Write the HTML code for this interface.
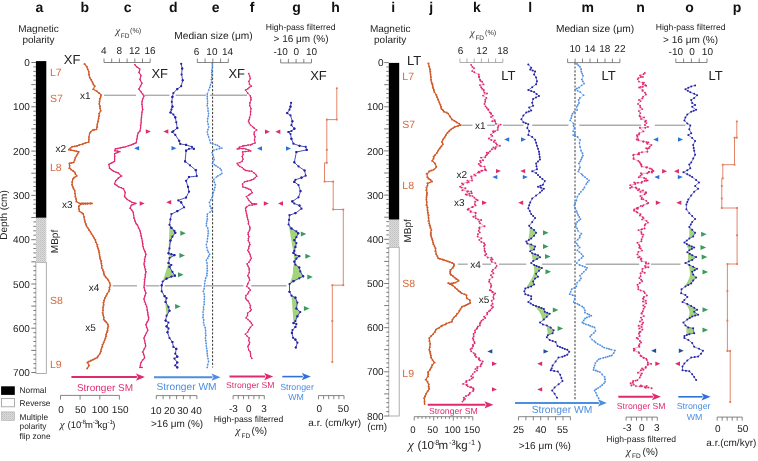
<!DOCTYPE html><html><head><meta charset="utf-8"><style>html,body{margin:0;padding:0;background:#fff;width:758px;height:461px;overflow:hidden}svg{display:block;will-change:transform}text{font-family:"Liberation Sans",sans-serif}</style></head><body>
<svg width="758" height="461" viewBox="0 0 758 461" text-rendering="geometricPrecision">
<defs><pattern id="hatch" width="2" height="2" patternUnits="userSpaceOnUse"><rect width="2" height="2" fill="#dadada"/><rect width="1" height="1" fill="#c0c0c0"/><rect x="1" y="1" width="1" height="1" fill="#cbcbcb"/></pattern></defs>
<rect width="758" height="461" fill="#fff"/>
<text x="39.5" y="11.8" font-size="14" text-anchor="middle" fill="#111" font-weight="bold">a</text>
<text x="84.7" y="11.8" font-size="14" text-anchor="middle" fill="#111" font-weight="bold">b</text>
<text x="127.7" y="11.8" font-size="14" text-anchor="middle" fill="#111" font-weight="bold">c</text>
<text x="173.3" y="11.8" font-size="14" text-anchor="middle" fill="#111" font-weight="bold">d</text>
<text x="215.6" y="11.8" font-size="14" text-anchor="middle" fill="#111" font-weight="bold">e</text>
<text x="252.2" y="11.8" font-size="14" text-anchor="middle" fill="#111" font-weight="bold">f</text>
<text x="296.6" y="11.8" font-size="14" text-anchor="middle" fill="#111" font-weight="bold">g</text>
<text x="335.5" y="11.8" font-size="14" text-anchor="middle" fill="#111" font-weight="bold">h</text>
<text x="393.1" y="11.8" font-size="14" text-anchor="middle" fill="#111" font-weight="bold">i</text>
<text x="431.2" y="11.8" font-size="14" text-anchor="middle" fill="#111" font-weight="bold">j</text>
<text x="476.9" y="11.8" font-size="14" text-anchor="middle" fill="#111" font-weight="bold">k</text>
<text x="530.2" y="11.8" font-size="14" text-anchor="middle" fill="#111" font-weight="bold">l</text>
<text x="587.7" y="11.8" font-size="14" text-anchor="middle" fill="#111" font-weight="bold">m</text>
<text x="640.5" y="11.8" font-size="14" text-anchor="middle" fill="#111" font-weight="bold">n</text>
<text x="689.6" y="11.8" font-size="14" text-anchor="middle" fill="#111" font-weight="bold">o</text>
<text x="737" y="11.8" font-size="14" text-anchor="middle" fill="#111" font-weight="bold">p</text>
<text x="38.5" y="31.8" font-size="10" text-anchor="middle" fill="#222">Magnetic</text>
<text x="38.5" y="42.8" font-size="10" text-anchor="middle" fill="#222">polarity</text>
<rect x="35.9" y="262.4" width="10.4" height="111.1" fill="#fff" stroke="#999" stroke-width="0.8"/>
<rect x="35.9" y="217.7" width="10.4" height="44.7" fill="url(#hatch)"/>
<rect x="35.9" y="61.1" width="10.4" height="156.6" fill="#000"/>
<line x1="31.3" y1="62.5" x2="35.9" y2="62.5" stroke="#555" stroke-width="0.8"/>
<line x1="33.4" y1="66.9" x2="35.9" y2="66.9" stroke="#555" stroke-width="0.8"/>
<line x1="33.4" y1="71.4" x2="35.9" y2="71.4" stroke="#555" stroke-width="0.8"/>
<line x1="33.4" y1="75.8" x2="35.9" y2="75.8" stroke="#555" stroke-width="0.8"/>
<line x1="33.4" y1="80.2" x2="35.9" y2="80.2" stroke="#555" stroke-width="0.8"/>
<line x1="31.3" y1="84.6" x2="35.9" y2="84.6" stroke="#555" stroke-width="0.8"/>
<line x1="33.4" y1="89.1" x2="35.9" y2="89.1" stroke="#555" stroke-width="0.8"/>
<line x1="33.4" y1="93.5" x2="35.9" y2="93.5" stroke="#555" stroke-width="0.8"/>
<line x1="33.4" y1="97.9" x2="35.9" y2="97.9" stroke="#555" stroke-width="0.8"/>
<line x1="33.4" y1="102.4" x2="35.9" y2="102.4" stroke="#555" stroke-width="0.8"/>
<line x1="31.3" y1="106.8" x2="35.9" y2="106.8" stroke="#555" stroke-width="0.8"/>
<line x1="33.4" y1="111.2" x2="35.9" y2="111.2" stroke="#555" stroke-width="0.8"/>
<line x1="33.4" y1="115.6" x2="35.9" y2="115.6" stroke="#555" stroke-width="0.8"/>
<line x1="33.4" y1="120.1" x2="35.9" y2="120.1" stroke="#555" stroke-width="0.8"/>
<line x1="33.4" y1="124.5" x2="35.9" y2="124.5" stroke="#555" stroke-width="0.8"/>
<line x1="31.3" y1="128.9" x2="35.9" y2="128.9" stroke="#555" stroke-width="0.8"/>
<line x1="33.4" y1="133.4" x2="35.9" y2="133.4" stroke="#555" stroke-width="0.8"/>
<line x1="33.4" y1="137.8" x2="35.9" y2="137.8" stroke="#555" stroke-width="0.8"/>
<line x1="33.4" y1="142.2" x2="35.9" y2="142.2" stroke="#555" stroke-width="0.8"/>
<line x1="33.4" y1="146.7" x2="35.9" y2="146.7" stroke="#555" stroke-width="0.8"/>
<line x1="31.3" y1="151.1" x2="35.9" y2="151.1" stroke="#555" stroke-width="0.8"/>
<line x1="33.4" y1="155.5" x2="35.9" y2="155.5" stroke="#555" stroke-width="0.8"/>
<line x1="33.4" y1="159.9" x2="35.9" y2="159.9" stroke="#555" stroke-width="0.8"/>
<line x1="33.4" y1="164.4" x2="35.9" y2="164.4" stroke="#555" stroke-width="0.8"/>
<line x1="33.4" y1="168.8" x2="35.9" y2="168.8" stroke="#555" stroke-width="0.8"/>
<line x1="31.3" y1="173.2" x2="35.9" y2="173.2" stroke="#555" stroke-width="0.8"/>
<line x1="33.4" y1="177.7" x2="35.9" y2="177.7" stroke="#555" stroke-width="0.8"/>
<line x1="33.4" y1="182.1" x2="35.9" y2="182.1" stroke="#555" stroke-width="0.8"/>
<line x1="33.4" y1="186.5" x2="35.9" y2="186.5" stroke="#555" stroke-width="0.8"/>
<line x1="33.4" y1="190.9" x2="35.9" y2="190.9" stroke="#555" stroke-width="0.8"/>
<line x1="31.3" y1="195.4" x2="35.9" y2="195.4" stroke="#555" stroke-width="0.8"/>
<line x1="33.4" y1="199.8" x2="35.9" y2="199.8" stroke="#555" stroke-width="0.8"/>
<line x1="33.4" y1="204.2" x2="35.9" y2="204.2" stroke="#555" stroke-width="0.8"/>
<line x1="33.4" y1="208.7" x2="35.9" y2="208.7" stroke="#555" stroke-width="0.8"/>
<line x1="33.4" y1="213.1" x2="35.9" y2="213.1" stroke="#555" stroke-width="0.8"/>
<line x1="31.3" y1="217.5" x2="35.9" y2="217.5" stroke="#555" stroke-width="0.8"/>
<line x1="33.4" y1="221.9" x2="35.9" y2="221.9" stroke="#555" stroke-width="0.8"/>
<line x1="33.4" y1="226.4" x2="35.9" y2="226.4" stroke="#555" stroke-width="0.8"/>
<line x1="33.4" y1="230.8" x2="35.9" y2="230.8" stroke="#555" stroke-width="0.8"/>
<line x1="33.4" y1="235.2" x2="35.9" y2="235.2" stroke="#555" stroke-width="0.8"/>
<line x1="31.3" y1="239.7" x2="35.9" y2="239.7" stroke="#555" stroke-width="0.8"/>
<line x1="33.4" y1="244.1" x2="35.9" y2="244.1" stroke="#555" stroke-width="0.8"/>
<line x1="33.4" y1="248.5" x2="35.9" y2="248.5" stroke="#555" stroke-width="0.8"/>
<line x1="33.4" y1="252.9" x2="35.9" y2="252.9" stroke="#555" stroke-width="0.8"/>
<line x1="33.4" y1="257.4" x2="35.9" y2="257.4" stroke="#555" stroke-width="0.8"/>
<line x1="31.3" y1="261.8" x2="35.9" y2="261.8" stroke="#555" stroke-width="0.8"/>
<line x1="33.4" y1="266.2" x2="35.9" y2="266.2" stroke="#555" stroke-width="0.8"/>
<line x1="33.4" y1="270.7" x2="35.9" y2="270.7" stroke="#555" stroke-width="0.8"/>
<line x1="33.4" y1="275.1" x2="35.9" y2="275.1" stroke="#555" stroke-width="0.8"/>
<line x1="33.4" y1="279.5" x2="35.9" y2="279.5" stroke="#555" stroke-width="0.8"/>
<line x1="31.3" y1="284" x2="35.9" y2="284" stroke="#555" stroke-width="0.8"/>
<line x1="33.4" y1="288.4" x2="35.9" y2="288.4" stroke="#555" stroke-width="0.8"/>
<line x1="33.4" y1="292.8" x2="35.9" y2="292.8" stroke="#555" stroke-width="0.8"/>
<line x1="33.4" y1="297.2" x2="35.9" y2="297.2" stroke="#555" stroke-width="0.8"/>
<line x1="33.4" y1="301.7" x2="35.9" y2="301.7" stroke="#555" stroke-width="0.8"/>
<line x1="31.3" y1="306.1" x2="35.9" y2="306.1" stroke="#555" stroke-width="0.8"/>
<line x1="33.4" y1="310.5" x2="35.9" y2="310.5" stroke="#555" stroke-width="0.8"/>
<line x1="33.4" y1="315" x2="35.9" y2="315" stroke="#555" stroke-width="0.8"/>
<line x1="33.4" y1="319.4" x2="35.9" y2="319.4" stroke="#555" stroke-width="0.8"/>
<line x1="33.4" y1="323.8" x2="35.9" y2="323.8" stroke="#555" stroke-width="0.8"/>
<line x1="31.3" y1="328.2" x2="35.9" y2="328.2" stroke="#555" stroke-width="0.8"/>
<line x1="33.4" y1="332.7" x2="35.9" y2="332.7" stroke="#555" stroke-width="0.8"/>
<line x1="33.4" y1="337.1" x2="35.9" y2="337.1" stroke="#555" stroke-width="0.8"/>
<line x1="33.4" y1="341.5" x2="35.9" y2="341.5" stroke="#555" stroke-width="0.8"/>
<line x1="33.4" y1="346" x2="35.9" y2="346" stroke="#555" stroke-width="0.8"/>
<line x1="31.3" y1="350.4" x2="35.9" y2="350.4" stroke="#555" stroke-width="0.8"/>
<line x1="33.4" y1="354.8" x2="35.9" y2="354.8" stroke="#555" stroke-width="0.8"/>
<line x1="33.4" y1="359.2" x2="35.9" y2="359.2" stroke="#555" stroke-width="0.8"/>
<line x1="33.4" y1="363.7" x2="35.9" y2="363.7" stroke="#555" stroke-width="0.8"/>
<line x1="33.4" y1="368.1" x2="35.9" y2="368.1" stroke="#555" stroke-width="0.8"/>
<line x1="31.3" y1="372.5" x2="35.9" y2="372.5" stroke="#555" stroke-width="0.8"/>
<text x="29.8" y="66.1" font-size="10" text-anchor="end" fill="#222">0</text>
<text x="29.8" y="110.4" font-size="10" text-anchor="end" fill="#222">100</text>
<text x="29.8" y="154.7" font-size="10" text-anchor="end" fill="#222">200</text>
<text x="29.8" y="199" font-size="10" text-anchor="end" fill="#222">300</text>
<text x="29.8" y="243.3" font-size="10" text-anchor="end" fill="#222">400</text>
<text x="29.8" y="287.6" font-size="10" text-anchor="end" fill="#222">500</text>
<text x="29.8" y="331.8" font-size="10" text-anchor="end" fill="#222">600</text>
<text x="29.8" y="376.1" font-size="10" text-anchor="end" fill="#222">700</text>
<text x="0" y="0" font-size="10" text-anchor="middle" fill="#222" transform="translate(7.4,215) rotate(-90)">Depth (cm)</text>
<text x="0" y="0" font-size="10" text-anchor="middle" fill="#222" transform="translate(58.3,241.5) rotate(-90)">MBpf</text>
<text x="49.9" y="75.6" font-size="10.5" text-anchor="start" fill="#d86a3e">L7</text>
<text x="49.9" y="102.1" font-size="10.5" text-anchor="start" fill="#d86a3e">S7</text>
<text x="49.9" y="171.3" font-size="10.5" text-anchor="start" fill="#d86a3e">L8</text>
<text x="49.9" y="303.5" font-size="10.5" text-anchor="start" fill="#d86a3e">S8</text>
<text x="49.9" y="367.7" font-size="10.5" text-anchor="start" fill="#d86a3e">L9</text>
<polyline points="84.8,63.9 86.7,66.8 88.7,71.7 89.6,77.6 92.6,82.4 94.5,86.3 93.5,89.3 96.5,91.2 99.4,93.2 101.3,95.1 100,99 99.4,103.9 100.4,110.7 99.4,113.7 98.4,118.5 97.4,124.4 96.5,129.3 92.6,130.2 89.6,133.2 89,137.1 88.7,142 85.7,142.9 81.8,144.3 77,145.9 71.7,146.8 68.8,149.7 78.5,151.7 75.6,157.5 73.6,162.4 69.4,163.4 69.7,168.3 74.6,172.2 76.6,176 72.7,179 72.1,184.8 74.6,190.7 75.6,196.5 76.6,201.4 79.5,203.4 92.2,203.4 81.4,204 78.5,206.3 79.5,211.2 83.4,214.1 84.4,219.9 86.3,225.8 89.2,229.9 94.1,237.7 97,244.5 99,252.3 100.9,261.1 101.9,267.9 104.8,275.7 108.7,280.6 110.3,285.4 108.7,291.3 104.8,298.1 103.3,304.9 102.9,312.8 103.9,319.6 106.8,322.5 108.3,326.4 106.8,332.3 104.8,340.1 101.9,346.9 100,353.7 97,357.6 91.2,360.6 87.3,362.5 89.2,365.4 87.3,368.4" fill="none" stroke="#cf5a2a" stroke-width="1.2" stroke-linejoin="round" stroke-linecap="round"/>
<g fill="#cf5a2a"><circle cx="84.4" cy="64" r="0.9"/><circle cx="87" cy="66.7" r="0.9"/><circle cx="87.7" cy="69.2" r="0.9"/><circle cx="88.9" cy="71.8" r="0.9"/><circle cx="88.7" cy="74.5" r="0.9"/><circle cx="89.9" cy="77.6" r="0.9"/><circle cx="91.4" cy="79.9" r="0.9"/><circle cx="92.5" cy="82.5" r="0.9"/><circle cx="93.3" cy="84.5" r="0.9"/><circle cx="94.9" cy="86.2" r="0.9"/><circle cx="93" cy="89.3" r="0.9"/><circle cx="96.9" cy="91.2" r="0.9"/><circle cx="99.1" cy="93.2" r="0.9"/><circle cx="100.8" cy="95" r="0.9"/><circle cx="100.6" cy="97" r="0.9"/><circle cx="99.7" cy="98.9" r="0.9"/><circle cx="99.4" cy="101.4" r="0.9"/><circle cx="99.2" cy="103.8" r="0.9"/><circle cx="100.1" cy="106.2" r="0.9"/><circle cx="100.2" cy="108.3" r="0.9"/><circle cx="100.9" cy="110.8" r="0.9"/><circle cx="99" cy="113.6" r="0.9"/><circle cx="99.1" cy="116.2" r="0.9"/><circle cx="98.8" cy="118.5" r="0.9"/><circle cx="98.2" cy="121.5" r="0.9"/><circle cx="97.2" cy="124.4" r="0.9"/><circle cx="97.3" cy="127" r="0.9"/><circle cx="96.5" cy="129.3" r="0.9"/><circle cx="94.1" cy="129.7" r="0.9"/><circle cx="92.9" cy="130.2" r="0.9"/><circle cx="90.8" cy="131.7" r="0.9"/><circle cx="89.8" cy="133.3" r="0.9"/><circle cx="88.9" cy="137.1" r="0.9"/><circle cx="88.9" cy="139.6" r="0.9"/><circle cx="88.7" cy="142" r="0.9"/><circle cx="85.7" cy="142.8" r="0.9"/><circle cx="83.3" cy="143.7" r="0.9"/><circle cx="82.3" cy="144.3" r="0.9"/><circle cx="79.3" cy="145" r="0.9"/><circle cx="77" cy="146" r="0.9"/><circle cx="74.6" cy="146.4" r="0.9"/><circle cx="72.1" cy="146.7" r="0.9"/><circle cx="70.3" cy="148.4" r="0.9"/><circle cx="68.9" cy="149.7" r="0.9"/><circle cx="71" cy="150.2" r="0.9"/><circle cx="74.1" cy="150.6" r="0.9"/><circle cx="76.4" cy="151.3" r="0.9"/><circle cx="78.9" cy="151.8" r="0.9"/><circle cx="77.8" cy="153.6" r="0.9"/><circle cx="76.6" cy="155.5" r="0.9"/><circle cx="75.2" cy="157.6" r="0.9"/><circle cx="74.7" cy="159.9" r="0.9"/><circle cx="73.6" cy="162.4" r="0.9"/><circle cx="71.4" cy="162.9" r="0.9"/><circle cx="69.4" cy="163.4" r="0.9"/><circle cx="69.7" cy="165.8" r="0.9"/><circle cx="69.2" cy="168.2" r="0.9"/><circle cx="71" cy="169.6" r="0.9"/><circle cx="73.3" cy="171" r="0.9"/><circle cx="74.9" cy="172.3" r="0.9"/><circle cx="75.4" cy="174.2" r="0.9"/><circle cx="76.8" cy="175.9" r="0.9"/><circle cx="74.2" cy="177.4" r="0.9"/><circle cx="73" cy="178.9" r="0.9"/><circle cx="72" cy="181.9" r="0.9"/><circle cx="71.9" cy="184.7" r="0.9"/><circle cx="72.6" cy="186.8" r="0.9"/><circle cx="73.4" cy="188.7" r="0.9"/><circle cx="74.8" cy="190.7" r="0.9"/><circle cx="74.9" cy="193.6" r="0.9"/><circle cx="75.1" cy="196.5" r="0.9"/><circle cx="76" cy="198.9" r="0.9"/><circle cx="76.2" cy="201.5" r="0.9"/><circle cx="79.5" cy="203.3" r="0.9"/><circle cx="81.7" cy="203.5" r="0.9"/><circle cx="83.3" cy="203.3" r="0.9"/><circle cx="85.5" cy="203.5" r="0.9"/><circle cx="87.6" cy="203.5" r="0.9"/><circle cx="90.3" cy="203.4" r="0.9"/><circle cx="91.9" cy="203.5" r="0.9"/><circle cx="90.3" cy="203.5" r="0.9"/><circle cx="87.6" cy="203.7" r="0.9"/><circle cx="85.6" cy="203.8" r="0.9"/><circle cx="83.4" cy="203.9" r="0.9"/><circle cx="81" cy="203.9" r="0.9"/><circle cx="79" cy="206.4" r="0.9"/><circle cx="78.8" cy="208.9" r="0.9"/><circle cx="79.3" cy="211.3" r="0.9"/><circle cx="81.7" cy="212.6" r="0.9"/><circle cx="83.2" cy="214" r="0.9"/><circle cx="84.3" cy="216.9" r="0.9"/><circle cx="84.7" cy="220" r="0.9"/><circle cx="85.1" cy="221.8" r="0.9"/><circle cx="86" cy="224" r="0.9"/><circle cx="86.5" cy="225.8" r="0.9"/><circle cx="87.6" cy="227.8" r="0.9"/><circle cx="88.9" cy="230" r="0.9"/><circle cx="90.4" cy="231.8" r="0.9"/><circle cx="91.3" cy="233.8" r="0.9"/><circle cx="92.7" cy="235.7" r="0.9"/><circle cx="93.9" cy="237.8" r="0.9"/><circle cx="95.5" cy="239.8" r="0.9"/><circle cx="95.7" cy="242.2" r="0.9"/><circle cx="97.5" cy="244.6" r="0.9"/><circle cx="97.3" cy="246.4" r="0.9"/><circle cx="98.2" cy="248.5" r="0.9"/><circle cx="98.9" cy="250.3" r="0.9"/><circle cx="99.4" cy="252.4" r="0.9"/><circle cx="99.5" cy="254.6" r="0.9"/><circle cx="99.7" cy="256.8" r="0.9"/><circle cx="100" cy="258.8" r="0.9"/><circle cx="101.3" cy="261" r="0.9"/><circle cx="101.5" cy="263.4" r="0.9"/><circle cx="101.9" cy="265.6" r="0.9"/><circle cx="101.7" cy="267.8" r="0.9"/><circle cx="103" cy="269.9" r="0.9"/><circle cx="103.8" cy="271.9" r="0.9"/><circle cx="103.7" cy="273.8" r="0.9"/><circle cx="104.4" cy="275.6" r="0.9"/><circle cx="105.7" cy="277.4" r="0.9"/><circle cx="107.7" cy="279.1" r="0.9"/><circle cx="108.5" cy="280.6" r="0.9"/><circle cx="109.8" cy="283" r="0.9"/><circle cx="110.4" cy="285.3" r="0.9"/><circle cx="109.3" cy="287.3" r="0.9"/><circle cx="109.6" cy="289.4" r="0.9"/><circle cx="109.1" cy="291.3" r="0.9"/><circle cx="107.2" cy="293.7" r="0.9"/><circle cx="106.4" cy="295.7" r="0.9"/><circle cx="105" cy="298" r="0.9"/><circle cx="103.9" cy="300.5" r="0.9"/><circle cx="103.3" cy="302.6" r="0.9"/><circle cx="103.8" cy="304.9" r="0.9"/><circle cx="102.8" cy="307.4" r="0.9"/><circle cx="102.8" cy="310.2" r="0.9"/><circle cx="102.5" cy="312.9" r="0.9"/><circle cx="103.1" cy="315.2" r="0.9"/><circle cx="104" cy="317.3" r="0.9"/><circle cx="103.7" cy="319.6" r="0.9"/><circle cx="105" cy="321.1" r="0.9"/><circle cx="106.3" cy="322.4" r="0.9"/><circle cx="108" cy="324.4" r="0.9"/><circle cx="108.4" cy="326.4" r="0.9"/><circle cx="107.6" cy="328.2" r="0.9"/><circle cx="107.7" cy="330.5" r="0.9"/><circle cx="107.3" cy="332.2" r="0.9"/><circle cx="106" cy="334.3" r="0.9"/><circle cx="106.3" cy="336.2" r="0.9"/><circle cx="105.5" cy="338.2" r="0.9"/><circle cx="104.6" cy="340.1" r="0.9"/><circle cx="103.6" cy="342.3" r="0.9"/><circle cx="102.4" cy="344.6" r="0.9"/><circle cx="102.4" cy="346.9" r="0.9"/><circle cx="101.4" cy="349.2" r="0.9"/><circle cx="101.1" cy="351.4" r="0.9"/><circle cx="99.8" cy="353.6" r="0.9"/><circle cx="98.3" cy="355.8" r="0.9"/><circle cx="97.4" cy="357.5" r="0.9"/><circle cx="94.9" cy="358.6" r="0.9"/><circle cx="93.2" cy="359.6" r="0.9"/><circle cx="90.9" cy="360.5" r="0.9"/><circle cx="89" cy="361.4" r="0.9"/><circle cx="87.4" cy="362.4" r="0.9"/><circle cx="88.8" cy="365.4" r="0.9"/><circle cx="87.1" cy="368.5" r="0.9"/></g>
<polyline points="134.7,64.7 137,67.1 140,69 139,72.5 141,75.5 140,79.4 141.9,83.3 139,89.1 141,92 143.9,95.9 141.9,101.8 142.5,109.6 141.3,117.4 140.9,125.2 140,131 138,133 137,138.8 136.1,142.9 131.2,144.9 125.3,146.8 120.5,147.8 115.6,148.8 114.6,150.7 119.5,151.7 114.6,153.6 114.6,161.4 108.8,164.4 109.7,168.3 113.6,171.2 118.5,173.1 121.4,176.1 118.5,178 115.6,180.9 114.6,183.9 118.5,186.8 123.4,188.7 125.3,192.6 124.4,196.5 127.3,199.5 132.2,202.4 136.1,203.4 131.2,205.3 130.2,208.2 133.1,212.1 134.1,218 136.1,223.8 137.4,225 140,230.8 141.9,238.6 142.9,246.4 145.8,254.2 143.9,264 145.8,271.8 144.8,279.6 143.9,287.4 145.8,293.2 143.9,299.1 146.8,306.9 147.8,312.8 148.7,319.6 145.8,324.5 147.8,330.3 143.9,338.1 145.8,345.9 142.9,351.8 144.8,357.6 140.9,362.5 140,367.4 141.9,367.4" fill="none" stroke="#e02a70" stroke-width="1.2" stroke-linejoin="round" stroke-linecap="round"/>
<g fill="#e02a70"><circle cx="135" cy="64.8" r="0.75"/><circle cx="137" cy="67" r="0.75"/><circle cx="139.5" cy="69" r="0.75"/><circle cx="139" cy="72.6" r="0.75"/><circle cx="140.9" cy="75.6" r="0.75"/><circle cx="139.8" cy="79.5" r="0.75"/><circle cx="142.1" cy="83.3" r="0.75"/><circle cx="140.5" cy="86.3" r="0.75"/><circle cx="138.7" cy="89.1" r="0.75"/><circle cx="141.3" cy="91.9" r="0.75"/><circle cx="142.8" cy="94" r="0.75"/><circle cx="144.2" cy="95.9" r="0.75"/><circle cx="142.5" cy="98.9" r="0.75"/><circle cx="142.2" cy="101.8" r="0.75"/><circle cx="141.7" cy="104.3" r="0.75"/><circle cx="142.4" cy="106.9" r="0.75"/><circle cx="143" cy="109.6" r="0.75"/><circle cx="141.8" cy="112.2" r="0.75"/><circle cx="141.6" cy="114.9" r="0.75"/><circle cx="141.7" cy="117.4" r="0.75"/><circle cx="141.3" cy="120.1" r="0.75"/><circle cx="141.3" cy="122.7" r="0.75"/><circle cx="140.4" cy="125.2" r="0.75"/><circle cx="140.6" cy="128" r="0.75"/><circle cx="140.1" cy="130.9" r="0.75"/><circle cx="138.4" cy="133" r="0.75"/><circle cx="137.1" cy="135.9" r="0.75"/><circle cx="136.8" cy="138.7" r="0.75"/><circle cx="136.1" cy="142.8" r="0.75"/><circle cx="133.4" cy="144" r="0.75"/><circle cx="131.4" cy="144.8" r="0.75"/><circle cx="128.5" cy="145.7" r="0.75"/><circle cx="125.1" cy="146.9" r="0.75"/><circle cx="123" cy="147.2" r="0.75"/><circle cx="120.4" cy="147.8" r="0.75"/><circle cx="117.7" cy="148.4" r="0.75"/><circle cx="115.2" cy="148.8" r="0.75"/><circle cx="114.8" cy="150.7" r="0.75"/><circle cx="117.5" cy="151.1" r="0.75"/><circle cx="120" cy="151.8" r="0.75"/><circle cx="117.2" cy="152.8" r="0.75"/><circle cx="114.5" cy="153.7" r="0.75"/><circle cx="114.9" cy="156.2" r="0.75"/><circle cx="114.6" cy="158.9" r="0.75"/><circle cx="114.5" cy="161.3" r="0.75"/><circle cx="111.9" cy="162.8" r="0.75"/><circle cx="108.8" cy="164.5" r="0.75"/><circle cx="109.4" cy="168.2" r="0.75"/><circle cx="111.3" cy="169.8" r="0.75"/><circle cx="113.5" cy="171.1" r="0.75"/><circle cx="116" cy="172.3" r="0.75"/><circle cx="118.3" cy="173.1" r="0.75"/><circle cx="121.8" cy="176.1" r="0.75"/><circle cx="118.3" cy="178" r="0.75"/><circle cx="115.6" cy="180.8" r="0.75"/><circle cx="114.5" cy="183.8" r="0.75"/><circle cx="116.9" cy="185.3" r="0.75"/><circle cx="118.7" cy="186.9" r="0.75"/><circle cx="121.4" cy="187.7" r="0.75"/><circle cx="123.5" cy="188.6" r="0.75"/><circle cx="125.2" cy="192.6" r="0.75"/><circle cx="124.7" cy="196.6" r="0.75"/><circle cx="127.1" cy="199.4" r="0.75"/><circle cx="129.7" cy="200.8" r="0.75"/><circle cx="131.7" cy="202.5" r="0.75"/><circle cx="135.7" cy="203.5" r="0.75"/><circle cx="133.5" cy="204.5" r="0.75"/><circle cx="131.6" cy="205.2" r="0.75"/><circle cx="129.9" cy="208.3" r="0.75"/><circle cx="131.8" cy="210.1" r="0.75"/><circle cx="133.4" cy="212.2" r="0.75"/><circle cx="133.6" cy="215" r="0.75"/><circle cx="133.7" cy="218" r="0.75"/><circle cx="134.7" cy="220.9" r="0.75"/><circle cx="136.2" cy="223.7" r="0.75"/><circle cx="137.5" cy="224.9" r="0.75"/><circle cx="138.3" cy="227.9" r="0.75"/><circle cx="140" cy="230.9" r="0.75"/><circle cx="140.8" cy="233.5" r="0.75"/><circle cx="140.9" cy="236.1" r="0.75"/><circle cx="141.5" cy="238.6" r="0.75"/><circle cx="142.6" cy="241.3" r="0.75"/><circle cx="143" cy="243.8" r="0.75"/><circle cx="143.1" cy="246.5" r="0.75"/><circle cx="143.5" cy="249.1" r="0.75"/><circle cx="145.2" cy="251.6" r="0.75"/><circle cx="146.1" cy="254.2" r="0.75"/><circle cx="145.1" cy="256.7" r="0.75"/><circle cx="144.4" cy="259.2" r="0.75"/><circle cx="144.9" cy="261.5" r="0.75"/><circle cx="144.3" cy="263.9" r="0.75"/><circle cx="144.9" cy="266.5" r="0.75"/><circle cx="145.6" cy="269.2" r="0.75"/><circle cx="146.2" cy="271.7" r="0.75"/><circle cx="145.1" cy="274.5" r="0.75"/><circle cx="145.3" cy="277" r="0.75"/><circle cx="144.3" cy="279.5" r="0.75"/><circle cx="144.4" cy="282.1" r="0.75"/><circle cx="144.7" cy="284.9" r="0.75"/><circle cx="144.3" cy="287.5" r="0.75"/><circle cx="144.7" cy="290.2" r="0.75"/><circle cx="146" cy="293.1" r="0.75"/><circle cx="144.9" cy="296.1" r="0.75"/><circle cx="143.9" cy="299" r="0.75"/><circle cx="144.4" cy="301.7" r="0.75"/><circle cx="145.4" cy="304.3" r="0.75"/><circle cx="146.5" cy="306.8" r="0.75"/><circle cx="147" cy="309.9" r="0.75"/><circle cx="147.7" cy="312.7" r="0.75"/><circle cx="147.8" cy="315.1" r="0.75"/><circle cx="148.8" cy="317.3" r="0.75"/><circle cx="148.4" cy="319.5" r="0.75"/><circle cx="147" cy="322.1" r="0.75"/><circle cx="146.1" cy="324.5" r="0.75"/><circle cx="146.5" cy="327.3" r="0.75"/><circle cx="147.7" cy="330.3" r="0.75"/><circle cx="146.4" cy="333" r="0.75"/><circle cx="145.3" cy="335.5" r="0.75"/><circle cx="144.1" cy="338.1" r="0.75"/><circle cx="144.8" cy="340.7" r="0.75"/><circle cx="145.3" cy="343.4" r="0.75"/><circle cx="145.5" cy="345.9" r="0.75"/><circle cx="144.2" cy="348.7" r="0.75"/><circle cx="142.4" cy="351.9" r="0.75"/><circle cx="143.5" cy="354.8" r="0.75"/><circle cx="144.4" cy="357.6" r="0.75"/><circle cx="142.4" cy="360.1" r="0.75"/><circle cx="141.2" cy="362.4" r="0.75"/><circle cx="140.5" cy="365.1" r="0.75"/><circle cx="139.8" cy="367.4" r="0.75"/><circle cx="142.1" cy="367.5" r="0.75"/></g>
<line x1="212.6" y1="62.5" x2="212.6" y2="367.5" stroke="#333" stroke-width="1.0" stroke-dasharray="2.2,1.6"/>
<polyline points="212.4,63.8 212,74.5 211.4,82.3 208.5,90.1 207.5,94 207.5,105.7 208.5,113.5 207.5,121.3 208.5,127.1 207.5,132 208.5,136.9 209.5,140 210.4,142.9 217.5,145.3 221.8,148 214.3,150 212.4,152.7 214.3,159.5 212.4,163.4 218,167 221.5,170 222,173.5 216.5,177 213.4,179.5 215.3,184.8 213.4,192.6 212.4,197.5 209.5,202.4 210.4,206.3 212.4,210.2 207.5,214.1 206.5,225.8 208.5,230.8 207.5,238.6 206.5,244.5 207.5,250.3 209.5,254.2 206.5,260.1 207.5,265.9 206.5,275.7 204.6,283.5 203.6,291.3 204.6,299.1 203.6,306.9 203,314.7 203.6,322.5 205.6,330.3 205.6,338.1 206.5,345.9 207.5,355.7 208.5,361.5 207.5,367.4" fill="none" stroke="#4c8ee0" stroke-width="0.5" stroke-linejoin="round" stroke-linecap="round"/>
<g fill="#4c8ee0"><circle cx="212.3" cy="63.7" r="0.85"/><circle cx="212.4" cy="65.8" r="0.85"/><circle cx="212.3" cy="68" r="0.85"/><circle cx="211.8" cy="70.2" r="0.85"/><circle cx="211.7" cy="72.3" r="0.85"/><circle cx="211.7" cy="74.4" r="0.85"/><circle cx="211.7" cy="77.2" r="0.85"/><circle cx="211.3" cy="79.6" r="0.85"/><circle cx="211.5" cy="82.4" r="0.85"/><circle cx="210.5" cy="84.9" r="0.85"/><circle cx="209.8" cy="87.4" r="0.85"/><circle cx="208.8" cy="90" r="0.85"/><circle cx="207.2" cy="93.9" r="0.85"/><circle cx="207.3" cy="96.4" r="0.85"/><circle cx="207.2" cy="98.7" r="0.85"/><circle cx="207.6" cy="101" r="0.85"/><circle cx="207.5" cy="103.3" r="0.85"/><circle cx="207.1" cy="105.6" r="0.85"/><circle cx="208" cy="108.3" r="0.85"/><circle cx="208" cy="110.9" r="0.85"/><circle cx="208.5" cy="113.5" r="0.85"/><circle cx="208.4" cy="116.1" r="0.85"/><circle cx="207.6" cy="118.7" r="0.85"/><circle cx="207.5" cy="121.4" r="0.85"/><circle cx="208.2" cy="124.1" r="0.85"/><circle cx="208.9" cy="127" r="0.85"/><circle cx="207.9" cy="129.6" r="0.85"/><circle cx="207.2" cy="132" r="0.85"/><circle cx="207.6" cy="134.5" r="0.85"/><circle cx="208.7" cy="136.9" r="0.85"/><circle cx="209.8" cy="140" r="0.85"/><circle cx="210.6" cy="142.9" r="0.85"/><circle cx="212.8" cy="143.7" r="0.85"/><circle cx="215.4" cy="144.6" r="0.85"/><circle cx="217.5" cy="145.3" r="0.85"/><circle cx="219.3" cy="146.7" r="0.85"/><circle cx="221.9" cy="148.1" r="0.85"/><circle cx="219.6" cy="148.6" r="0.85"/><circle cx="216.7" cy="149.4" r="0.85"/><circle cx="213.9" cy="150" r="0.85"/><circle cx="212.1" cy="152.6" r="0.85"/><circle cx="212.7" cy="155" r="0.85"/><circle cx="213.4" cy="157.2" r="0.85"/><circle cx="214.2" cy="159.6" r="0.85"/><circle cx="213" cy="161.4" r="0.85"/><circle cx="212.4" cy="163.5" r="0.85"/><circle cx="214.5" cy="164.7" r="0.85"/><circle cx="216" cy="165.8" r="0.85"/><circle cx="217.9" cy="167.1" r="0.85"/><circle cx="220.1" cy="168.4" r="0.85"/><circle cx="221.2" cy="169.9" r="0.85"/><circle cx="221.8" cy="173.5" r="0.85"/><circle cx="220.2" cy="174.6" r="0.85"/><circle cx="217.9" cy="175.8" r="0.85"/><circle cx="216.4" cy="177" r="0.85"/><circle cx="213.8" cy="179.5" r="0.85"/><circle cx="214.4" cy="182.2" r="0.85"/><circle cx="215.4" cy="184.7" r="0.85"/><circle cx="215" cy="187.5" r="0.85"/><circle cx="214.3" cy="190.1" r="0.85"/><circle cx="213.3" cy="192.6" r="0.85"/><circle cx="212.6" cy="195.1" r="0.85"/><circle cx="212" cy="197.4" r="0.85"/><circle cx="210.7" cy="199.9" r="0.85"/><circle cx="209.4" cy="202.3" r="0.85"/><circle cx="210" cy="206.2" r="0.85"/><circle cx="211.1" cy="208.2" r="0.85"/><circle cx="212" cy="210.3" r="0.85"/><circle cx="210" cy="212.1" r="0.85"/><circle cx="207.3" cy="214.1" r="0.85"/><circle cx="207.2" cy="216.3" r="0.85"/><circle cx="207.4" cy="218.9" r="0.85"/><circle cx="206.9" cy="221.1" r="0.85"/><circle cx="206.4" cy="223.4" r="0.85"/><circle cx="206.4" cy="225.7" r="0.85"/><circle cx="207.8" cy="228.2" r="0.85"/><circle cx="208.1" cy="230.9" r="0.85"/><circle cx="208.2" cy="233.3" r="0.85"/><circle cx="207.9" cy="235.9" r="0.85"/><circle cx="207.5" cy="238.7" r="0.85"/><circle cx="207.3" cy="241.6" r="0.85"/><circle cx="206.3" cy="244.5" r="0.85"/><circle cx="206.7" cy="247.5" r="0.85"/><circle cx="207.5" cy="250.4" r="0.85"/><circle cx="208.4" cy="252.2" r="0.85"/><circle cx="209.7" cy="254.3" r="0.85"/><circle cx="208.8" cy="256.2" r="0.85"/><circle cx="207.8" cy="258.2" r="0.85"/><circle cx="206.3" cy="260.1" r="0.85"/><circle cx="206.9" cy="262.9" r="0.85"/><circle cx="207.1" cy="265.8" r="0.85"/><circle cx="207.1" cy="268.4" r="0.85"/><circle cx="207.4" cy="270.8" r="0.85"/><circle cx="207.1" cy="273.4" r="0.85"/><circle cx="206.9" cy="275.7" r="0.85"/><circle cx="205.6" cy="278.2" r="0.85"/><circle cx="205" cy="280.8" r="0.85"/><circle cx="204.7" cy="283.6" r="0.85"/><circle cx="204.5" cy="286.1" r="0.85"/><circle cx="204.1" cy="288.8" r="0.85"/><circle cx="203.3" cy="291.3" r="0.85"/><circle cx="204.3" cy="294" r="0.85"/><circle cx="204.5" cy="296.5" r="0.85"/><circle cx="204.3" cy="299.2" r="0.85"/><circle cx="204.1" cy="301.8" r="0.85"/><circle cx="204.3" cy="304.3" r="0.85"/><circle cx="203.5" cy="307" r="0.85"/><circle cx="203.6" cy="309.4" r="0.85"/><circle cx="202.9" cy="312" r="0.85"/><circle cx="203.3" cy="314.8" r="0.85"/><circle cx="202.9" cy="317.4" r="0.85"/><circle cx="203.8" cy="319.9" r="0.85"/><circle cx="203.5" cy="322.5" r="0.85"/><circle cx="204" cy="325" r="0.85"/><circle cx="205.3" cy="327.7" r="0.85"/><circle cx="205.6" cy="330.4" r="0.85"/><circle cx="205.5" cy="333" r="0.85"/><circle cx="205.9" cy="335.4" r="0.85"/><circle cx="205.4" cy="338.1" r="0.85"/><circle cx="205.7" cy="340.7" r="0.85"/><circle cx="206" cy="343.3" r="0.85"/><circle cx="206.2" cy="346" r="0.85"/><circle cx="206.6" cy="348.3" r="0.85"/><circle cx="207.1" cy="350.9" r="0.85"/><circle cx="207.2" cy="353.4" r="0.85"/><circle cx="207.5" cy="355.7" r="0.85"/><circle cx="208" cy="358.5" r="0.85"/><circle cx="208.5" cy="361.4" r="0.85"/><circle cx="207.6" cy="364.5" r="0.85"/><circle cx="207.2" cy="367.4" r="0.85"/></g>
<polygon points="169.5,224.8 170.1,225.8 170.8,226.9 171.4,227.9 172.2,228.6 172.9,229.4 173.7,230.1 174.4,230.8 174.9,231.8 175.3,232.8 174.6,233.8 173.9,234.8 173.1,235.7 172.4,236.7 171.9,237.7 171.4,238.6 171,239.6 170.5,240.6 170.4,241.7 170.2,242.8 170.1,243.9 169.9,245.1 169.8,246.2 169.6,247.3 169.5,248.4 169.3,249.4 169.1,250.4 168.9,251.3 168.7,252.3 168.5,253.3 168.5,253.3 168.5,252.3 168.6,251.3 168.6,250.4 168.6,249.4 168.7,248.4 168.7,247.3 168.8,246.2 168.8,245.1 168.8,243.9 168.9,242.8 168.9,241.7 168.9,240.6 169,239.6 169,238.6 169,237.7 169.1,236.7 169.1,235.7 169.2,234.8 169.2,233.8 169.2,232.8 169.3,231.8 169.3,230.8 169.3,230.1 169.3,229.4 169.4,228.6 169.4,227.9 169.4,226.9 169.5,225.8 169.5,224.8" fill="#a3d47c"/>
<polygon points="168.5,253.3 169.5,253.6 170.4,253.9 171.4,254.2 172.4,254.5 173.4,254.9 174.4,255.2 173.4,255.8 172.4,256.4 171.5,256.9 170.5,257.5 169.5,258.1 169.5,258.1 169.4,257.5 169.3,256.9 169.1,256.4 169,255.8 168.9,255.2 168.8,254.9 168.8,254.5 168.7,254.2 168.6,253.9 168.6,253.6 168.5,253.3" fill="#a3d47c"/>
<polygon points="168.5,263 169.5,263.7 170.4,264.3 171.4,265 170.4,265.9 169.5,266.9 170.1,267.9 170.7,268.9 171.2,269.8 171.8,270.8 172.4,271.8 173.1,272.8 173.7,273.8 174.3,274.7 175,275.7 173.8,276 172.6,276.4 171.4,276.7 170.4,277.1 169.5,277.5 168.5,277.8 167.6,278.2 166.6,278.6 165.6,279.3 164.6,280.1 163.7,280.8 162.7,281.5 162.7,281.5 162.9,280.8 163.2,280.1 163.4,279.3 163.6,278.6 163.7,278.2 163.8,277.8 164,277.5 164.1,277.1 164.2,276.7 164.3,276.4 164.4,276 164.5,275.7 164.8,274.7 165.1,273.8 165.4,272.8 165.7,271.8 166,270.8 166.4,269.8 166.7,268.9 167,267.9 167.3,266.9 167.6,265.9 167.9,265 168.1,264.3 168.3,263.7 168.5,263" fill="#a3d47c"/>
<polygon points="164.6,296.2 165.6,297.1 166.6,298.1 166.3,299.1 166.1,300.1 165.8,301 165.6,302 166.2,303 166.8,304 167.3,304.9 167.9,305.9 168.5,306.9 168.8,307.9 169,308.9 169.2,309.8 169.5,310.8 168.9,311.8 168.3,312.8 167.8,313.7 167.2,314.7 166.6,315.7 166.6,315.7 166.5,314.7 166.4,313.7 166.3,312.8 166.2,311.8 166.1,310.8 166,309.8 165.9,308.9 165.8,307.9 165.7,306.9 165.6,305.9 165.5,304.9 165.4,304 165.3,303 165.2,302 165.1,301 165,300.1 164.9,299.1 164.8,298.1 164.7,297.1 164.6,296.2" fill="#a3d47c"/>
<polyline points="181.2,63.8 182.2,68.6 181.6,74.5 182.7,80.3 181.2,86.2 177.3,89.1 173.4,93 172.4,96.9 171.8,101.8 172.4,106.7 171.4,109.6 170.5,112.5 173.4,114.5 175.3,117.4 176.3,122.3 177.3,128.1 173.4,131 172.4,132 175.3,134.9 179.2,140.8 180.2,143.9 186.1,144.9 191.9,146.8 193.9,148.8 189,148.8 186.1,150.7 185.1,161.4 190,165.3 195.8,170.2 196.8,176.1 189,177 186.1,180.9 188,186.8 189,191.7 186.1,197.5 178.3,200.4 181.2,202.4 184.1,207.3 177.3,211.2 171.4,214.1 169.5,224.8 171.4,227.9 174.4,230.8 175.3,232.8 172.4,236.7 170.5,240.6 169.5,248.4 168.5,253.3 171.4,254.2 174.4,255.2 169.5,258.1 168.5,263 171.4,265 169.5,266.9 172.4,271.8 175,275.7 171.4,276.7 166.6,278.6 162.7,281.5 161.7,285.4 161.7,291.3 164.6,296.2 166.6,298.1 165.6,302 168.5,306.9 169.5,310.8 166.6,315.7 165.6,320.6 168.5,322.5 166.6,326.4 168.5,328.4 167.5,332.3 169.5,338.1 172.4,342 173.4,346.9 176.3,348.9 175.3,353.7 177.3,356.7 174.4,358.6 177.3,362.5 175.3,365.4 177.3,367.4" fill="none" stroke="#2323a6" stroke-width="0.8" stroke-linejoin="round" stroke-linecap="round"/>
<g fill="#2323a6"><circle cx="181.2" cy="63.8" r="1.1"/><circle cx="182.2" cy="68.6" r="1.1"/><circle cx="181.6" cy="74.5" r="1.1"/><circle cx="182.7" cy="80.3" r="1.1"/><circle cx="181.2" cy="86.2" r="1.1"/><circle cx="177.3" cy="89.1" r="1.1"/><circle cx="173.4" cy="93" r="1.1"/><circle cx="172.4" cy="96.9" r="1.1"/><circle cx="171.8" cy="101.8" r="1.1"/><circle cx="172.4" cy="106.7" r="1.1"/><circle cx="171.4" cy="109.6" r="1.1"/><circle cx="170.5" cy="112.5" r="1.1"/><circle cx="173.4" cy="114.5" r="1.1"/><circle cx="175.3" cy="117.4" r="1.1"/><circle cx="176.3" cy="122.3" r="1.1"/><circle cx="177.3" cy="128.1" r="1.1"/><circle cx="173.4" cy="131" r="1.1"/><circle cx="172.4" cy="132" r="1.1"/><circle cx="175.3" cy="134.9" r="1.1"/><circle cx="179.2" cy="140.8" r="1.1"/><circle cx="180.2" cy="143.9" r="1.1"/><circle cx="186.1" cy="144.9" r="1.1"/><circle cx="191.9" cy="146.8" r="1.1"/><circle cx="193.9" cy="148.8" r="1.1"/><circle cx="189" cy="148.8" r="1.1"/><circle cx="186.1" cy="150.7" r="1.1"/><circle cx="185.1" cy="161.4" r="1.1"/><circle cx="190" cy="165.3" r="1.1"/><circle cx="195.8" cy="170.2" r="1.1"/><circle cx="196.8" cy="176.1" r="1.1"/><circle cx="189" cy="177" r="1.1"/><circle cx="186.1" cy="180.9" r="1.1"/><circle cx="188" cy="186.8" r="1.1"/><circle cx="189" cy="191.7" r="1.1"/><circle cx="186.1" cy="197.5" r="1.1"/><circle cx="178.3" cy="200.4" r="1.1"/><circle cx="181.2" cy="202.4" r="1.1"/><circle cx="184.1" cy="207.3" r="1.1"/><circle cx="177.3" cy="211.2" r="1.1"/><circle cx="171.4" cy="214.1" r="1.1"/><circle cx="169.5" cy="224.8" r="1.1"/><circle cx="171.4" cy="227.9" r="1.1"/><circle cx="174.4" cy="230.8" r="1.1"/><circle cx="175.3" cy="232.8" r="1.1"/><circle cx="172.4" cy="236.7" r="1.1"/><circle cx="170.5" cy="240.6" r="1.1"/><circle cx="169.5" cy="248.4" r="1.1"/><circle cx="168.5" cy="253.3" r="1.1"/><circle cx="171.4" cy="254.2" r="1.1"/><circle cx="174.4" cy="255.2" r="1.1"/><circle cx="169.5" cy="258.1" r="1.1"/><circle cx="168.5" cy="263" r="1.1"/><circle cx="171.4" cy="265" r="1.1"/><circle cx="169.5" cy="266.9" r="1.1"/><circle cx="172.4" cy="271.8" r="1.1"/><circle cx="175" cy="275.7" r="1.1"/><circle cx="171.4" cy="276.7" r="1.1"/><circle cx="166.6" cy="278.6" r="1.1"/><circle cx="162.7" cy="281.5" r="1.1"/><circle cx="161.7" cy="285.4" r="1.1"/><circle cx="161.7" cy="291.3" r="1.1"/><circle cx="164.6" cy="296.2" r="1.1"/><circle cx="166.6" cy="298.1" r="1.1"/><circle cx="165.6" cy="302" r="1.1"/><circle cx="168.5" cy="306.9" r="1.1"/><circle cx="169.5" cy="310.8" r="1.1"/><circle cx="166.6" cy="315.7" r="1.1"/><circle cx="165.6" cy="320.6" r="1.1"/><circle cx="168.5" cy="322.5" r="1.1"/><circle cx="166.6" cy="326.4" r="1.1"/><circle cx="168.5" cy="328.4" r="1.1"/><circle cx="167.5" cy="332.3" r="1.1"/><circle cx="169.5" cy="338.1" r="1.1"/><circle cx="172.4" cy="342" r="1.1"/><circle cx="173.4" cy="346.9" r="1.1"/><circle cx="176.3" cy="348.9" r="1.1"/><circle cx="175.3" cy="353.7" r="1.1"/><circle cx="177.3" cy="356.7" r="1.1"/><circle cx="174.4" cy="358.6" r="1.1"/><circle cx="177.3" cy="362.5" r="1.1"/><circle cx="175.3" cy="365.4" r="1.1"/><circle cx="177.3" cy="367.4" r="1.1"/><circle cx="182.2" cy="68.6" r="1.1"/><circle cx="182.7" cy="80.3" r="1.1"/><circle cx="177.3" cy="89.1" r="1.1"/><circle cx="172.4" cy="96.9" r="1.1"/><circle cx="172.4" cy="106.7" r="1.1"/><circle cx="170.5" cy="112.5" r="1.1"/><circle cx="175.3" cy="117.4" r="1.1"/><circle cx="177.3" cy="128.1" r="1.1"/><circle cx="172.4" cy="132" r="1.1"/><circle cx="179.2" cy="140.8" r="1.1"/><circle cx="186.1" cy="144.9" r="1.1"/><circle cx="193.9" cy="148.8" r="1.1"/><circle cx="186.1" cy="150.7" r="1.1"/><circle cx="185.1" cy="161.4" r="1.1"/><circle cx="195.8" cy="170.2" r="1.1"/><circle cx="189" cy="177" r="1.1"/><circle cx="188" cy="186.8" r="1.1"/><circle cx="186.1" cy="197.5" r="1.1"/><circle cx="181.2" cy="202.4" r="1.1"/><circle cx="177.3" cy="211.2" r="1.1"/><circle cx="170.4" cy="219.4" r="1.1"/><circle cx="171.4" cy="227.9" r="1.1"/><circle cx="175.3" cy="232.8" r="1.1"/><circle cx="170.5" cy="240.6" r="1.1"/><circle cx="168.5" cy="253.3" r="1.1"/><circle cx="174.4" cy="255.2" r="1.1"/><circle cx="168.5" cy="263" r="1.1"/><circle cx="169.5" cy="266.9" r="1.1"/><circle cx="175" cy="275.7" r="1.1"/><circle cx="166.6" cy="278.6" r="1.1"/><circle cx="161.7" cy="285.4" r="1.1"/><circle cx="164.6" cy="296.2" r="1.1"/><circle cx="165.6" cy="302" r="1.1"/><circle cx="169.5" cy="310.8" r="1.1"/><circle cx="165.6" cy="320.6" r="1.1"/><circle cx="166.6" cy="326.4" r="1.1"/><circle cx="167.5" cy="332.3" r="1.1"/><circle cx="172.4" cy="342" r="1.1"/><circle cx="176.3" cy="348.9" r="1.1"/><circle cx="177.3" cy="356.7" r="1.1"/><circle cx="177.3" cy="362.5" r="1.1"/><circle cx="177.3" cy="367.4" r="1.1"/></g>
<polyline points="248.7,73.6 249.7,76.1 250.3,78.6 248.9,81.3 249.5,84.3 251.4,86.1 249.3,87.4 247.8,88.8 245.5,90 247.7,93.1 250.3,95.8 250.8,97.7 251,99.7 249.9,102.9 249.7,105.6 251,108.7 250.6,111.7 250.5,114.5 249.6,117.6 249.2,119.5 248.5,121.2 249.3,123.1 250.5,125 252.6,126.7 254.2,128.2 256.6,129.9 254.3,132 254.1,134.4 255,136.7 254.5,139.8 255.1,143 252.3,144 250.7,144.9 248.1,145 246.2,145.5 244,145.7 242.7,146 239.6,147.2 237.3,148.9 239.1,148.7 242.2,148.6 243.5,148.5 245.9,149 248.8,150.1 250.7,150.9 248.4,151.1 245.5,151.5 242.6,151.9 243.1,154.5 242.2,156.5 243,159.1 242.1,161.3 239.9,162.5 237.2,163.4 238.2,165 239.6,166.3 242.2,167.5 243.7,169.1 245.3,170.3 246.9,170.5 249.2,171 251.7,171.2 254.1,173 255.7,174.4 256.8,176.2 255.3,177.5 253.8,178.9 251.6,179.9 250.1,180.5 247.3,181.1 244.6,181.8 242.5,184 242.9,186.9 245.4,187.6 247.2,188.3 248.8,189 250.6,189.7 252.2,192.7 250,194.1 248.8,195.2 246.4,196.5 247.7,198.5 249,200.5 250.6,202 251.7,203.5 254.6,203.8 256.6,204 254.6,204.4 252.2,205 249,205.3 246.6,206.9 245.6,208.2 245.8,210.7 246.4,213 246.9,215.1 247.2,217 247.8,219.4 248.5,221.6 248.4,223.7 249.9,227.1 249.9,229 249.4,230.7 248.3,232.7 248.2,234.6 249,236.6 248.4,238.5 248.3,240.6 249.4,242.6 249.9,244.6 249,246.4 248.7,248.3 247.8,250.4 248.9,252.1 249.9,254.1 250.5,256.1 251.3,258.3 250.3,260 249,262.1 247.1,263.9 248,266 249.1,268 249.3,269.7 249.2,272.6 247.8,275.7 249,277.7 249.6,280.1 247.8,283.7 246.7,286.3 248.9,288.2 250.3,290.2 248.6,291.9 247.8,293.8 245.9,295.6 245.7,298.4 246.7,299.8 248.3,301.2 249.4,303.3 250.4,305.6 250.1,307.6 251.3,309.7 250.1,311.2 247.6,313 247.5,315.4 246.1,317.8 248,319.6 250,321.3 251.4,323.2 252.5,325 250.4,327.4 248.8,329.6 247.7,332 245.4,334.2 247.3,336.3 249.3,338 248.7,340.4 249.6,342.6 249,344.5 247.9,346.4 248.7,350 250.2,351.7 250.5,353.8 250.6,356.1 251.8,358.3" fill="none" stroke="#e02a70" stroke-width="1.0" stroke-linejoin="round" stroke-linecap="round"/>
<g fill="#e02a70"><circle cx="248.7" cy="73.6" r="0.85"/><circle cx="249.7" cy="76.1" r="0.85"/><circle cx="250.3" cy="78.6" r="0.85"/><circle cx="248.9" cy="81.3" r="0.85"/><circle cx="249.5" cy="84.3" r="0.85"/><circle cx="251.4" cy="86.1" r="0.85"/><circle cx="249.3" cy="87.4" r="0.85"/><circle cx="247.8" cy="88.8" r="0.85"/><circle cx="245.5" cy="90" r="0.85"/><circle cx="247.7" cy="93.1" r="0.85"/><circle cx="250.3" cy="95.8" r="0.85"/><circle cx="250.8" cy="97.7" r="0.85"/><circle cx="251" cy="99.7" r="0.85"/><circle cx="249.9" cy="102.9" r="0.85"/><circle cx="249.7" cy="105.6" r="0.85"/><circle cx="251" cy="108.7" r="0.85"/><circle cx="250.6" cy="111.7" r="0.85"/><circle cx="250.5" cy="114.5" r="0.85"/><circle cx="249.6" cy="117.6" r="0.85"/><circle cx="249.2" cy="119.5" r="0.85"/><circle cx="248.5" cy="121.2" r="0.85"/><circle cx="249.3" cy="123.1" r="0.85"/><circle cx="250.5" cy="125" r="0.85"/><circle cx="252.6" cy="126.7" r="0.85"/><circle cx="254.2" cy="128.2" r="0.85"/><circle cx="256.6" cy="129.9" r="0.85"/><circle cx="254.3" cy="132" r="0.85"/><circle cx="254.1" cy="134.4" r="0.85"/><circle cx="255" cy="136.7" r="0.85"/><circle cx="254.5" cy="139.8" r="0.85"/><circle cx="255.1" cy="143" r="0.85"/><circle cx="252.3" cy="144" r="0.85"/><circle cx="250.7" cy="144.9" r="0.85"/><circle cx="248.1" cy="145" r="0.85"/><circle cx="246.2" cy="145.5" r="0.85"/><circle cx="244" cy="145.7" r="0.85"/><circle cx="242.7" cy="146" r="0.85"/><circle cx="239.6" cy="147.2" r="0.85"/><circle cx="237.3" cy="148.9" r="0.85"/><circle cx="239.1" cy="148.7" r="0.85"/><circle cx="242.2" cy="148.6" r="0.85"/><circle cx="243.5" cy="148.5" r="0.85"/><circle cx="245.9" cy="149" r="0.85"/><circle cx="248.8" cy="150.1" r="0.85"/><circle cx="250.7" cy="150.9" r="0.85"/><circle cx="248.4" cy="151.1" r="0.85"/><circle cx="245.5" cy="151.5" r="0.85"/><circle cx="242.6" cy="151.9" r="0.85"/><circle cx="243.1" cy="154.5" r="0.85"/><circle cx="242.2" cy="156.5" r="0.85"/><circle cx="243" cy="159.1" r="0.85"/><circle cx="242.1" cy="161.3" r="0.85"/><circle cx="239.9" cy="162.5" r="0.85"/><circle cx="237.2" cy="163.4" r="0.85"/><circle cx="238.2" cy="165" r="0.85"/><circle cx="239.6" cy="166.3" r="0.85"/><circle cx="242.2" cy="167.5" r="0.85"/><circle cx="243.7" cy="169.1" r="0.85"/><circle cx="245.3" cy="170.3" r="0.85"/><circle cx="246.9" cy="170.5" r="0.85"/><circle cx="249.2" cy="171" r="0.85"/><circle cx="251.7" cy="171.2" r="0.85"/><circle cx="254.1" cy="173" r="0.85"/><circle cx="255.7" cy="174.4" r="0.85"/><circle cx="256.8" cy="176.2" r="0.85"/><circle cx="255.3" cy="177.5" r="0.85"/><circle cx="253.8" cy="178.9" r="0.85"/><circle cx="251.6" cy="179.9" r="0.85"/><circle cx="250.1" cy="180.5" r="0.85"/><circle cx="247.3" cy="181.1" r="0.85"/><circle cx="244.6" cy="181.8" r="0.85"/><circle cx="242.5" cy="184" r="0.85"/><circle cx="242.9" cy="186.9" r="0.85"/><circle cx="245.4" cy="187.6" r="0.85"/><circle cx="247.2" cy="188.3" r="0.85"/><circle cx="248.8" cy="189" r="0.85"/><circle cx="250.6" cy="189.7" r="0.85"/><circle cx="252.2" cy="192.7" r="0.85"/><circle cx="250" cy="194.1" r="0.85"/><circle cx="248.8" cy="195.2" r="0.85"/><circle cx="246.4" cy="196.5" r="0.85"/><circle cx="247.7" cy="198.5" r="0.85"/><circle cx="249" cy="200.5" r="0.85"/><circle cx="250.6" cy="202" r="0.85"/><circle cx="251.7" cy="203.5" r="0.85"/><circle cx="254.6" cy="203.8" r="0.85"/><circle cx="256.6" cy="204" r="0.85"/><circle cx="254.6" cy="204.4" r="0.85"/><circle cx="252.2" cy="205" r="0.85"/><circle cx="249" cy="205.3" r="0.85"/><circle cx="246.6" cy="206.9" r="0.85"/><circle cx="245.6" cy="208.2" r="0.85"/><circle cx="245.8" cy="210.7" r="0.85"/><circle cx="246.4" cy="213" r="0.85"/><circle cx="246.9" cy="215.1" r="0.85"/><circle cx="247.2" cy="217" r="0.85"/><circle cx="247.8" cy="219.4" r="0.85"/><circle cx="248.5" cy="221.6" r="0.85"/><circle cx="248.4" cy="223.7" r="0.85"/><circle cx="249.9" cy="227.1" r="0.85"/><circle cx="249.9" cy="229" r="0.85"/><circle cx="249.4" cy="230.7" r="0.85"/><circle cx="248.3" cy="232.7" r="0.85"/><circle cx="248.2" cy="234.6" r="0.85"/><circle cx="249" cy="236.6" r="0.85"/><circle cx="248.4" cy="238.5" r="0.85"/><circle cx="248.3" cy="240.6" r="0.85"/><circle cx="249.4" cy="242.6" r="0.85"/><circle cx="249.9" cy="244.6" r="0.85"/><circle cx="249" cy="246.4" r="0.85"/><circle cx="248.7" cy="248.3" r="0.85"/><circle cx="247.8" cy="250.4" r="0.85"/><circle cx="248.9" cy="252.1" r="0.85"/><circle cx="249.9" cy="254.1" r="0.85"/><circle cx="250.5" cy="256.1" r="0.85"/><circle cx="251.3" cy="258.3" r="0.85"/><circle cx="250.3" cy="260" r="0.85"/><circle cx="249" cy="262.1" r="0.85"/><circle cx="247.1" cy="263.9" r="0.85"/><circle cx="248" cy="266" r="0.85"/><circle cx="249.1" cy="268" r="0.85"/><circle cx="249.3" cy="269.7" r="0.85"/><circle cx="249.2" cy="272.6" r="0.85"/><circle cx="247.8" cy="275.7" r="0.85"/><circle cx="249" cy="277.7" r="0.85"/><circle cx="249.6" cy="280.1" r="0.85"/><circle cx="247.8" cy="283.7" r="0.85"/><circle cx="246.7" cy="286.3" r="0.85"/><circle cx="248.9" cy="288.2" r="0.85"/><circle cx="250.3" cy="290.2" r="0.85"/><circle cx="248.6" cy="291.9" r="0.85"/><circle cx="247.8" cy="293.8" r="0.85"/><circle cx="245.9" cy="295.6" r="0.85"/><circle cx="245.7" cy="298.4" r="0.85"/><circle cx="246.7" cy="299.8" r="0.85"/><circle cx="248.3" cy="301.2" r="0.85"/><circle cx="249.4" cy="303.3" r="0.85"/><circle cx="250.4" cy="305.6" r="0.85"/><circle cx="250.1" cy="307.6" r="0.85"/><circle cx="251.3" cy="309.7" r="0.85"/><circle cx="250.1" cy="311.2" r="0.85"/><circle cx="247.6" cy="313" r="0.85"/><circle cx="247.5" cy="315.4" r="0.85"/><circle cx="246.1" cy="317.8" r="0.85"/><circle cx="248" cy="319.6" r="0.85"/><circle cx="250" cy="321.3" r="0.85"/><circle cx="251.4" cy="323.2" r="0.85"/><circle cx="252.5" cy="325" r="0.85"/><circle cx="250.4" cy="327.4" r="0.85"/><circle cx="248.8" cy="329.6" r="0.85"/><circle cx="247.7" cy="332" r="0.85"/><circle cx="245.4" cy="334.2" r="0.85"/><circle cx="247.3" cy="336.3" r="0.85"/><circle cx="249.3" cy="338" r="0.85"/><circle cx="248.7" cy="340.4" r="0.85"/><circle cx="249.6" cy="342.6" r="0.85"/><circle cx="249" cy="344.5" r="0.85"/><circle cx="247.9" cy="346.4" r="0.85"/><circle cx="248.7" cy="350" r="0.85"/><circle cx="250.2" cy="351.7" r="0.85"/><circle cx="250.5" cy="353.8" r="0.85"/><circle cx="250.6" cy="356.1" r="0.85"/><circle cx="251.8" cy="358.3" r="0.85"/></g>
<polygon points="288.6,224.5 289.3,225.5 290.1,226.5 290.8,227.5 291.5,228.5 292.5,229.1 293.5,229.7 294.4,230.2 295.4,230.8 296.4,231.4 297.4,232.4 298.3,233.3 297.8,234.3 297.4,235.2 296.9,236.2 296.4,237.2 295.7,238.2 295.1,239.2 294.4,240.2 295.1,241.2 295.7,242.1 296.4,243.1 296.1,244.1 295.9,245.1 295.6,246 295.4,247 295.1,248 294.9,248.9 294.6,249.9 294.4,250.9 293.9,251.9 293.5,252.9 293.5,252.9 293.3,251.9 293.2,250.9 293,249.9 292.8,248.9 292.7,248 292.5,247 292.3,246 292.1,245.1 292,244.1 291.8,243.1 291.6,242.1 291.5,241.2 291.3,240.2 291.1,239.2 291,238.2 290.8,237.2 290.6,236.2 290.5,235.2 290.3,234.3 290.1,233.3 290,232.4 289.8,231.4 289.7,230.8 289.6,230.2 289.5,229.7 289.4,229.1 289.3,228.5 289.1,227.5 288.9,226.5 288.8,225.5 288.6,224.5" fill="#a3d47c"/>
<polygon points="293.5,252.9 294.4,253.9 295.4,254.8 296.4,255.2 297.4,255.5 298.3,255.8 299.3,256.2 298.3,257 297.4,257.9 296.4,258.7 295.7,259.7 295.1,260.7 294.4,261.7 294.4,261.7 294.3,260.7 294.2,259.7 294.1,258.7 294,257.9 293.9,257 293.8,256.2 293.8,255.8 293.8,255.5 293.7,255.2 293.7,254.8 293.6,253.9 293.5,252.9" fill="#a3d47c"/>
<polygon points="294.4,261.7 294.7,262.7 295.1,263.6 295.4,264.6 296.4,265.3 297.4,266.1 298.3,266.8 299.3,267.5 299.6,268.5 299.8,269.4 300.1,270.4 300.3,271.4 300.9,272.4 301.5,273.4 302,274.3 302.6,275.3 303.2,276.3 302.2,276.8 301.2,277.3 300.3,277.8 299.3,278.3 298.3,278.8 297.4,279.3 296.4,279.8 295.4,280.2 294.5,280.7 293.5,281.2 292.5,281.9 291.5,282.6 290.5,283.4 289.5,284.1 289.5,284.1 289.8,283.4 290,282.6 290.3,281.9 290.6,281.2 290.8,280.7 290.9,280.2 291.1,279.8 291.3,279.3 291.4,278.8 291.6,278.3 291.8,277.8 291.9,277.3 292.1,276.8 292.2,276.3 292.4,275.3 292.6,274.3 292.8,273.4 292.9,272.4 293,271.4 293,270.4 293,269.4 292.9,268.5 293.1,267.5 293.3,266.8 293.4,266.1 293.6,265.3 293.8,264.6 294,263.6 294.2,262.7 294.4,261.7" fill="#a3d47c"/>
<polygon points="291.5,295.7 292.5,296.2 293.4,296.7 294.4,297.2 295.4,297.7 295.8,298.7 296.2,299.7 296.6,300.6 297,301.6 297.4,302.6 297.2,303.8 297,305 296.8,306.1 296.6,307.3 296.4,308.5 297.2,309.2 298,309.9 298.7,310.6 299.5,311.3 300.3,312 299.7,312.9 299.1,313.7 298.6,314.6 298,315.4 297.4,316.3 297,317.3 296.6,318.3 296.2,319.2 295.8,320.2 295.4,321.2 294.4,322.1 293.5,323.1 293.5,323.1 293.4,322.1 293.4,321.2 293.3,320.2 293.2,319.2 293.1,318.3 293.1,317.3 293,316.3 292.9,315.4 292.9,314.6 292.8,313.7 292.8,312.9 292.7,312 292.6,311.3 292.6,310.6 292.5,309.9 292.5,309.2 292.4,308.5 292.3,307.3 292.3,306.1 292.2,305 292.1,303.8 292,302.6 291.9,301.6 291.9,300.6 291.8,299.7 291.7,298.7 291.6,297.7 291.6,297.2 291.6,296.7 291.5,296.2 291.5,295.7" fill="#a3d47c"/>
<polyline points="291.1,102.8 290.5,106.7 289.5,109.6 287.2,113.1 290.5,115.4 292.4,121.3 291.4,125.2 294.4,128.7 291.4,131 288.5,132 290.5,134 291.4,138.8 293.4,143.7 299.5,145.8 305.7,146.8 306.7,149.9 296.4,152 294.3,162.3 298.5,166.4 304.6,170.5 305.7,175.7 301.5,177.7 295.4,179.8 294.3,181.9 298.5,185 300.5,191.1 298.5,197.3 292.3,201.4 294.3,203.5 299.5,205.6 301.5,208.7 295.4,213.2 289.5,215.2 288.6,224.5 291.5,228.5 296.4,231.4 298.3,233.3 296.4,237.2 294.4,240.2 296.4,243.1 295.4,247 294.4,250.9 293.5,252.9 295.4,254.8 299.3,256.2 296.4,258.7 294.4,261.7 295.4,264.6 299.3,267.5 300.3,271.4 303.2,276.3 299.3,278.3 293.5,281.2 289.5,284.1 289.5,291.8 291.5,295.7 295.4,297.7 297.4,302.6 296.4,308.5 300.3,312 297.4,316.3 295.4,321.2 293.5,323.1 296.4,324.1 295.4,327 292.5,330 291.9,332.9 293.1,337.8 295.4,339.7 297.4,342.7 295.8,347.5" fill="none" stroke="#2323a6" stroke-width="0.8" stroke-linejoin="round" stroke-linecap="round"/>
<g fill="#2323a6"><circle cx="291.1" cy="102.8" r="1.1"/><circle cx="290.5" cy="106.7" r="1.1"/><circle cx="289.5" cy="109.6" r="1.1"/><circle cx="287.2" cy="113.1" r="1.1"/><circle cx="290.5" cy="115.4" r="1.1"/><circle cx="292.4" cy="121.3" r="1.1"/><circle cx="291.4" cy="125.2" r="1.1"/><circle cx="294.4" cy="128.7" r="1.1"/><circle cx="291.4" cy="131" r="1.1"/><circle cx="288.5" cy="132" r="1.1"/><circle cx="290.5" cy="134" r="1.1"/><circle cx="291.4" cy="138.8" r="1.1"/><circle cx="293.4" cy="143.7" r="1.1"/><circle cx="299.5" cy="145.8" r="1.1"/><circle cx="305.7" cy="146.8" r="1.1"/><circle cx="306.7" cy="149.9" r="1.1"/><circle cx="296.4" cy="152" r="1.1"/><circle cx="294.3" cy="162.3" r="1.1"/><circle cx="298.5" cy="166.4" r="1.1"/><circle cx="304.6" cy="170.5" r="1.1"/><circle cx="305.7" cy="175.7" r="1.1"/><circle cx="301.5" cy="177.7" r="1.1"/><circle cx="295.4" cy="179.8" r="1.1"/><circle cx="294.3" cy="181.9" r="1.1"/><circle cx="298.5" cy="185" r="1.1"/><circle cx="300.5" cy="191.1" r="1.1"/><circle cx="298.5" cy="197.3" r="1.1"/><circle cx="292.3" cy="201.4" r="1.1"/><circle cx="294.3" cy="203.5" r="1.1"/><circle cx="299.5" cy="205.6" r="1.1"/><circle cx="301.5" cy="208.7" r="1.1"/><circle cx="295.4" cy="213.2" r="1.1"/><circle cx="289.5" cy="215.2" r="1.1"/><circle cx="288.6" cy="224.5" r="1.1"/><circle cx="291.5" cy="228.5" r="1.1"/><circle cx="296.4" cy="231.4" r="1.1"/><circle cx="298.3" cy="233.3" r="1.1"/><circle cx="296.4" cy="237.2" r="1.1"/><circle cx="294.4" cy="240.2" r="1.1"/><circle cx="296.4" cy="243.1" r="1.1"/><circle cx="295.4" cy="247" r="1.1"/><circle cx="294.4" cy="250.9" r="1.1"/><circle cx="293.5" cy="252.9" r="1.1"/><circle cx="295.4" cy="254.8" r="1.1"/><circle cx="299.3" cy="256.2" r="1.1"/><circle cx="296.4" cy="258.7" r="1.1"/><circle cx="294.4" cy="261.7" r="1.1"/><circle cx="295.4" cy="264.6" r="1.1"/><circle cx="299.3" cy="267.5" r="1.1"/><circle cx="300.3" cy="271.4" r="1.1"/><circle cx="303.2" cy="276.3" r="1.1"/><circle cx="299.3" cy="278.3" r="1.1"/><circle cx="293.5" cy="281.2" r="1.1"/><circle cx="289.5" cy="284.1" r="1.1"/><circle cx="289.5" cy="291.8" r="1.1"/><circle cx="291.5" cy="295.7" r="1.1"/><circle cx="295.4" cy="297.7" r="1.1"/><circle cx="297.4" cy="302.6" r="1.1"/><circle cx="296.4" cy="308.5" r="1.1"/><circle cx="300.3" cy="312" r="1.1"/><circle cx="297.4" cy="316.3" r="1.1"/><circle cx="295.4" cy="321.2" r="1.1"/><circle cx="293.5" cy="323.1" r="1.1"/><circle cx="296.4" cy="324.1" r="1.1"/><circle cx="295.4" cy="327" r="1.1"/><circle cx="292.5" cy="330" r="1.1"/><circle cx="291.9" cy="332.9" r="1.1"/><circle cx="293.1" cy="337.8" r="1.1"/><circle cx="295.4" cy="339.7" r="1.1"/><circle cx="297.4" cy="342.7" r="1.1"/><circle cx="295.8" cy="347.5" r="1.1"/><circle cx="290.5" cy="106.7" r="1.1"/><circle cx="287.2" cy="113.1" r="1.1"/><circle cx="292.4" cy="121.3" r="1.1"/><circle cx="294.4" cy="128.7" r="1.1"/><circle cx="288.5" cy="132" r="1.1"/><circle cx="291.4" cy="138.8" r="1.1"/><circle cx="299.5" cy="145.8" r="1.1"/><circle cx="306.7" cy="149.9" r="1.1"/><circle cx="296.4" cy="152" r="1.1"/><circle cx="294.3" cy="162.3" r="1.1"/><circle cx="304.6" cy="170.5" r="1.1"/><circle cx="301.5" cy="177.7" r="1.1"/><circle cx="294.3" cy="181.9" r="1.1"/><circle cx="300.5" cy="191.1" r="1.1"/><circle cx="292.3" cy="201.4" r="1.1"/><circle cx="299.5" cy="205.6" r="1.1"/><circle cx="295.4" cy="213.2" r="1.1"/><circle cx="289.1" cy="219.8" r="1.1"/><circle cx="291.5" cy="228.5" r="1.1"/><circle cx="298.3" cy="233.3" r="1.1"/><circle cx="294.4" cy="240.2" r="1.1"/><circle cx="295.4" cy="247" r="1.1"/><circle cx="293.5" cy="252.9" r="1.1"/><circle cx="299.3" cy="256.2" r="1.1"/><circle cx="294.4" cy="261.7" r="1.1"/><circle cx="299.3" cy="267.5" r="1.1"/><circle cx="303.2" cy="276.3" r="1.1"/><circle cx="293.5" cy="281.2" r="1.1"/><circle cx="289.5" cy="291.8" r="1.1"/><circle cx="295.4" cy="297.7" r="1.1"/><circle cx="296.4" cy="308.5" r="1.1"/><circle cx="297.4" cy="316.3" r="1.1"/><circle cx="293.5" cy="323.1" r="1.1"/><circle cx="295.4" cy="327" r="1.1"/><circle cx="291.9" cy="332.9" r="1.1"/><circle cx="295.4" cy="339.7" r="1.1"/><circle cx="295.8" cy="347.5" r="1.1"/></g>
<polyline points="336.8,88.3 336.8,119.6 326.8,119.6 326.8,162.8 324.5,162.8 324.5,181.6 333.2,181.6 333.2,209.5 343.3,209.5 343.3,285.2 332.3,285.2 332.3,362" fill="none" stroke="#e2785a" stroke-width="0.9" stroke-linejoin="round" stroke-linecap="round"/>
<g fill="#e2785a"><rect x="335.9" y="87.4" width="1.8" height="1.8"/><rect x="335.9" y="118.7" width="1.8" height="1.8"/><rect x="325.9" y="118.7" width="1.8" height="1.8"/><rect x="325.9" y="148.9" width="1.8" height="1.8"/><rect x="325.9" y="161.9" width="1.8" height="1.8"/><rect x="323.6" y="180.7" width="1.8" height="1.8"/><rect x="332.3" y="180.7" width="1.8" height="1.8"/><rect x="332.3" y="208.6" width="1.8" height="1.8"/><rect x="342.4" y="208.6" width="1.8" height="1.8"/><rect x="342.4" y="284.3" width="1.8" height="1.8"/><rect x="331.4" y="284.3" width="1.8" height="1.8"/><rect x="331.4" y="320.1" width="1.8" height="1.8"/><rect x="331.4" y="361.1" width="1.8" height="1.8"/></g>
<line x1="104" y1="95.3" x2="136" y2="95.3" stroke="#acacac" stroke-width="1.4"/>
<line x1="144.6" y1="95.3" x2="169.5" y2="95.3" stroke="#acacac" stroke-width="1.4"/>
<line x1="175.6" y1="95.3" x2="206.2" y2="95.3" stroke="#acacac" stroke-width="1.4"/>
<line x1="209.9" y1="95.3" x2="247" y2="95.3" stroke="#acacac" stroke-width="1.4"/>
<line x1="112.7" y1="285.8" x2="137" y2="285.8" stroke="#acacac" stroke-width="1.4"/>
<line x1="145.8" y1="285.8" x2="159.5" y2="285.8" stroke="#acacac" stroke-width="1.4"/>
<line x1="164.6" y1="285.8" x2="201.7" y2="285.8" stroke="#acacac" stroke-width="1.4"/>
<line x1="205.6" y1="285.8" x2="243.4" y2="285.8" stroke="#acacac" stroke-width="1.4"/>
<line x1="251.2" y1="285.8" x2="286.5" y2="285.8" stroke="#acacac" stroke-width="1.4"/>
<text x="80" y="98.6" font-size="10" text-anchor="start" fill="#222">x1</text>
<text x="55.4" y="152.4" font-size="10" text-anchor="start" fill="#222">x2</text>
<text x="62" y="208.1" font-size="10" text-anchor="start" fill="#222">x3</text>
<text x="88.8" y="290.6" font-size="10" text-anchor="start" fill="#222">x4</text>
<text x="85.3" y="330.6" font-size="10" text-anchor="start" fill="#222">x5</text>
<text x="63.8" y="63.9" font-size="13" text-anchor="start" fill="#222">XF</text>
<text x="151.4" y="77.7" font-size="13" text-anchor="start" fill="#222">XF</text>
<text x="228.4" y="77.7" font-size="13" text-anchor="start" fill="#222">XF</text>
<text x="310.2" y="79.6" font-size="13" text-anchor="start" fill="#222">XF</text>
<polygon points="145.8,129.3 150.8,131.5 145.8,133.7" fill="#e02a70"/>
<polygon points="168.3,129.3 163.3,131.5 168.3,133.7" fill="#e02a70"/>
<polygon points="139.1,146.1 134.1,148.3 139.1,150.5" fill="#2e72d8"/>
<polygon points="171.5,146.1 176.5,148.3 171.5,150.5" fill="#2e72d8"/>
<polygon points="139.7,201.3 144.7,203.5 139.7,205.7" fill="#e02a70"/>
<polygon points="171.2,200.1 166.2,202.3 171.2,204.5" fill="#e02a70"/>
<polygon points="265,129.6 270,131.8 265,134" fill="#e02a70"/>
<polygon points="280.3,129.6 275.3,131.8 280.3,134" fill="#e02a70"/>
<polygon points="262,146.3 257,148.5 262,150.7" fill="#2e72d8"/>
<polygon points="286,146.3 291,148.5 286,150.7" fill="#2e72d8"/>
<polygon points="263.8,201.3 268.8,203.5 263.8,205.7" fill="#e02a70"/>
<polygon points="283,201.3 278,203.5 283,205.7" fill="#e02a70"/>
<polygon points="180.3,230.7 185.9,233.2 180.3,235.7" fill="#3b9b5b"/>
<polygon points="179.4,253.1 185,255.6 179.4,258.1" fill="#3b9b5b"/>
<polygon points="178,272.2 183.6,274.7 178,277.2" fill="#3b9b5b"/>
<polygon points="175.1,304 180.7,306.5 175.1,309" fill="#3b9b5b"/>
<polygon points="300.8,231.4 306.4,233.9 300.8,236.4" fill="#3b9b5b"/>
<polygon points="305.3,253.7 310.9,256.2 305.3,258.7" fill="#3b9b5b"/>
<polygon points="307.3,274.4 312.9,276.9 307.3,279.4" fill="#3b9b5b"/>
<polygon points="303.9,306 309.5,308.5 303.9,311" fill="#3b9b5b"/>
<line x1="104" y1="62.5" x2="150.2" y2="62.5" stroke="#666" stroke-width="0.8"/>
<line x1="104" y1="62.5" x2="104" y2="58.5" stroke="#666" stroke-width="0.8"/>
<line x1="111.7" y1="62.5" x2="111.7" y2="58.5" stroke="#666" stroke-width="0.8"/>
<line x1="119.4" y1="62.5" x2="119.4" y2="58.5" stroke="#666" stroke-width="0.8"/>
<line x1="127.1" y1="62.5" x2="127.1" y2="58.5" stroke="#666" stroke-width="0.8"/>
<line x1="134.8" y1="62.5" x2="134.8" y2="58.5" stroke="#666" stroke-width="0.8"/>
<line x1="142.5" y1="62.5" x2="142.5" y2="58.5" stroke="#666" stroke-width="0.8"/>
<line x1="150.2" y1="62.5" x2="150.2" y2="58.5" stroke="#666" stroke-width="0.8"/>
<text x="103.8" y="53.6" font-size="10" text-anchor="middle" fill="#222">4</text>
<text x="119.2" y="53.6" font-size="10" text-anchor="middle" fill="#222">8</text>
<text x="134.6" y="53.6" font-size="10" text-anchor="middle" fill="#222">12</text>
<text x="150" y="53.6" font-size="10" text-anchor="middle" fill="#222">16</text>
<text x="115.4" y="33.8" font-size="10.5" text-anchor="start" fill="#333" style="font-family:'Liberation Serif',serif;font-style:italic">&#967;</text>
<text x="120.7" y="38" font-size="6.5" text-anchor="start" fill="#333">FD</text>
<text x="130" y="33" font-size="7.2" text-anchor="start" fill="#333">(%)</text>
<text x="174.3" y="38.8" font-size="10.2" text-anchor="start" fill="#222">Median size (&#956;m)</text>
<line x1="197.3" y1="62.5" x2="228.3" y2="62.5" stroke="#666" stroke-width="0.8"/>
<line x1="197.3" y1="62.5" x2="197.3" y2="58.5" stroke="#666" stroke-width="0.8"/>
<line x1="205.1" y1="62.5" x2="205.1" y2="58.5" stroke="#666" stroke-width="0.8"/>
<line x1="212.8" y1="62.5" x2="212.8" y2="58.5" stroke="#666" stroke-width="0.8"/>
<line x1="220.6" y1="62.5" x2="220.6" y2="58.5" stroke="#666" stroke-width="0.8"/>
<line x1="228.3" y1="62.5" x2="228.3" y2="58.5" stroke="#666" stroke-width="0.8"/>
<text x="196.6" y="55.4" font-size="10" text-anchor="middle" fill="#222">6</text>
<text x="211.9" y="55.4" font-size="10" text-anchor="middle" fill="#222">10</text>
<text x="227.6" y="55.4" font-size="10" text-anchor="middle" fill="#222">14</text>
<text x="300.6" y="29.7" font-size="8.6" text-anchor="middle" fill="#222">High-pass filterred</text>
<text x="301" y="42.3" font-size="10" text-anchor="middle" fill="#222">&gt; 16 &#956;m (%)</text>
<line x1="280.7" y1="62.9" x2="311.5" y2="62.9" stroke="#666" stroke-width="0.8"/>
<line x1="280.7" y1="62.9" x2="280.7" y2="58.9" stroke="#666" stroke-width="0.8"/>
<line x1="288.4" y1="62.9" x2="288.4" y2="58.9" stroke="#666" stroke-width="0.8"/>
<line x1="296.1" y1="62.9" x2="296.1" y2="58.9" stroke="#666" stroke-width="0.8"/>
<line x1="303.8" y1="62.9" x2="303.8" y2="58.9" stroke="#666" stroke-width="0.8"/>
<line x1="311.5" y1="62.9" x2="311.5" y2="58.9" stroke="#666" stroke-width="0.8"/>
<text x="280.7" y="55.4" font-size="10" text-anchor="middle" fill="#222">-10</text>
<text x="296.3" y="55.4" font-size="10" text-anchor="middle" fill="#222">0</text>
<text x="311.6" y="55.4" font-size="10" text-anchor="middle" fill="#222">10</text>
<line x1="71.4" y1="377.1" x2="136.9" y2="377.1" stroke="#e02a70" stroke-width="2.0"/>
<polygon points="135.9,373.5 144.9,377.1 135.9,380.7 137.9,377.1" fill="#e02a70"/>
<text x="105" y="390.5" font-size="10" text-anchor="middle" fill="#e02a70">Stronger SM</text>
<line x1="154" y1="377.2" x2="212.5" y2="377.2" stroke="#4c8ee0" stroke-width="2.0"/>
<polygon points="211.5,373.6 220.5,377.2 211.5,380.8 213.5,377.2" fill="#4c8ee0"/>
<text x="186.5" y="390.2" font-size="10.2" text-anchor="middle" fill="#4c8ee0">Stronger WM</text>
<line x1="229.5" y1="376.6" x2="265.2" y2="376.6" stroke="#e02a70" stroke-width="2.0"/>
<polygon points="264.2,373 273.2,376.6 264.2,380.2 266.2,376.6" fill="#e02a70"/>
<text x="250.2" y="388.3" font-size="8.6" text-anchor="middle" fill="#e02a70">Stronger SM</text>
<line x1="282.3" y1="376.6" x2="302.8" y2="376.6" stroke="#2e72d8" stroke-width="1.6"/>
<polygon points="301.8,373 310.8,376.6 301.8,380.2 303.8,376.6" fill="#2e72d8"/>
<text x="297" y="389.9" font-size="8.8" text-anchor="middle" fill="#4c8ee0">Stronger</text>
<text x="296" y="399.8" font-size="8.8" text-anchor="middle" fill="#4c8ee0">WM</text>
<line x1="60.5" y1="395.4" x2="119.4" y2="395.4" stroke="#666" stroke-width="0.8"/>
<line x1="60.5" y1="395.4" x2="60.5" y2="399.6" stroke="#666" stroke-width="0.8"/>
<line x1="80.1" y1="395.4" x2="80.1" y2="399.6" stroke="#666" stroke-width="0.8"/>
<line x1="99.8" y1="395.4" x2="99.8" y2="399.6" stroke="#666" stroke-width="0.8"/>
<line x1="119.4" y1="395.4" x2="119.4" y2="399.6" stroke="#666" stroke-width="0.8"/>
<text x="61" y="412.9" font-size="10" text-anchor="middle" fill="#222">0</text>
<text x="80.5" y="412.9" font-size="10" text-anchor="middle" fill="#222">50</text>
<text x="100.2" y="412.9" font-size="10" text-anchor="middle" fill="#222">100</text>
<text x="120.2" y="412.9" font-size="10" text-anchor="middle" fill="#222">150</text>
<text x="59.8" y="428.2" font-size="11" text-anchor="start" fill="#222" style="font-family:'Liberation Serif',serif;font-style:italic">&#967;</text>
<text x="67.6" y="428.2" font-size="9.5" text-anchor="start" fill="#222">(10</text>
<text x="80.4" y="424.4" font-size="6.2" text-anchor="start" fill="#222">-8</text>
<text x="85" y="428.2" font-size="9.5" text-anchor="start" fill="#222">m</text>
<text x="92.7" y="424.4" font-size="6.2" text-anchor="start" fill="#222">-3</text>
<text x="97.5" y="428.2" font-size="9.5" text-anchor="start" fill="#222">kg</text>
<text x="107.5" y="424.4" font-size="6.2" text-anchor="start" fill="#222">-1</text>
<text x="112.2" y="428.2" font-size="9.5" text-anchor="start" fill="#222">)</text>
<line x1="156.3" y1="395.6" x2="196.9" y2="395.6" stroke="#666" stroke-width="0.8"/>
<line x1="156.3" y1="395.6" x2="156.3" y2="399.2" stroke="#666" stroke-width="0.8"/>
<line x1="163.1" y1="395.6" x2="163.1" y2="399.2" stroke="#666" stroke-width="0.8"/>
<line x1="169.8" y1="395.6" x2="169.8" y2="399.2" stroke="#666" stroke-width="0.8"/>
<line x1="176.6" y1="395.6" x2="176.6" y2="399.2" stroke="#666" stroke-width="0.8"/>
<line x1="183.4" y1="395.6" x2="183.4" y2="399.2" stroke="#666" stroke-width="0.8"/>
<line x1="190.1" y1="395.6" x2="190.1" y2="399.2" stroke="#666" stroke-width="0.8"/>
<line x1="196.9" y1="395.6" x2="196.9" y2="399.2" stroke="#666" stroke-width="0.8"/>
<text x="156" y="413.5" font-size="10" text-anchor="middle" fill="#222">10</text>
<text x="169.5" y="413.5" font-size="10" text-anchor="middle" fill="#222">20</text>
<text x="182.8" y="413.5" font-size="10" text-anchor="middle" fill="#222">30</text>
<text x="196.3" y="413.5" font-size="10" text-anchor="middle" fill="#222">40</text>
<text x="151" y="426.5" font-size="10" text-anchor="start" fill="#222">&gt;16 &#956;m (%)</text>
<line x1="233.1" y1="395.6" x2="264.3" y2="395.6" stroke="#666" stroke-width="0.8"/>
<line x1="233.1" y1="395.6" x2="233.1" y2="399.2" stroke="#666" stroke-width="0.8"/>
<line x1="238.3" y1="395.6" x2="238.3" y2="399.2" stroke="#666" stroke-width="0.8"/>
<line x1="243.5" y1="395.6" x2="243.5" y2="399.2" stroke="#666" stroke-width="0.8"/>
<line x1="248.7" y1="395.6" x2="248.7" y2="399.2" stroke="#666" stroke-width="0.8"/>
<line x1="253.9" y1="395.6" x2="253.9" y2="399.2" stroke="#666" stroke-width="0.8"/>
<line x1="259.1" y1="395.6" x2="259.1" y2="399.2" stroke="#666" stroke-width="0.8"/>
<line x1="264.3" y1="395.6" x2="264.3" y2="399.2" stroke="#666" stroke-width="0.8"/>
<text x="233.4" y="411.8" font-size="10" text-anchor="middle" fill="#222">-3</text>
<text x="248.9" y="411.8" font-size="10" text-anchor="middle" fill="#222">0</text>
<text x="264" y="411.8" font-size="10" text-anchor="middle" fill="#222">3</text>
<text x="248.5" y="422" font-size="8.6" text-anchor="middle" fill="#222">High-pass filterred</text>
<text x="235.6" y="434.2" font-size="11" text-anchor="start" fill="#222" style="font-family:'Liberation Serif',serif;font-style:italic">&#967;</text>
<text x="241.6" y="437.6" font-size="6.5" text-anchor="start" fill="#222">FD</text>
<text x="251.6" y="434.2" font-size="10" text-anchor="start" fill="#222">(%)</text>
<line x1="318.5" y1="395.6" x2="344" y2="395.6" stroke="#666" stroke-width="0.8"/>
<line x1="318.5" y1="395.6" x2="318.5" y2="399.2" stroke="#666" stroke-width="0.8"/>
<line x1="323.6" y1="395.6" x2="323.6" y2="399.2" stroke="#666" stroke-width="0.8"/>
<line x1="328.7" y1="395.6" x2="328.7" y2="399.2" stroke="#666" stroke-width="0.8"/>
<line x1="333.8" y1="395.6" x2="333.8" y2="399.2" stroke="#666" stroke-width="0.8"/>
<line x1="338.9" y1="395.6" x2="338.9" y2="399.2" stroke="#666" stroke-width="0.8"/>
<line x1="344" y1="395.6" x2="344" y2="399.2" stroke="#666" stroke-width="0.8"/>
<text x="319.2" y="412" font-size="10" text-anchor="middle" fill="#222">0</text>
<text x="343.4" y="412" font-size="10" text-anchor="middle" fill="#222">50</text>
<text x="334.7" y="426.2" font-size="10" text-anchor="middle" fill="#222">a.r. (cm/kyr)</text>
<rect x="1.1" y="386.3" width="13.7" height="8.6" fill="#000"/>
<rect x="1.5" y="398.6" width="13" height="8.2" fill="#fff" stroke="#999" stroke-width="0.8"/>
<rect x="1.5" y="411.9" width="13" height="8.4" fill="url(#hatch)" stroke="#aaa" stroke-width="0.6"/>
<text x="19.6" y="393.4" font-size="8.3" text-anchor="start" fill="#222">Normal</text>
<text x="19.6" y="406" font-size="8.3" text-anchor="start" fill="#222">Reverse</text>
<text x="19.6" y="420" font-size="8.3" text-anchor="start" fill="#222">Multiple</text>
<text x="19.6" y="429.4" font-size="8.3" text-anchor="start" fill="#222">polarity</text>
<text x="19.6" y="439.2" font-size="8.3" text-anchor="start" fill="#222">flip zone</text>
<text x="390.2" y="32.2" font-size="10" text-anchor="middle" fill="#222">Magnetic</text>
<text x="390.2" y="43.1" font-size="10" text-anchor="middle" fill="#222">polarity</text>
<rect x="388.8" y="247.3" width="10.4" height="168.7" fill="#fff" stroke="#999" stroke-width="0.8"/>
<rect x="388.8" y="219.5" width="10.4" height="27.8" fill="url(#hatch)"/>
<rect x="388.8" y="62.9" width="10.4" height="156.6" fill="#000"/>
<line x1="384.2" y1="62.6" x2="388.8" y2="62.6" stroke="#555" stroke-width="0.8"/>
<line x1="386.3" y1="67" x2="388.8" y2="67" stroke="#555" stroke-width="0.8"/>
<line x1="386.3" y1="71.4" x2="388.8" y2="71.4" stroke="#555" stroke-width="0.8"/>
<line x1="386.3" y1="75.9" x2="388.8" y2="75.9" stroke="#555" stroke-width="0.8"/>
<line x1="386.3" y1="80.3" x2="388.8" y2="80.3" stroke="#555" stroke-width="0.8"/>
<line x1="384.2" y1="84.7" x2="388.8" y2="84.7" stroke="#555" stroke-width="0.8"/>
<line x1="386.3" y1="89.1" x2="388.8" y2="89.1" stroke="#555" stroke-width="0.8"/>
<line x1="386.3" y1="93.5" x2="388.8" y2="93.5" stroke="#555" stroke-width="0.8"/>
<line x1="386.3" y1="97.9" x2="388.8" y2="97.9" stroke="#555" stroke-width="0.8"/>
<line x1="386.3" y1="102.4" x2="388.8" y2="102.4" stroke="#555" stroke-width="0.8"/>
<line x1="384.2" y1="106.8" x2="388.8" y2="106.8" stroke="#555" stroke-width="0.8"/>
<line x1="386.3" y1="111.2" x2="388.8" y2="111.2" stroke="#555" stroke-width="0.8"/>
<line x1="386.3" y1="115.6" x2="388.8" y2="115.6" stroke="#555" stroke-width="0.8"/>
<line x1="386.3" y1="120" x2="388.8" y2="120" stroke="#555" stroke-width="0.8"/>
<line x1="386.3" y1="124.4" x2="388.8" y2="124.4" stroke="#555" stroke-width="0.8"/>
<line x1="384.2" y1="128.9" x2="388.8" y2="128.9" stroke="#555" stroke-width="0.8"/>
<line x1="386.3" y1="133.3" x2="388.8" y2="133.3" stroke="#555" stroke-width="0.8"/>
<line x1="386.3" y1="137.7" x2="388.8" y2="137.7" stroke="#555" stroke-width="0.8"/>
<line x1="386.3" y1="142.1" x2="388.8" y2="142.1" stroke="#555" stroke-width="0.8"/>
<line x1="386.3" y1="146.5" x2="388.8" y2="146.5" stroke="#555" stroke-width="0.8"/>
<line x1="384.2" y1="150.9" x2="388.8" y2="150.9" stroke="#555" stroke-width="0.8"/>
<line x1="386.3" y1="155.4" x2="388.8" y2="155.4" stroke="#555" stroke-width="0.8"/>
<line x1="386.3" y1="159.8" x2="388.8" y2="159.8" stroke="#555" stroke-width="0.8"/>
<line x1="386.3" y1="164.2" x2="388.8" y2="164.2" stroke="#555" stroke-width="0.8"/>
<line x1="386.3" y1="168.6" x2="388.8" y2="168.6" stroke="#555" stroke-width="0.8"/>
<line x1="384.2" y1="173" x2="388.8" y2="173" stroke="#555" stroke-width="0.8"/>
<line x1="386.3" y1="177.5" x2="388.8" y2="177.5" stroke="#555" stroke-width="0.8"/>
<line x1="386.3" y1="181.9" x2="388.8" y2="181.9" stroke="#555" stroke-width="0.8"/>
<line x1="386.3" y1="186.3" x2="388.8" y2="186.3" stroke="#555" stroke-width="0.8"/>
<line x1="386.3" y1="190.7" x2="388.8" y2="190.7" stroke="#555" stroke-width="0.8"/>
<line x1="384.2" y1="195.1" x2="388.8" y2="195.1" stroke="#555" stroke-width="0.8"/>
<line x1="386.3" y1="199.5" x2="388.8" y2="199.5" stroke="#555" stroke-width="0.8"/>
<line x1="386.3" y1="204" x2="388.8" y2="204" stroke="#555" stroke-width="0.8"/>
<line x1="386.3" y1="208.4" x2="388.8" y2="208.4" stroke="#555" stroke-width="0.8"/>
<line x1="386.3" y1="212.8" x2="388.8" y2="212.8" stroke="#555" stroke-width="0.8"/>
<line x1="384.2" y1="217.2" x2="388.8" y2="217.2" stroke="#555" stroke-width="0.8"/>
<line x1="386.3" y1="221.6" x2="388.8" y2="221.6" stroke="#555" stroke-width="0.8"/>
<line x1="386.3" y1="226" x2="388.8" y2="226" stroke="#555" stroke-width="0.8"/>
<line x1="386.3" y1="230.5" x2="388.8" y2="230.5" stroke="#555" stroke-width="0.8"/>
<line x1="386.3" y1="234.9" x2="388.8" y2="234.9" stroke="#555" stroke-width="0.8"/>
<line x1="384.2" y1="239.3" x2="388.8" y2="239.3" stroke="#555" stroke-width="0.8"/>
<line x1="386.3" y1="243.7" x2="388.8" y2="243.7" stroke="#555" stroke-width="0.8"/>
<line x1="386.3" y1="248.1" x2="388.8" y2="248.1" stroke="#555" stroke-width="0.8"/>
<line x1="386.3" y1="252.6" x2="388.8" y2="252.6" stroke="#555" stroke-width="0.8"/>
<line x1="386.3" y1="257" x2="388.8" y2="257" stroke="#555" stroke-width="0.8"/>
<line x1="384.2" y1="261.4" x2="388.8" y2="261.4" stroke="#555" stroke-width="0.8"/>
<line x1="386.3" y1="265.8" x2="388.8" y2="265.8" stroke="#555" stroke-width="0.8"/>
<line x1="386.3" y1="270.2" x2="388.8" y2="270.2" stroke="#555" stroke-width="0.8"/>
<line x1="386.3" y1="274.6" x2="388.8" y2="274.6" stroke="#555" stroke-width="0.8"/>
<line x1="386.3" y1="279.1" x2="388.8" y2="279.1" stroke="#555" stroke-width="0.8"/>
<line x1="384.2" y1="283.5" x2="388.8" y2="283.5" stroke="#555" stroke-width="0.8"/>
<line x1="386.3" y1="287.9" x2="388.8" y2="287.9" stroke="#555" stroke-width="0.8"/>
<line x1="386.3" y1="292.3" x2="388.8" y2="292.3" stroke="#555" stroke-width="0.8"/>
<line x1="386.3" y1="296.7" x2="388.8" y2="296.7" stroke="#555" stroke-width="0.8"/>
<line x1="386.3" y1="301.1" x2="388.8" y2="301.1" stroke="#555" stroke-width="0.8"/>
<line x1="384.2" y1="305.6" x2="388.8" y2="305.6" stroke="#555" stroke-width="0.8"/>
<line x1="386.3" y1="310" x2="388.8" y2="310" stroke="#555" stroke-width="0.8"/>
<line x1="386.3" y1="314.4" x2="388.8" y2="314.4" stroke="#555" stroke-width="0.8"/>
<line x1="386.3" y1="318.8" x2="388.8" y2="318.8" stroke="#555" stroke-width="0.8"/>
<line x1="386.3" y1="323.2" x2="388.8" y2="323.2" stroke="#555" stroke-width="0.8"/>
<line x1="384.2" y1="327.7" x2="388.8" y2="327.7" stroke="#555" stroke-width="0.8"/>
<line x1="386.3" y1="332.1" x2="388.8" y2="332.1" stroke="#555" stroke-width="0.8"/>
<line x1="386.3" y1="336.5" x2="388.8" y2="336.5" stroke="#555" stroke-width="0.8"/>
<line x1="386.3" y1="340.9" x2="388.8" y2="340.9" stroke="#555" stroke-width="0.8"/>
<line x1="386.3" y1="345.3" x2="388.8" y2="345.3" stroke="#555" stroke-width="0.8"/>
<line x1="384.2" y1="349.7" x2="388.8" y2="349.7" stroke="#555" stroke-width="0.8"/>
<line x1="386.3" y1="354.2" x2="388.8" y2="354.2" stroke="#555" stroke-width="0.8"/>
<line x1="386.3" y1="358.6" x2="388.8" y2="358.6" stroke="#555" stroke-width="0.8"/>
<line x1="386.3" y1="363" x2="388.8" y2="363" stroke="#555" stroke-width="0.8"/>
<line x1="386.3" y1="367.4" x2="388.8" y2="367.4" stroke="#555" stroke-width="0.8"/>
<line x1="384.2" y1="371.8" x2="388.8" y2="371.8" stroke="#555" stroke-width="0.8"/>
<line x1="386.3" y1="376.2" x2="388.8" y2="376.2" stroke="#555" stroke-width="0.8"/>
<line x1="386.3" y1="380.7" x2="388.8" y2="380.7" stroke="#555" stroke-width="0.8"/>
<line x1="386.3" y1="385.1" x2="388.8" y2="385.1" stroke="#555" stroke-width="0.8"/>
<line x1="386.3" y1="389.5" x2="388.8" y2="389.5" stroke="#555" stroke-width="0.8"/>
<line x1="384.2" y1="393.9" x2="388.8" y2="393.9" stroke="#555" stroke-width="0.8"/>
<line x1="386.3" y1="398.3" x2="388.8" y2="398.3" stroke="#555" stroke-width="0.8"/>
<line x1="386.3" y1="402.7" x2="388.8" y2="402.7" stroke="#555" stroke-width="0.8"/>
<line x1="386.3" y1="407.2" x2="388.8" y2="407.2" stroke="#555" stroke-width="0.8"/>
<line x1="386.3" y1="411.6" x2="388.8" y2="411.6" stroke="#555" stroke-width="0.8"/>
<line x1="384.2" y1="416" x2="388.8" y2="416" stroke="#555" stroke-width="0.8"/>
<text x="383.6" y="66.2" font-size="10" text-anchor="end" fill="#222">0</text>
<text x="383.6" y="110.4" font-size="10" text-anchor="end" fill="#222">100</text>
<text x="383.6" y="154.5" font-size="10" text-anchor="end" fill="#222">200</text>
<text x="383.6" y="198.7" font-size="10" text-anchor="end" fill="#222">300</text>
<text x="383.6" y="242.9" font-size="10" text-anchor="end" fill="#222">400</text>
<text x="383.6" y="287.1" font-size="10" text-anchor="end" fill="#222">500</text>
<text x="383.6" y="331.3" font-size="10" text-anchor="end" fill="#222">600</text>
<text x="383.6" y="375.4" font-size="10" text-anchor="end" fill="#222">700</text>
<text x="383.6" y="419.6" font-size="10" text-anchor="end" fill="#222">800</text>
<text x="0" y="0" font-size="10" text-anchor="middle" fill="#222" transform="translate(411.3,230.8) rotate(-90)">MBpf</text>
<text x="402.3" y="80.2" font-size="10.5" text-anchor="start" fill="#d86a3e">L7</text>
<text x="402.3" y="128.4" font-size="10.5" text-anchor="start" fill="#d86a3e">S7</text>
<text x="402.3" y="189.3" font-size="10.5" text-anchor="start" fill="#d86a3e">L8</text>
<text x="402.3" y="287.1" font-size="10.5" text-anchor="start" fill="#d86a3e">S8</text>
<text x="402.3" y="377.2" font-size="10.5" text-anchor="start" fill="#d86a3e">L9</text>
<text x="377.2" y="430.1" font-size="10" text-anchor="middle" fill="#222">(cm)</text>
<polyline points="428.1,63.2 429.5,66.7 430.5,74.5 431.4,82.3 433.4,88.1 434.4,92 436.3,95 438.3,99.8 440.2,104.7 441.2,108.6 444.1,111.5 448,113.5 450,116.4 451.9,119.3 456.8,122.3 460.6,125 455,126.9 450.6,129.5 447.1,133 444.5,137.4 441.9,141.7 442.8,144.3 439.3,148.6 436.7,153 434.1,156.5 432.4,160.8 435,163.4 436.7,166.9 434.1,169.5 429.8,171.2 427.2,173.8 427.2,177.3 430.6,179.9 431.5,181.6 428,183.4 426.8,187.7 426.8,192.9 426.3,197 426.6,202.4 427.5,210.2 428.5,218 429.5,223.8 431.4,229.9 430.5,232.8 432.4,240.6 435.3,248.4 436.3,254.2 438.3,258.1 444.1,260.1 450,262 453.9,264 453.9,265.9 450.9,269.8 450,273.7 454.8,277.6 458.7,280.6 455.8,282.5 451.9,283.5 448,283.1 452.9,285.4 456.8,289.3 461.7,293.2 466.5,295.2 466.5,298.1 469.5,300 470.4,303 466.5,304.9 461.7,306.9 459.7,310.8 457.5,313.8 453.6,317.7 451.7,321.6 446.8,323.5 440.9,326.4 436.1,329.4 433.1,334.2 429.2,338.1 430.2,344 429.2,349.8 431.2,357.6 434.1,362.5 431.2,367.4 428.5,372 427.7,376.3 426.1,379.5 428.5,384.2 429.3,389 426.1,393.7 424.5,398.5 424.5,404" fill="none" stroke="#cf5a2a" stroke-width="1.2" stroke-linejoin="round" stroke-linecap="round"/>
<g fill="#cf5a2a"><circle cx="428.6" cy="63.4" r="0.95"/><circle cx="429" cy="66.6" r="0.95"/><circle cx="430.2" cy="69.4" r="0.95"/><circle cx="430.4" cy="71.8" r="0.95"/><circle cx="430.6" cy="74.5" r="0.95"/><circle cx="430.9" cy="77" r="0.95"/><circle cx="431" cy="79.7" r="0.95"/><circle cx="431.7" cy="82.5" r="0.95"/><circle cx="432.6" cy="84.2" r="0.95"/><circle cx="432.7" cy="86.1" r="0.95"/><circle cx="432.8" cy="87.9" r="0.95"/><circle cx="433.9" cy="90" r="0.95"/><circle cx="434.3" cy="92.1" r="0.95"/><circle cx="436.3" cy="95" r="0.95"/><circle cx="437" cy="97.2" r="0.95"/><circle cx="438.1" cy="99.7" r="0.95"/><circle cx="439.3" cy="102.4" r="0.95"/><circle cx="440.4" cy="104.6" r="0.95"/><circle cx="441.2" cy="106.8" r="0.95"/><circle cx="441.5" cy="108.7" r="0.95"/><circle cx="443" cy="110.2" r="0.95"/><circle cx="443.9" cy="111.7" r="0.95"/><circle cx="446.6" cy="112.4" r="0.95"/><circle cx="448.3" cy="113.6" r="0.95"/><circle cx="450" cy="116.4" r="0.95"/><circle cx="451.9" cy="119.5" r="0.95"/><circle cx="454.4" cy="120.9" r="0.95"/><circle cx="456.6" cy="122.4" r="0.95"/><circle cx="459.2" cy="123.6" r="0.95"/><circle cx="460.7" cy="125.2" r="0.95"/><circle cx="458.1" cy="125.9" r="0.95"/><circle cx="454.7" cy="126.8" r="0.95"/><circle cx="453" cy="128.1" r="0.95"/><circle cx="451.1" cy="129.4" r="0.95"/><circle cx="449.3" cy="131.2" r="0.95"/><circle cx="447.6" cy="133.1" r="0.95"/><circle cx="445.8" cy="135.2" r="0.95"/><circle cx="444.7" cy="137.4" r="0.95"/><circle cx="443" cy="139.4" r="0.95"/><circle cx="441.9" cy="141.9" r="0.95"/><circle cx="442.9" cy="144.1" r="0.95"/><circle cx="441.4" cy="146.5" r="0.95"/><circle cx="439.8" cy="148.5" r="0.95"/><circle cx="438.3" cy="150.6" r="0.95"/><circle cx="436.9" cy="152.9" r="0.95"/><circle cx="435.1" cy="154.9" r="0.95"/><circle cx="433.6" cy="156.5" r="0.95"/><circle cx="433.7" cy="158.6" r="0.95"/><circle cx="432.1" cy="160.9" r="0.95"/><circle cx="434.9" cy="163.5" r="0.95"/><circle cx="436.1" cy="166.9" r="0.95"/><circle cx="433.7" cy="169.6" r="0.95"/><circle cx="431.4" cy="170.5" r="0.95"/><circle cx="429.2" cy="171.3" r="0.95"/><circle cx="426.6" cy="173.7" r="0.95"/><circle cx="427.6" cy="177.2" r="0.95"/><circle cx="428.5" cy="178.7" r="0.95"/><circle cx="430.5" cy="179.7" r="0.95"/><circle cx="432.1" cy="181.5" r="0.95"/><circle cx="427.4" cy="183.3" r="0.95"/><circle cx="427.5" cy="185.6" r="0.95"/><circle cx="426.3" cy="187.6" r="0.95"/><circle cx="426.2" cy="190.3" r="0.95"/><circle cx="427.1" cy="193" r="0.95"/><circle cx="427" cy="195" r="0.95"/><circle cx="426.7" cy="197.1" r="0.95"/><circle cx="426.4" cy="199.6" r="0.95"/><circle cx="426.8" cy="202.3" r="0.95"/><circle cx="426.4" cy="205" r="0.95"/><circle cx="427.6" cy="207.5" r="0.95"/><circle cx="427.6" cy="210.2" r="0.95"/><circle cx="427.9" cy="212.7" r="0.95"/><circle cx="428.7" cy="215.3" r="0.95"/><circle cx="428.6" cy="218" r="0.95"/><circle cx="428.4" cy="220.9" r="0.95"/><circle cx="429.1" cy="223.6" r="0.95"/><circle cx="429.6" cy="225.7" r="0.95"/><circle cx="430.3" cy="227.9" r="0.95"/><circle cx="431.4" cy="230.1" r="0.95"/><circle cx="431" cy="233" r="0.95"/><circle cx="430.7" cy="234.7" r="0.95"/><circle cx="431.2" cy="236.7" r="0.95"/><circle cx="432.1" cy="238.8" r="0.95"/><circle cx="432.7" cy="240.5" r="0.95"/><circle cx="433" cy="242.6" r="0.95"/><circle cx="433.3" cy="244.3" r="0.95"/><circle cx="434.5" cy="246.3" r="0.95"/><circle cx="435.6" cy="248.3" r="0.95"/><circle cx="435.3" cy="251.2" r="0.95"/><circle cx="436" cy="254.1" r="0.95"/><circle cx="437.3" cy="256.1" r="0.95"/><circle cx="438.1" cy="258.2" r="0.95"/><circle cx="439.9" cy="258.9" r="0.95"/><circle cx="442.7" cy="259.5" r="0.95"/><circle cx="444" cy="260.1" r="0.95"/><circle cx="446.2" cy="260.6" r="0.95"/><circle cx="447.9" cy="261.4" r="0.95"/><circle cx="449.6" cy="261.9" r="0.95"/><circle cx="452.3" cy="263" r="0.95"/><circle cx="453.9" cy="264.2" r="0.95"/><circle cx="454" cy="265.8" r="0.95"/><circle cx="453" cy="267.8" r="0.95"/><circle cx="450.3" cy="269.9" r="0.95"/><circle cx="450" cy="271.7" r="0.95"/><circle cx="450.4" cy="273.8" r="0.95"/><circle cx="451" cy="275" r="0.95"/><circle cx="453.1" cy="276.3" r="0.95"/><circle cx="454.4" cy="277.6" r="0.95"/><circle cx="456.2" cy="279" r="0.95"/><circle cx="458.5" cy="280.8" r="0.95"/><circle cx="455.3" cy="282.6" r="0.95"/><circle cx="453.5" cy="283" r="0.95"/><circle cx="451.8" cy="283.5" r="0.95"/><circle cx="448.3" cy="283.1" r="0.95"/><circle cx="450" cy="284.1" r="0.95"/><circle cx="452.4" cy="285.5" r="0.95"/><circle cx="455" cy="287.5" r="0.95"/><circle cx="457" cy="289.1" r="0.95"/><circle cx="458.6" cy="290.7" r="0.95"/><circle cx="460.3" cy="291.9" r="0.95"/><circle cx="461.5" cy="293.2" r="0.95"/><circle cx="464.5" cy="294.1" r="0.95"/><circle cx="466.5" cy="295.2" r="0.95"/><circle cx="467" cy="298.2" r="0.95"/><circle cx="470" cy="300.1" r="0.95"/><circle cx="470.2" cy="302.9" r="0.95"/><circle cx="468.4" cy="303.9" r="0.95"/><circle cx="466.4" cy="305" r="0.95"/><circle cx="464.6" cy="305.9" r="0.95"/><circle cx="462.1" cy="306.8" r="0.95"/><circle cx="460.5" cy="309" r="0.95"/><circle cx="459.3" cy="310.8" r="0.95"/><circle cx="457" cy="313.7" r="0.95"/><circle cx="456" cy="315.9" r="0.95"/><circle cx="453.8" cy="317.6" r="0.95"/><circle cx="452.4" cy="319.6" r="0.95"/><circle cx="451.9" cy="321.7" r="0.95"/><circle cx="449.2" cy="322.6" r="0.95"/><circle cx="446.3" cy="323.5" r="0.95"/><circle cx="445.4" cy="324.6" r="0.95"/><circle cx="442.4" cy="325.4" r="0.95"/><circle cx="441.2" cy="326.3" r="0.95"/><circle cx="439" cy="327.9" r="0.95"/><circle cx="436.3" cy="329.4" r="0.95"/><circle cx="435.2" cy="331.9" r="0.95"/><circle cx="433.2" cy="334.1" r="0.95"/><circle cx="431.1" cy="336" r="0.95"/><circle cx="429.3" cy="338.2" r="0.95"/><circle cx="429.3" cy="341.1" r="0.95"/><circle cx="430.2" cy="344" r="0.95"/><circle cx="430" cy="347.1" r="0.95"/><circle cx="429.4" cy="349.8" r="0.95"/><circle cx="430.3" cy="351.7" r="0.95"/><circle cx="430.5" cy="353.8" r="0.95"/><circle cx="431" cy="355.8" r="0.95"/><circle cx="430.9" cy="357.6" r="0.95"/><circle cx="432.5" cy="360.1" r="0.95"/><circle cx="434.7" cy="362.5" r="0.95"/><circle cx="432.1" cy="364.9" r="0.95"/><circle cx="431.5" cy="367.5" r="0.95"/><circle cx="430" cy="369.8" r="0.95"/><circle cx="427.9" cy="372.2" r="0.95"/><circle cx="428.4" cy="374.2" r="0.95"/><circle cx="428.2" cy="376.4" r="0.95"/><circle cx="425.6" cy="379.6" r="0.95"/><circle cx="427.6" cy="381.7" r="0.95"/><circle cx="428.8" cy="384.2" r="0.95"/><circle cx="428.5" cy="386.7" r="0.95"/><circle cx="428.9" cy="389" r="0.95"/><circle cx="427.6" cy="391.3" r="0.95"/><circle cx="426.2" cy="393.7" r="0.95"/><circle cx="424.9" cy="396.3" r="0.95"/><circle cx="424" cy="398.3" r="0.95"/><circle cx="424.5" cy="401.4" r="0.95"/><circle cx="424.7" cy="404.1" r="0.95"/></g>
<polyline points="471.2,64.9 472.4,66.9 474.1,68.1 472.2,71.1 474.3,72.2 478.8,74.5 479,76.5 479,77.3 480,79.6 480.4,80.7 482.1,81.7 483.5,84.4 479.9,85.1 481.2,87.3 482.1,88.8 483.6,89.8 483.7,90.6 484.4,92.8 487,93.5 483,95.6 486.4,97.9 485.3,99.7 485.2,101.7 484.5,104 485.6,106.4 486.8,107.9 488.4,109.5 488.2,109.7 489.8,112.4 491,113.1 491.1,113.9 492.7,115.7 491,116.9 494.7,120.2 492.3,121.2 495.2,121.6 495.9,123.8 500.7,124.6 498.4,125.9 497.9,127.7 497.7,129.9 495,131.2 493.1,131.2 493.5,132.4 490.9,134.6 492.3,135.9 488.9,138.5 491.2,140 494.9,140.4 493.8,141.9 496,143.3 496.9,144.7 500,145.8 495.9,147.1 493.4,147.4 495.3,148.7 491.9,149.3 490,151.4 486.8,152.8 488.4,153 487.1,154.6 486.1,155.4 485.2,157.2 481,157.6 483.1,160.2 480.1,161 480.8,162.4 478.7,164 480.1,165.4 481,166.1 484.6,166.6 485.1,169.1 485.3,169.8 486,170.2 481.4,170.8 482.3,170.6 478.8,171.6 479.6,172.4 478.1,172.6 474.3,174.6 475.6,175.6 471.2,176.5 471.7,178.1 472.1,180.5 467.4,180.6 468.8,182.1 467.2,182.6 462,183.5 463.2,184.5 460.1,186.7 461.7,187.6 465.4,188.2 462.3,190.3 468,191.2 467.3,191.8 471.2,191.5 471.8,193.2 469.4,193.7 465.7,194.4 466.8,194.7 470,195.7 472.5,196.1 474.4,197.8 476.2,199.4 477.7,200.2 475.1,201.8 474.8,204.1 475.6,205.4 472.8,207 472.1,207.1 468.5,208.8 467.6,209.6 468.4,209.5 470.8,211.2 470.5,211.9 475.5,212.6 475.7,213.1 475.5,215.9 473.3,216.7 475.8,218.3 478,219.4 481.2,220 479.2,221.4 480,223.2 484.6,226.3 479.3,227.4 479.5,228.8 478.7,230.9 479.8,232.4 477.9,234.3 477.6,236.6 481.4,238.3 479.3,239.9 481.4,242 484.1,243.2 484.9,245 483.9,246.1 484.5,248.5 484.5,250.4 485,251.7 486.3,254 485.1,255.3 487.7,257.5 491.5,257.8 492.6,259.4 490.9,259.8 491.7,261.8 495.4,263.1 496.7,265.9 495.6,267.8 493,269.8 492,271.4 493.4,273.3 490.9,275.3 492.4,277.3 489.5,279.7 489.1,281.7 490.6,283.6 491.3,285.4 490.9,286.9 489.8,290.2 491.1,290.6 492.7,292 492.4,292.2 495.2,293.4 493.8,294.8 493.3,297.1 493.7,298.9 491.7,300.8 492.6,303.8 491.3,305.5 493,307 491.7,308.4 490.3,310.2 489,311.3 487.2,312.7 487.2,314.3 484.1,316.7 485.3,318 483.1,319.6 481.5,320.7 480.5,322.5 479.9,323.5 479.9,325.4 477.9,326.5 477.2,328 476.6,329 475,330.5 475.1,332.4 473.6,334 473.7,336.2 472.9,338.3 473.4,340 474.4,342 474.6,343.3 472.9,345 473.1,346.3 472,348.3 470.5,349.3 471.2,351.3 473.7,353.1 475.4,354.2 474.9,355.4 476.1,357 479.1,358.3 478.8,359.5 480,360.4 482.8,361.4 481.8,363.5 481.1,364.4 480.6,366.3 477.2,366.9 477.5,368 475.4,369.1 477.1,370.5 474.6,371.9 472.7,374.1 471.2,376.3 473.1,377.4 471.7,378.6 469.6,380 466.4,380.9 466.3,382 463,383.9 466.8,384.8 466.5,385.1 467.7,386.3 470.2,387.2 471.3,387.2 473.3,388.1 473.3,388.9 473.6,389.5 473.2,391 469.8,392.9 469.5,393.9 468.5,395 466,396 463.8,397.8 465,398.9 463.7,400 462.5,401.6" fill="none" stroke="#e02a70" stroke-width="0.45" stroke-linejoin="round" stroke-linecap="round"/>
<g fill="#e02a70"><circle cx="471.2" cy="64.9" r="0.95"/><circle cx="472.4" cy="66.9" r="0.95"/><circle cx="474.1" cy="68.1" r="0.95"/><circle cx="472.2" cy="71.1" r="0.95"/><circle cx="474.3" cy="72.2" r="0.95"/><circle cx="478.8" cy="74.5" r="0.95"/><circle cx="479" cy="76.5" r="0.95"/><circle cx="479" cy="77.3" r="0.95"/><circle cx="480" cy="79.6" r="0.95"/><circle cx="480.4" cy="80.7" r="0.95"/><circle cx="482.1" cy="81.7" r="0.95"/><circle cx="483.5" cy="84.4" r="0.95"/><circle cx="479.9" cy="85.1" r="0.95"/><circle cx="481.2" cy="87.3" r="0.95"/><circle cx="482.1" cy="88.8" r="0.95"/><circle cx="483.6" cy="89.8" r="0.95"/><circle cx="483.7" cy="90.6" r="0.95"/><circle cx="484.4" cy="92.8" r="0.95"/><circle cx="487" cy="93.5" r="0.95"/><circle cx="483" cy="95.6" r="0.95"/><circle cx="486.4" cy="97.9" r="0.95"/><circle cx="485.3" cy="99.7" r="0.95"/><circle cx="485.2" cy="101.7" r="0.95"/><circle cx="484.5" cy="104" r="0.95"/><circle cx="485.6" cy="106.4" r="0.95"/><circle cx="486.8" cy="107.9" r="0.95"/><circle cx="488.4" cy="109.5" r="0.95"/><circle cx="488.2" cy="109.7" r="0.95"/><circle cx="489.8" cy="112.4" r="0.95"/><circle cx="491" cy="113.1" r="0.95"/><circle cx="491.1" cy="113.9" r="0.95"/><circle cx="492.7" cy="115.7" r="0.95"/><circle cx="491" cy="116.9" r="0.95"/><circle cx="494.7" cy="120.2" r="0.95"/><circle cx="492.3" cy="121.2" r="0.95"/><circle cx="495.2" cy="121.6" r="0.95"/><circle cx="495.9" cy="123.8" r="0.95"/><circle cx="500.7" cy="124.6" r="0.95"/><circle cx="498.4" cy="125.9" r="0.95"/><circle cx="497.9" cy="127.7" r="0.95"/><circle cx="497.7" cy="129.9" r="0.95"/><circle cx="495" cy="131.2" r="0.95"/><circle cx="493.1" cy="131.2" r="0.95"/><circle cx="493.5" cy="132.4" r="0.95"/><circle cx="490.9" cy="134.6" r="0.95"/><circle cx="492.3" cy="135.9" r="0.95"/><circle cx="488.9" cy="138.5" r="0.95"/><circle cx="491.2" cy="140" r="0.95"/><circle cx="494.9" cy="140.4" r="0.95"/><circle cx="493.8" cy="141.9" r="0.95"/><circle cx="496" cy="143.3" r="0.95"/><circle cx="496.9" cy="144.7" r="0.95"/><circle cx="500" cy="145.8" r="0.95"/><circle cx="495.9" cy="147.1" r="0.95"/><circle cx="493.4" cy="147.4" r="0.95"/><circle cx="495.3" cy="148.7" r="0.95"/><circle cx="491.9" cy="149.3" r="0.95"/><circle cx="490" cy="151.4" r="0.95"/><circle cx="486.8" cy="152.8" r="0.95"/><circle cx="488.4" cy="153" r="0.95"/><circle cx="487.1" cy="154.6" r="0.95"/><circle cx="486.1" cy="155.4" r="0.95"/><circle cx="485.2" cy="157.2" r="0.95"/><circle cx="481" cy="157.6" r="0.95"/><circle cx="483.1" cy="160.2" r="0.95"/><circle cx="480.1" cy="161" r="0.95"/><circle cx="480.8" cy="162.4" r="0.95"/><circle cx="478.7" cy="164" r="0.95"/><circle cx="480.1" cy="165.4" r="0.95"/><circle cx="481" cy="166.1" r="0.95"/><circle cx="484.6" cy="166.6" r="0.95"/><circle cx="485.1" cy="169.1" r="0.95"/><circle cx="485.3" cy="169.8" r="0.95"/><circle cx="486" cy="170.2" r="0.95"/><circle cx="481.4" cy="170.8" r="0.95"/><circle cx="482.3" cy="170.6" r="0.95"/><circle cx="478.8" cy="171.6" r="0.95"/><circle cx="479.6" cy="172.4" r="0.95"/><circle cx="478.1" cy="172.6" r="0.95"/><circle cx="474.3" cy="174.6" r="0.95"/><circle cx="475.6" cy="175.6" r="0.95"/><circle cx="471.2" cy="176.5" r="0.95"/><circle cx="471.7" cy="178.1" r="0.95"/><circle cx="472.1" cy="180.5" r="0.95"/><circle cx="467.4" cy="180.6" r="0.95"/><circle cx="468.8" cy="182.1" r="0.95"/><circle cx="467.2" cy="182.6" r="0.95"/><circle cx="462" cy="183.5" r="0.95"/><circle cx="463.2" cy="184.5" r="0.95"/><circle cx="460.1" cy="186.7" r="0.95"/><circle cx="461.7" cy="187.6" r="0.95"/><circle cx="465.4" cy="188.2" r="0.95"/><circle cx="462.3" cy="190.3" r="0.95"/><circle cx="468" cy="191.2" r="0.95"/><circle cx="467.3" cy="191.8" r="0.95"/><circle cx="471.2" cy="191.5" r="0.95"/><circle cx="471.8" cy="193.2" r="0.95"/><circle cx="469.4" cy="193.7" r="0.95"/><circle cx="465.7" cy="194.4" r="0.95"/><circle cx="466.8" cy="194.7" r="0.95"/><circle cx="470" cy="195.7" r="0.95"/><circle cx="472.5" cy="196.1" r="0.95"/><circle cx="474.4" cy="197.8" r="0.95"/><circle cx="476.2" cy="199.4" r="0.95"/><circle cx="477.7" cy="200.2" r="0.95"/><circle cx="475.1" cy="201.8" r="0.95"/><circle cx="474.8" cy="204.1" r="0.95"/><circle cx="475.6" cy="205.4" r="0.95"/><circle cx="472.8" cy="207" r="0.95"/><circle cx="472.1" cy="207.1" r="0.95"/><circle cx="468.5" cy="208.8" r="0.95"/><circle cx="467.6" cy="209.6" r="0.95"/><circle cx="468.4" cy="209.5" r="0.95"/><circle cx="470.8" cy="211.2" r="0.95"/><circle cx="470.5" cy="211.9" r="0.95"/><circle cx="475.5" cy="212.6" r="0.95"/><circle cx="475.7" cy="213.1" r="0.95"/><circle cx="475.5" cy="215.9" r="0.95"/><circle cx="473.3" cy="216.7" r="0.95"/><circle cx="475.8" cy="218.3" r="0.95"/><circle cx="478" cy="219.4" r="0.95"/><circle cx="481.2" cy="220" r="0.95"/><circle cx="479.2" cy="221.4" r="0.95"/><circle cx="480" cy="223.2" r="0.95"/><circle cx="484.6" cy="226.3" r="0.95"/><circle cx="479.3" cy="227.4" r="0.95"/><circle cx="479.5" cy="228.8" r="0.95"/><circle cx="478.7" cy="230.9" r="0.95"/><circle cx="479.8" cy="232.4" r="0.95"/><circle cx="477.9" cy="234.3" r="0.95"/><circle cx="477.6" cy="236.6" r="0.95"/><circle cx="481.4" cy="238.3" r="0.95"/><circle cx="479.3" cy="239.9" r="0.95"/><circle cx="481.4" cy="242" r="0.95"/><circle cx="484.1" cy="243.2" r="0.95"/><circle cx="484.9" cy="245" r="0.95"/><circle cx="483.9" cy="246.1" r="0.95"/><circle cx="484.5" cy="248.5" r="0.95"/><circle cx="484.5" cy="250.4" r="0.95"/><circle cx="485" cy="251.7" r="0.95"/><circle cx="486.3" cy="254" r="0.95"/><circle cx="485.1" cy="255.3" r="0.95"/><circle cx="487.7" cy="257.5" r="0.95"/><circle cx="491.5" cy="257.8" r="0.95"/><circle cx="492.6" cy="259.4" r="0.95"/><circle cx="490.9" cy="259.8" r="0.95"/><circle cx="491.7" cy="261.8" r="0.95"/><circle cx="495.4" cy="263.1" r="0.95"/><circle cx="496.7" cy="265.9" r="0.95"/><circle cx="495.6" cy="267.8" r="0.95"/><circle cx="493" cy="269.8" r="0.95"/><circle cx="492" cy="271.4" r="0.95"/><circle cx="493.4" cy="273.3" r="0.95"/><circle cx="490.9" cy="275.3" r="0.95"/><circle cx="492.4" cy="277.3" r="0.95"/><circle cx="489.5" cy="279.7" r="0.95"/><circle cx="489.1" cy="281.7" r="0.95"/><circle cx="490.6" cy="283.6" r="0.95"/><circle cx="491.3" cy="285.4" r="0.95"/><circle cx="490.9" cy="286.9" r="0.95"/><circle cx="489.8" cy="290.2" r="0.95"/><circle cx="491.1" cy="290.6" r="0.95"/><circle cx="492.7" cy="292" r="0.95"/><circle cx="492.4" cy="292.2" r="0.95"/><circle cx="495.2" cy="293.4" r="0.95"/><circle cx="493.8" cy="294.8" r="0.95"/><circle cx="493.3" cy="297.1" r="0.95"/><circle cx="493.7" cy="298.9" r="0.95"/><circle cx="491.7" cy="300.8" r="0.95"/><circle cx="492.6" cy="303.8" r="0.95"/><circle cx="491.3" cy="305.5" r="0.95"/><circle cx="493" cy="307" r="0.95"/><circle cx="491.7" cy="308.4" r="0.95"/><circle cx="490.3" cy="310.2" r="0.95"/><circle cx="489" cy="311.3" r="0.95"/><circle cx="487.2" cy="312.7" r="0.95"/><circle cx="487.2" cy="314.3" r="0.95"/><circle cx="484.1" cy="316.7" r="0.95"/><circle cx="485.3" cy="318" r="0.95"/><circle cx="483.1" cy="319.6" r="0.95"/><circle cx="481.5" cy="320.7" r="0.95"/><circle cx="480.5" cy="322.5" r="0.95"/><circle cx="479.9" cy="323.5" r="0.95"/><circle cx="479.9" cy="325.4" r="0.95"/><circle cx="477.9" cy="326.5" r="0.95"/><circle cx="477.2" cy="328" r="0.95"/><circle cx="476.6" cy="329" r="0.95"/><circle cx="475" cy="330.5" r="0.95"/><circle cx="475.1" cy="332.4" r="0.95"/><circle cx="473.6" cy="334" r="0.95"/><circle cx="473.7" cy="336.2" r="0.95"/><circle cx="472.9" cy="338.3" r="0.95"/><circle cx="473.4" cy="340" r="0.95"/><circle cx="474.4" cy="342" r="0.95"/><circle cx="474.6" cy="343.3" r="0.95"/><circle cx="472.9" cy="345" r="0.95"/><circle cx="473.1" cy="346.3" r="0.95"/><circle cx="472" cy="348.3" r="0.95"/><circle cx="470.5" cy="349.3" r="0.95"/><circle cx="471.2" cy="351.3" r="0.95"/><circle cx="473.7" cy="353.1" r="0.95"/><circle cx="475.4" cy="354.2" r="0.95"/><circle cx="474.9" cy="355.4" r="0.95"/><circle cx="476.1" cy="357" r="0.95"/><circle cx="479.1" cy="358.3" r="0.95"/><circle cx="478.8" cy="359.5" r="0.95"/><circle cx="480" cy="360.4" r="0.95"/><circle cx="482.8" cy="361.4" r="0.95"/><circle cx="481.8" cy="363.5" r="0.95"/><circle cx="481.1" cy="364.4" r="0.95"/><circle cx="480.6" cy="366.3" r="0.95"/><circle cx="477.2" cy="366.9" r="0.95"/><circle cx="477.5" cy="368" r="0.95"/><circle cx="475.4" cy="369.1" r="0.95"/><circle cx="477.1" cy="370.5" r="0.95"/><circle cx="474.6" cy="371.9" r="0.95"/><circle cx="472.7" cy="374.1" r="0.95"/><circle cx="471.2" cy="376.3" r="0.95"/><circle cx="473.1" cy="377.4" r="0.95"/><circle cx="471.7" cy="378.6" r="0.95"/><circle cx="469.6" cy="380" r="0.95"/><circle cx="466.4" cy="380.9" r="0.95"/><circle cx="466.3" cy="382" r="0.95"/><circle cx="463" cy="383.9" r="0.95"/><circle cx="466.8" cy="384.8" r="0.95"/><circle cx="466.5" cy="385.1" r="0.95"/><circle cx="467.7" cy="386.3" r="0.95"/><circle cx="470.2" cy="387.2" r="0.95"/><circle cx="471.3" cy="387.2" r="0.95"/><circle cx="473.3" cy="388.1" r="0.95"/><circle cx="473.3" cy="388.9" r="0.95"/><circle cx="473.6" cy="389.5" r="0.95"/><circle cx="473.2" cy="391" r="0.95"/><circle cx="469.8" cy="392.9" r="0.95"/><circle cx="469.5" cy="393.9" r="0.95"/><circle cx="468.5" cy="395" r="0.95"/><circle cx="466" cy="396" r="0.95"/><circle cx="463.8" cy="397.8" r="0.95"/><circle cx="465" cy="398.9" r="0.95"/><circle cx="463.7" cy="400" r="0.95"/><circle cx="462.5" cy="401.6" r="0.95"/></g>
<polygon points="529.4,225.8 530.2,226.9 531.2,227.9 532.2,228.6 533.1,229.2 534.1,229.9 534.8,230.9 535.4,231.8 536.1,232.8 535.4,233.8 534.8,234.7 534.1,235.7 533.4,236.4 532.7,237.1 531.9,237.9 531.2,238.6 530.2,239.2 529.2,239.8 528.3,240.4 528.3,241 528.3,241.6 528.3,241.6 528.3,241 528.3,240.4 528.3,239.8 528.4,239.2 528.5,238.6 528.6,237.9 528.7,237.1 528.8,236.4 528.9,235.7 529.1,234.7 529.3,233.8 529.4,232.8 529.5,231.8 529.5,230.9 529.6,229.9 529.6,229.2 529.5,228.6 529.5,227.9 529.5,226.9 529.4,225.8" fill="#a3d47c"/>
<polygon points="528.4,243.5 528.5,243.8 529.2,244 530.2,244.2 531.2,244.5 532.2,245 533.2,245.4 534.1,245.9 535.1,246.4 534.8,247.4 534.4,248.4 534.1,249.4 533.1,249.9 532.2,250.4 531.2,250.8 530.6,251.3 530.6,251.3 530.4,250.8 530.3,250.4 530.1,249.9 529.9,249.4 529.6,248.4 529.3,247.4 529,246.4 528.9,245.9 528.8,245.4 528.7,245 528.6,244.5 528.6,244.2 528.5,244 528.5,243.8 528.4,243.5" fill="#a3d47c"/>
<polygon points="532.2,253.3 533.2,253.6 534.1,253.9 535.1,254.2 536.1,254.6 537,254.9 538,255.2 539,256.2 540,257.2 539,257.8 538,258.5 537,259.1 536,259.6 535,260.1 534.1,260.6 533.1,261.1 533.1,262.1 533.3,263 533.3,263 533.1,262.1 532.9,261.1 532.8,260.6 532.8,260.1 532.7,259.6 532.6,259.1 532.4,258.5 532.3,257.8 532.2,257.2 532,256.2 532,255.2 532,254.9 532.1,254.6 532.1,254.2 532.1,253.9 532.2,253.6 532.2,253.3" fill="#a3d47c"/>
<polygon points="533.3,263 533.4,263.7 533.5,264.3 534.1,265 535.1,265.4 536.1,265.8 537,266.1 538,266.5 539,266.9 540,267.2 540.9,267.6 541.9,267.9 541.2,268.6 540.5,269.4 539.7,270.1 539,270.8 538.3,271.5 537.5,272.2 536.8,273 536.1,273.7 536.7,274.7 537.4,275.7 538,276.7 537,277.3 536.1,278 535.1,278.6 534.4,279.6 533.8,280.5 533.1,281.5 533.4,282.5 533.8,283.5 534.1,284.5 533.1,285.1 532.2,285.8 531.2,286.4 530.2,286.7 529.2,287.1 528.2,287.4 527.3,287.7 526.4,288.1 526.3,288.4 526.3,288.4 526.4,288.1 526.5,287.7 526.7,287.4 526.8,287.1 526.9,286.7 527.1,286.4 527.4,285.8 527.7,285.1 528.1,284.5 528.7,283.5 529.3,282.5 529.9,281.5 530.5,280.5 531.1,279.6 531.7,278.6 532.1,278 532.4,277.3 532.7,276.7 533.2,275.7 533.5,274.7 533.8,273.7 534,273 534.1,272.2 534.2,271.5 534.2,270.8 534.2,270.1 534.2,269.4 534.1,268.6 534.1,267.9 534,267.6 534,267.2 533.9,266.9 533.9,266.5 533.8,266.1 533.8,265.8 533.7,265.4 533.6,265 533.5,264.3 533.4,263.7 533.3,263" fill="#a3d47c"/>
<polygon points="530.8,302 531.3,302.6 531.9,303.2 532.4,303.8 533,304.4 533.5,305 534.1,305.3 535.1,305.7 536,306 537,306.3 538,306.7 539,307 540,307.4 541,307.8 541.9,308.1 542.9,308.5 543.9,308.9 544.2,309.9 544.5,310.8 544.8,311.8 545.8,312.2 546.8,312.6 547.7,313 548.7,313.4 549.7,313.8 549,314.5 548.2,315.2 547.5,316 546.8,316.7 546.1,317.4 545.3,318.1 544.6,318.9 543.9,319.6 542.9,320.3 542.6,321.1 542.8,321.8 543,322.5 543,322.5 542.8,321.8 542.6,321.1 542.5,320.3 542.3,319.6 542.2,318.9 542,318.1 541.8,317.4 541.6,316.7 541.4,316 541.2,315.2 540.8,314.5 540.5,313.8 540.3,313.4 540,313 539.8,312.6 539.5,312.2 539.3,311.8 538.6,310.8 537.8,309.9 537,308.9 536.7,308.5 536.4,308.1 536,307.8 535.7,307.4 535.3,307 535,306.7 534.7,306.3 534.4,306 534.1,305.7 533.8,305.3 533.5,305 533,304.4 532.4,303.8 531.9,303.2 531.3,302.6 530.8,302" fill="#a3d47c"/>
<polygon points="546.8,325.5 547.8,326 548.8,326.4 549.7,326.9 550.7,327.4 551.4,328.1 552.2,328.9 552.9,329.6 553.6,330.3 553.3,331.3 552.9,332.3 552.6,333.3 551.6,333.7 550.7,334.1 549.7,334.4 548.8,334.8 547.9,335.2 547.9,335.2 547.8,334.8 547.7,334.4 547.7,334.1 547.6,333.7 547.6,333.3 547.5,332.3 547.4,331.3 547.3,330.3 547.2,329.6 547.1,328.9 547.1,328.1 547,327.4 546.9,326.9 546.9,326.4 546.8,326 546.8,325.5" fill="#a3d47c"/>
<polyline points="528.3,64.4 531.2,67.7 530.2,69.6 535.1,71.6 534.1,74.5 536.1,77.4 537,81.3 536.1,84.2 532.2,87.2 528.3,90.1 534.1,92 539,95.9 533.1,98.9 532.2,102.8 533.1,105.7 529.2,107.6 531.2,110.6 526.3,112.5 523.4,115.4 521.4,119.3 523.4,122.3 528.3,124.2 527.3,128.1 529.2,131 528.3,134.9 532.2,136.9 535.1,139.8 536.1,142.7 537,145.8 539,151.7 540,159.5 536.1,163.4 537,169.2 532.2,171.2 536.1,173.1 540,177 544.8,180.9 542.9,184.8 538,186.8 543.9,188.7 540,192.6 536.1,195.6 532.2,198.5 530.2,202.4 528.3,208.2 531.2,214.1 535.1,218 532.2,221.9 529.2,225.8 531.2,227.9 534.1,229.9 536.1,232.8 534.1,235.7 531.2,238.6 526.3,241.6 527.3,243.5 531.2,244.5 535.1,246.4 534.1,249.4 530.2,251.3 532.2,253.3 538,255.2 540,257.2 537,259.1 533.1,261.1 531.2,263 534.1,265 539,266.9 541.9,267.9 539,270.8 536.1,273.7 538,276.7 535.1,278.6 533.1,281.5 534.1,284.5 531.2,286.4 525.3,288.4 524.4,291.3 525.3,294.2 531.2,296.2 531.2,299.1 528.3,302 533.1,305 539,307 543.9,308.9 544.8,311.8 549.7,313.8 546.8,316.7 543.9,319.6 540,322.5 542.9,324.5 546.8,325.5 550.7,327.4 553.6,330.3 552.6,333.3 547.8,335.2 546.8,337.2 549.7,340.1 555.6,342 557.5,345.9 562.4,347.9 567.3,349.8 569.2,351.8 567.3,354.7 562.4,356.7 558.5,357.6 555.6,361.5 552.6,365.4 551.7,368.4 550.7,370.3 557.8,371.6 560.2,374.7 562.5,381.1 558.6,384.2 554.6,387.4 552.2,390.6 554.6,393.7 557,397.7" fill="none" stroke="#2323a6" stroke-width="0.6" stroke-linejoin="round" stroke-linecap="round"/>
<g fill="#2323a6"><circle cx="528.3" cy="64.4" r="1.0"/><circle cx="531.2" cy="67.7" r="1.0"/><circle cx="530.2" cy="69.6" r="1.0"/><circle cx="532.7" cy="70.6" r="1.0"/><circle cx="535.1" cy="71.6" r="1.0"/><circle cx="534.1" cy="74.5" r="1.0"/><circle cx="536.1" cy="77.4" r="1.0"/><circle cx="537" cy="81.3" r="1.0"/><circle cx="536.1" cy="84.2" r="1.0"/><circle cx="532.2" cy="87.2" r="1.0"/><circle cx="528.3" cy="90.1" r="1.0"/><circle cx="531.2" cy="91" r="1.0"/><circle cx="534.1" cy="92" r="1.0"/><circle cx="536.5" cy="94" r="1.0"/><circle cx="539" cy="95.9" r="1.0"/><circle cx="536" cy="97.4" r="1.0"/><circle cx="533.1" cy="98.9" r="1.0"/><circle cx="532.2" cy="102.8" r="1.0"/><circle cx="533.1" cy="105.7" r="1.0"/><circle cx="529.2" cy="107.6" r="1.0"/><circle cx="531.2" cy="110.6" r="1.0"/><circle cx="528.8" cy="111.5" r="1.0"/><circle cx="526.3" cy="112.5" r="1.0"/><circle cx="523.4" cy="115.4" r="1.0"/><circle cx="521.4" cy="119.3" r="1.0"/><circle cx="523.4" cy="122.3" r="1.0"/><circle cx="525.8" cy="123.2" r="1.0"/><circle cx="528.3" cy="124.2" r="1.0"/><circle cx="527.3" cy="128.1" r="1.0"/><circle cx="529.2" cy="131" r="1.0"/><circle cx="528.3" cy="134.9" r="1.0"/><circle cx="532.2" cy="136.9" r="1.0"/><circle cx="535.1" cy="139.8" r="1.0"/><circle cx="536.1" cy="142.7" r="1.0"/><circle cx="537" cy="145.8" r="1.0"/><circle cx="538" cy="148.8" r="1.0"/><circle cx="539" cy="151.7" r="1.0"/><circle cx="539.3" cy="154.3" r="1.0"/><circle cx="539.7" cy="156.9" r="1.0"/><circle cx="540" cy="159.5" r="1.0"/><circle cx="538" cy="161.4" r="1.0"/><circle cx="536.1" cy="163.4" r="1.0"/><circle cx="536.5" cy="166.3" r="1.0"/><circle cx="537" cy="169.2" r="1.0"/><circle cx="532.2" cy="171.2" r="1.0"/><circle cx="536.1" cy="173.1" r="1.0"/><circle cx="538" cy="175.1" r="1.0"/><circle cx="540" cy="177" r="1.0"/><circle cx="542.4" cy="178.9" r="1.0"/><circle cx="544.8" cy="180.9" r="1.0"/><circle cx="542.9" cy="184.8" r="1.0"/><circle cx="540.5" cy="185.8" r="1.0"/><circle cx="538" cy="186.8" r="1.0"/><circle cx="541" cy="187.8" r="1.0"/><circle cx="543.9" cy="188.7" r="1.0"/><circle cx="542" cy="190.6" r="1.0"/><circle cx="540" cy="192.6" r="1.0"/><circle cx="536.1" cy="195.6" r="1.0"/><circle cx="532.2" cy="198.5" r="1.0"/><circle cx="530.2" cy="202.4" r="1.0"/><circle cx="529.2" cy="205.3" r="1.0"/><circle cx="528.3" cy="208.2" r="1.0"/><circle cx="529.8" cy="211.1" r="1.0"/><circle cx="531.2" cy="214.1" r="1.0"/><circle cx="533.2" cy="216.1" r="1.0"/><circle cx="535.1" cy="218" r="1.0"/><circle cx="532.2" cy="221.9" r="1.0"/><circle cx="529.2" cy="225.8" r="1.0"/><circle cx="531.2" cy="227.9" r="1.0"/><circle cx="534.1" cy="229.9" r="1.0"/><circle cx="536.1" cy="232.8" r="1.0"/><circle cx="534.1" cy="235.7" r="1.0"/><circle cx="531.2" cy="238.6" r="1.0"/><circle cx="528.8" cy="240.1" r="1.0"/><circle cx="526.3" cy="241.6" r="1.0"/><circle cx="527.3" cy="243.5" r="1.0"/><circle cx="531.2" cy="244.5" r="1.0"/><circle cx="535.1" cy="246.4" r="1.0"/><circle cx="534.1" cy="249.4" r="1.0"/><circle cx="530.2" cy="251.3" r="1.0"/><circle cx="532.2" cy="253.3" r="1.0"/><circle cx="535.1" cy="254.2" r="1.0"/><circle cx="538" cy="255.2" r="1.0"/><circle cx="540" cy="257.2" r="1.0"/><circle cx="537" cy="259.1" r="1.0"/><circle cx="533.1" cy="261.1" r="1.0"/><circle cx="531.2" cy="263" r="1.0"/><circle cx="534.1" cy="265" r="1.0"/><circle cx="536.5" cy="265.9" r="1.0"/><circle cx="539" cy="266.9" r="1.0"/><circle cx="541.9" cy="267.9" r="1.0"/><circle cx="539" cy="270.8" r="1.0"/><circle cx="536.1" cy="273.7" r="1.0"/><circle cx="538" cy="276.7" r="1.0"/><circle cx="535.1" cy="278.6" r="1.0"/><circle cx="533.1" cy="281.5" r="1.0"/><circle cx="534.1" cy="284.5" r="1.0"/><circle cx="531.2" cy="286.4" r="1.0"/><circle cx="528.2" cy="287.4" r="1.0"/><circle cx="525.3" cy="288.4" r="1.0"/><circle cx="524.4" cy="291.3" r="1.0"/><circle cx="525.3" cy="294.2" r="1.0"/><circle cx="528.2" cy="295.2" r="1.0"/><circle cx="531.2" cy="296.2" r="1.0"/><circle cx="531.2" cy="299.1" r="1.0"/><circle cx="528.3" cy="302" r="1.0"/><circle cx="530.7" cy="303.5" r="1.0"/><circle cx="533.1" cy="305" r="1.0"/><circle cx="536" cy="306" r="1.0"/><circle cx="539" cy="307" r="1.0"/><circle cx="541.5" cy="307.9" r="1.0"/><circle cx="543.9" cy="308.9" r="1.0"/><circle cx="544.8" cy="311.8" r="1.0"/><circle cx="547.2" cy="312.8" r="1.0"/><circle cx="549.7" cy="313.8" r="1.0"/><circle cx="546.8" cy="316.7" r="1.0"/><circle cx="543.9" cy="319.6" r="1.0"/><circle cx="540" cy="322.5" r="1.0"/><circle cx="542.9" cy="324.5" r="1.0"/><circle cx="546.8" cy="325.5" r="1.0"/><circle cx="550.7" cy="327.4" r="1.0"/><circle cx="553.6" cy="330.3" r="1.0"/><circle cx="552.6" cy="333.3" r="1.0"/><circle cx="547.8" cy="335.2" r="1.0"/><circle cx="546.8" cy="337.2" r="1.0"/><circle cx="549.7" cy="340.1" r="1.0"/><circle cx="552.7" cy="341.1" r="1.0"/><circle cx="555.6" cy="342" r="1.0"/><circle cx="557.5" cy="345.9" r="1.0"/><circle cx="560" cy="346.9" r="1.0"/><circle cx="562.4" cy="347.9" r="1.0"/><circle cx="564.8" cy="348.9" r="1.0"/><circle cx="567.3" cy="349.8" r="1.0"/><circle cx="569.2" cy="351.8" r="1.0"/><circle cx="567.3" cy="354.7" r="1.0"/><circle cx="564.8" cy="355.7" r="1.0"/><circle cx="562.4" cy="356.7" r="1.0"/><circle cx="558.5" cy="357.6" r="1.0"/><circle cx="555.6" cy="361.5" r="1.0"/><circle cx="552.6" cy="365.4" r="1.0"/><circle cx="551.7" cy="368.4" r="1.0"/><circle cx="550.7" cy="370.3" r="1.0"/><circle cx="554.2" cy="371" r="1.0"/><circle cx="557.8" cy="371.6" r="1.0"/><circle cx="560.2" cy="374.7" r="1.0"/><circle cx="561.4" cy="377.9" r="1.0"/><circle cx="562.5" cy="381.1" r="1.0"/><circle cx="558.6" cy="384.2" r="1.0"/><circle cx="554.6" cy="387.4" r="1.0"/><circle cx="552.2" cy="390.6" r="1.0"/><circle cx="554.6" cy="393.7" r="1.0"/><circle cx="557" cy="397.7" r="1.0"/></g>
<line x1="575" y1="62.6" x2="575" y2="399.3" stroke="#666" stroke-width="1.3" stroke-dasharray="2.2,1.6"/>
<polyline points="577.3,63.9 580.3,66.9 581.2,71.7 583.2,75.6 582.2,79.5 584.2,83.5 579.3,87.4 575.4,89.3 580.3,92.2 583.2,95.2 580.3,98.1 578.3,100 579.3,102.9 576.4,106.8 577.3,109.8 574.4,111.7 571.5,115.6 570.5,120.5 573.4,123.4 574.4,128.3 573.4,131.2 575.4,134.2 573.4,135.1 577.3,137.1 580.3,140 579.3,143 580.3,146.9 581.2,150.8 583.2,155.6 581.2,159.5 579.3,163.5 580.3,167.4 578.3,171.3 581.2,174.2 585.1,177.1 588.5,180.5 586,184 584,187.5 581.2,191.7 577.3,196.6 576.4,200.5 574.4,205.4 576.4,211.2 580.3,219 577.3,222 575.4,225.9 578.3,230.8 581.2,233.7 579.3,237.6 575.4,241.5 579.3,247.4 577.3,250.3 583.2,256.1 579.3,260 576.4,263 579.3,264.9 585.1,266.9 587.1,267.8 584.2,271.7 580.3,275.6 581.2,278.5 577.3,282.5 576.4,286.4 571.5,289.3 569.5,294.2 575.4,296.1 573.4,302 579.3,304.9 584.2,307.8 585.1,312.7 591,315.6 585.1,318.6 582.2,322.5 586.1,324.4 594.9,327.4 595.4,331 590,336.5 592,339.5 597.8,344 604,347.6 611,349.5 614.9,350.5 612,355.4 605.1,357.3 598.3,359.3 595.4,363.2 593.4,370 600.3,372 604.2,376.9 605.1,381.7 600.3,386.6 594.4,390.5 597.3,395.4 598.3,398.3" fill="none" stroke="#4c8ee0" stroke-width="0.5" stroke-linejoin="round" stroke-linecap="round"/>
<g fill="#4c8ee0"><circle cx="577" cy="64" r="0.9"/><circle cx="578.4" cy="65.5" r="0.9"/><circle cx="579.9" cy="66.8" r="0.9"/><circle cx="581.2" cy="69.2" r="0.9"/><circle cx="581.3" cy="71.7" r="0.9"/><circle cx="582.2" cy="73.6" r="0.9"/><circle cx="582.9" cy="75.7" r="0.9"/><circle cx="581.8" cy="79.4" r="0.9"/><circle cx="582.7" cy="81.4" r="0.9"/><circle cx="584.1" cy="83.6" r="0.9"/><circle cx="581.6" cy="85.3" r="0.9"/><circle cx="579.1" cy="87.5" r="0.9"/><circle cx="576.9" cy="88.4" r="0.9"/><circle cx="575.3" cy="89.3" r="0.9"/><circle cx="577.7" cy="90.8" r="0.9"/><circle cx="580.3" cy="92.2" r="0.9"/><circle cx="583.6" cy="95.2" r="0.9"/><circle cx="579.9" cy="98" r="0.9"/><circle cx="578.7" cy="100" r="0.9"/><circle cx="579" cy="103" r="0.9"/><circle cx="577.9" cy="104.9" r="0.9"/><circle cx="576.8" cy="106.7" r="0.9"/><circle cx="577.2" cy="109.9" r="0.9"/><circle cx="574" cy="111.8" r="0.9"/><circle cx="572.5" cy="113.7" r="0.9"/><circle cx="571.7" cy="115.7" r="0.9"/><circle cx="571.3" cy="118.1" r="0.9"/><circle cx="570.2" cy="120.4" r="0.9"/><circle cx="573.4" cy="123.4" r="0.9"/><circle cx="573.5" cy="126" r="0.9"/><circle cx="574.4" cy="128.4" r="0.9"/><circle cx="573.1" cy="131.1" r="0.9"/><circle cx="574.9" cy="134.2" r="0.9"/><circle cx="573.2" cy="135.1" r="0.9"/><circle cx="575.2" cy="136.2" r="0.9"/><circle cx="577.7" cy="137" r="0.9"/><circle cx="580.2" cy="139.9" r="0.9"/><circle cx="579.5" cy="143.1" r="0.9"/><circle cx="580" cy="147" r="0.9"/><circle cx="581" cy="150.7" r="0.9"/><circle cx="582.5" cy="153.2" r="0.9"/><circle cx="582.9" cy="155.6" r="0.9"/><circle cx="581.9" cy="157.5" r="0.9"/><circle cx="581.1" cy="159.5" r="0.9"/><circle cx="580.3" cy="161.4" r="0.9"/><circle cx="578.9" cy="163.4" r="0.9"/><circle cx="579.9" cy="167.4" r="0.9"/><circle cx="579.2" cy="169.4" r="0.9"/><circle cx="578.3" cy="171.4" r="0.9"/><circle cx="581.7" cy="174.1" r="0.9"/><circle cx="582.7" cy="175.5" r="0.9"/><circle cx="585" cy="177.1" r="0.9"/><circle cx="587" cy="178.8" r="0.9"/><circle cx="589" cy="180.4" r="0.9"/><circle cx="587.6" cy="182.2" r="0.9"/><circle cx="586.4" cy="183.9" r="0.9"/><circle cx="584.5" cy="187.6" r="0.9"/><circle cx="583.1" cy="189.6" r="0.9"/><circle cx="580.9" cy="191.8" r="0.9"/><circle cx="579.2" cy="194" r="0.9"/><circle cx="577.4" cy="196.6" r="0.9"/><circle cx="576.4" cy="200.4" r="0.9"/><circle cx="575" cy="203" r="0.9"/><circle cx="574.4" cy="205.3" r="0.9"/><circle cx="575.3" cy="208.4" r="0.9"/><circle cx="576.6" cy="211.2" r="0.9"/><circle cx="577.3" cy="213.1" r="0.9"/><circle cx="578.1" cy="215" r="0.9"/><circle cx="579.3" cy="216.9" r="0.9"/><circle cx="580.5" cy="219.1" r="0.9"/><circle cx="578.9" cy="220.4" r="0.9"/><circle cx="577.2" cy="222" r="0.9"/><circle cx="575.9" cy="224.1" r="0.9"/><circle cx="575.7" cy="225.9" r="0.9"/><circle cx="577.1" cy="228.3" r="0.9"/><circle cx="578" cy="230.8" r="0.9"/><circle cx="581.4" cy="233.7" r="0.9"/><circle cx="579.8" cy="235.7" r="0.9"/><circle cx="579.7" cy="237.7" r="0.9"/><circle cx="577.8" cy="239.7" r="0.9"/><circle cx="575.1" cy="241.4" r="0.9"/><circle cx="576.7" cy="243.6" r="0.9"/><circle cx="577.9" cy="245.6" r="0.9"/><circle cx="579.7" cy="247.4" r="0.9"/><circle cx="577.4" cy="250.4" r="0.9"/><circle cx="579.5" cy="252.2" r="0.9"/><circle cx="581.6" cy="254.1" r="0.9"/><circle cx="583.1" cy="256.2" r="0.9"/><circle cx="581.6" cy="258" r="0.9"/><circle cx="579.1" cy="260" r="0.9"/><circle cx="576.7" cy="263.1" r="0.9"/><circle cx="579.7" cy="265" r="0.9"/><circle cx="582.5" cy="265.9" r="0.9"/><circle cx="585" cy="266.9" r="0.9"/><circle cx="587.1" cy="267.8" r="0.9"/><circle cx="586" cy="269.7" r="0.9"/><circle cx="583.8" cy="271.8" r="0.9"/><circle cx="582" cy="273.6" r="0.9"/><circle cx="579.9" cy="275.7" r="0.9"/><circle cx="581" cy="278.4" r="0.9"/><circle cx="579.6" cy="280.5" r="0.9"/><circle cx="577.1" cy="282.6" r="0.9"/><circle cx="576.3" cy="286.4" r="0.9"/><circle cx="574.4" cy="287.9" r="0.9"/><circle cx="571.7" cy="289.2" r="0.9"/><circle cx="570.8" cy="291.8" r="0.9"/><circle cx="569.8" cy="294.2" r="0.9"/><circle cx="572.7" cy="295.2" r="0.9"/><circle cx="575.3" cy="296.1" r="0.9"/><circle cx="574.7" cy="299.2" r="0.9"/><circle cx="573.8" cy="302.1" r="0.9"/><circle cx="575" cy="303" r="0.9"/><circle cx="577.5" cy="303.8" r="0.9"/><circle cx="579.3" cy="305" r="0.9"/><circle cx="582.2" cy="306.5" r="0.9"/><circle cx="583.8" cy="307.8" r="0.9"/><circle cx="585" cy="310.3" r="0.9"/><circle cx="584.9" cy="312.6" r="0.9"/><circle cx="587.5" cy="313.8" r="0.9"/><circle cx="589.2" cy="314.6" r="0.9"/><circle cx="591.3" cy="315.7" r="0.9"/><circle cx="589.3" cy="316.6" r="0.9"/><circle cx="586.9" cy="317.5" r="0.9"/><circle cx="585" cy="318.5" r="0.9"/><circle cx="583.7" cy="320.4" r="0.9"/><circle cx="582.4" cy="322.5" r="0.9"/><circle cx="583.8" cy="323.4" r="0.9"/><circle cx="586" cy="324.4" r="0.9"/><circle cx="588.6" cy="325" r="0.9"/><circle cx="590.2" cy="325.8" r="0.9"/><circle cx="592.4" cy="326.7" r="0.9"/><circle cx="594.5" cy="327.3" r="0.9"/><circle cx="595.5" cy="331.1" r="0.9"/><circle cx="593.9" cy="332.9" r="0.9"/><circle cx="591.6" cy="334.8" r="0.9"/><circle cx="590.2" cy="336.5" r="0.9"/><circle cx="592.1" cy="339.6" r="0.9"/><circle cx="594.4" cy="341.1" r="0.9"/><circle cx="595.5" cy="342.4" r="0.9"/><circle cx="597.7" cy="343.9" r="0.9"/><circle cx="600.1" cy="345.1" r="0.9"/><circle cx="602.3" cy="346.4" r="0.9"/><circle cx="604.1" cy="347.6" r="0.9"/><circle cx="606.8" cy="348.3" r="0.9"/><circle cx="609.1" cy="349" r="0.9"/><circle cx="611.2" cy="349.6" r="0.9"/><circle cx="614.9" cy="350.5" r="0.9"/><circle cx="613.8" cy="353" r="0.9"/><circle cx="611.8" cy="355.5" r="0.9"/><circle cx="609.7" cy="355.9" r="0.9"/><circle cx="607.7" cy="356.7" r="0.9"/><circle cx="605.6" cy="357.3" r="0.9"/><circle cx="603.3" cy="357.9" r="0.9"/><circle cx="600.3" cy="358.6" r="0.9"/><circle cx="598.6" cy="359.4" r="0.9"/><circle cx="597" cy="361.1" r="0.9"/><circle cx="595.3" cy="363.1" r="0.9"/><circle cx="594.6" cy="365.6" r="0.9"/><circle cx="593.9" cy="367.8" r="0.9"/><circle cx="593.5" cy="369.9" r="0.9"/><circle cx="595.9" cy="370.5" r="0.9"/><circle cx="597.7" cy="371.4" r="0.9"/><circle cx="599.9" cy="372.1" r="0.9"/><circle cx="602.2" cy="374.5" r="0.9"/><circle cx="604.7" cy="376.8" r="0.9"/><circle cx="605.1" cy="379.2" r="0.9"/><circle cx="605.2" cy="381.7" r="0.9"/><circle cx="604" cy="383.3" r="0.9"/><circle cx="602.3" cy="385" r="0.9"/><circle cx="600.3" cy="386.5" r="0.9"/><circle cx="598.1" cy="387.9" r="0.9"/><circle cx="596.2" cy="389.2" r="0.9"/><circle cx="594.7" cy="390.5" r="0.9"/><circle cx="596" cy="392.8" r="0.9"/><circle cx="596.9" cy="395.5" r="0.9"/><circle cx="598.7" cy="398.2" r="0.9"/></g>
<polyline points="644.8,72.9 643.7,74 640.1,75.4 642.9,76.9 640.9,77 638.5,78.1 637.7,79.1 638.9,81.6 642.8,82.7 643.9,82.8 642.9,84.4 646.2,85.7 645.4,85.3 642.7,86.9 640.7,86.9 639.1,87.5 642.8,90.1 642.4,90.8 645.1,92.7 645.9,94.5 643.1,96.8 642.3,98.4 638.9,99.9 640.7,101.1 638,103.9 640.1,105.7 640.4,107.4 642.3,109.1 638.8,111.1 640.3,113.1 639.5,115.8 640.3,116.8 644.1,117.4 641,118.9 646,120.8 645.1,121.7 646.5,123.1 644.9,125 648,126.9 645.3,127.8 639.9,127.8 643.4,131.4 639.3,133.1 638.9,134.5 637,135.2 637.4,136.7 636.7,139.5 638.1,139.1 638.4,140.3 643.6,141.5 643.1,141.5 648.4,142.4 646.6,142.3 647.2,143.7 651.4,145 649.7,146.8 648.8,148.2 646.2,148.2 647.4,148.7 647.4,151.7 641.9,152.2 638.9,152.9 638,154.2 639.2,154.3 633.8,154.6 633.2,155.2 633.6,158.1 633.6,158.9 638.4,161 639.7,162.3 640.5,163.6 641.3,164.7 641.2,164.7 641.7,166.5 647,167.2 646.2,167.5 650.1,168.5 651.8,169.3 652.6,170.5 651.8,171.8 653.5,171 652,172.6 649,171.7 648.6,172.2 647.3,173.3 641,173.3 641.8,174.5 640.4,175.7 638.8,177.3 644.2,178 645.9,178.8 647.6,180.4 646.3,180.7 644.7,180.8 642,181.7 641.5,182.7 637.9,182.7 634.2,182.4 635.4,183.5 635.2,184.1 630.2,185.2 631.8,186.8 630.1,187.9 635.9,187.5 636.5,188.5 639.2,189.2 638,190.2 643,190.4 640.3,191.9 646,192.2 645.8,193.1 645.8,193 644.7,194.2 640.3,196.1 641.8,197.5 641.5,199 643.2,199.3 646.3,200.9 648.2,203 647.1,203.6 643.5,205.1 642.6,206.1 640.8,205.9 638,207.8 636.6,208.3 637.7,208.7 634.2,209.4 634.1,210.8 636.5,211.7 637.4,212.6 640.6,214.2 639.9,215.5 642.8,217.1 643.6,218.1 642.1,219.4 646.6,220.9 648,222.6 645.5,224.1 644.7,225.2 644.6,228.5 642.1,229.1 641.3,229.6 638.4,230.1 641.4,232.3 641.6,233.9 643.4,234.6 642.6,236.7 641.6,239.3 641.4,241.3 637.4,242.8 639.1,244.9 639.8,246.3 639.3,247.7 640.7,248.5 642.1,250.6 638.3,251.9 637.4,254.4 639.7,256.8 638.1,257.4 641.4,258.5 640.8,259.4 641.6,261.1 646,262.2 645.9,263.6 648.6,263.5 645,266 648.4,267.2 645.6,267.6 642.4,269 642.3,271.4 644.8,272.7 640.5,273.3 640.6,276.3 639.3,278.1 641.1,279.7 642.2,281.2 639.8,283 637.5,284.8 638.3,286.9 638.3,289.3 640.6,290.4 643.8,291.4 644.8,293 646.9,295.5 643.9,296.9 643.3,298.2 643.2,298.9 645.8,300.7 643,301.5 646.2,303.3 643.2,305.5 644.8,306.7 643.6,308.7 642.8,311.3 641.8,313.1 641.5,313.5 643.9,316.1 640.9,317.6 642.1,319.8 639.9,321.4 643.1,322.7 642,324.5 638.6,325.8 641.8,326.9 639.3,328.5 642.5,329.5 640.5,331.8 639.5,332 638.9,333.7 639.7,336 636.7,337.9 637.9,338.8 639.9,341 641.1,342.5 639.5,344.1 638.8,345.8 639.4,346.8 633.8,348.6 634.6,349.5 633.9,350.3 633.9,350.6 638.7,352.3 639.2,353.1 641.5,356.1 640.5,355.8 643.5,357.7 643.7,357.8 646.2,358.8 646.9,359.9 647.8,362.5 651.2,363.9 647.7,364.2 647.9,364.7 645.7,367 645.8,367.8 642.1,368.5 643.5,369.8 640.9,370.3 637.9,372.7 641.9,373.4 640.8,375.2 639.8,377.5 637.4,380.1 635.7,380.6 633.1,381 632.9,382.7 630.6,383.2 631.4,385.5 633.7,384.5 635.9,386.1 640,386.4 640.9,385.5 641.9,386.2 646.7,386 644.9,387.2 645.8,387.7 648.3,387.5 651.7,388.3" fill="none" stroke="#e02a70" stroke-width="0.45" stroke-linejoin="round" stroke-linecap="round"/>
<g fill="#e02a70"><circle cx="644.8" cy="72.9" r="0.95"/><circle cx="643.7" cy="74" r="0.95"/><circle cx="640.1" cy="75.4" r="0.95"/><circle cx="642.9" cy="76.9" r="0.95"/><circle cx="640.9" cy="77" r="0.95"/><circle cx="638.5" cy="78.1" r="0.95"/><circle cx="637.7" cy="79.1" r="0.95"/><circle cx="638.9" cy="81.6" r="0.95"/><circle cx="642.8" cy="82.7" r="0.95"/><circle cx="643.9" cy="82.8" r="0.95"/><circle cx="642.9" cy="84.4" r="0.95"/><circle cx="646.2" cy="85.7" r="0.95"/><circle cx="645.4" cy="85.3" r="0.95"/><circle cx="642.7" cy="86.9" r="0.95"/><circle cx="640.7" cy="86.9" r="0.95"/><circle cx="639.1" cy="87.5" r="0.95"/><circle cx="642.8" cy="90.1" r="0.95"/><circle cx="642.4" cy="90.8" r="0.95"/><circle cx="645.1" cy="92.7" r="0.95"/><circle cx="645.9" cy="94.5" r="0.95"/><circle cx="643.1" cy="96.8" r="0.95"/><circle cx="642.3" cy="98.4" r="0.95"/><circle cx="638.9" cy="99.9" r="0.95"/><circle cx="640.7" cy="101.1" r="0.95"/><circle cx="638" cy="103.9" r="0.95"/><circle cx="640.1" cy="105.7" r="0.95"/><circle cx="640.4" cy="107.4" r="0.95"/><circle cx="642.3" cy="109.1" r="0.95"/><circle cx="638.8" cy="111.1" r="0.95"/><circle cx="640.3" cy="113.1" r="0.95"/><circle cx="639.5" cy="115.8" r="0.95"/><circle cx="640.3" cy="116.8" r="0.95"/><circle cx="644.1" cy="117.4" r="0.95"/><circle cx="641" cy="118.9" r="0.95"/><circle cx="646" cy="120.8" r="0.95"/><circle cx="645.1" cy="121.7" r="0.95"/><circle cx="646.5" cy="123.1" r="0.95"/><circle cx="644.9" cy="125" r="0.95"/><circle cx="648" cy="126.9" r="0.95"/><circle cx="645.3" cy="127.8" r="0.95"/><circle cx="639.9" cy="127.8" r="0.95"/><circle cx="643.4" cy="131.4" r="0.95"/><circle cx="639.3" cy="133.1" r="0.95"/><circle cx="638.9" cy="134.5" r="0.95"/><circle cx="637" cy="135.2" r="0.95"/><circle cx="637.4" cy="136.7" r="0.95"/><circle cx="636.7" cy="139.5" r="0.95"/><circle cx="638.1" cy="139.1" r="0.95"/><circle cx="638.4" cy="140.3" r="0.95"/><circle cx="643.6" cy="141.5" r="0.95"/><circle cx="643.1" cy="141.5" r="0.95"/><circle cx="648.4" cy="142.4" r="0.95"/><circle cx="646.6" cy="142.3" r="0.95"/><circle cx="647.2" cy="143.7" r="0.95"/><circle cx="651.4" cy="145" r="0.95"/><circle cx="649.7" cy="146.8" r="0.95"/><circle cx="648.8" cy="148.2" r="0.95"/><circle cx="646.2" cy="148.2" r="0.95"/><circle cx="647.4" cy="148.7" r="0.95"/><circle cx="647.4" cy="151.7" r="0.95"/><circle cx="641.9" cy="152.2" r="0.95"/><circle cx="638.9" cy="152.9" r="0.95"/><circle cx="638" cy="154.2" r="0.95"/><circle cx="639.2" cy="154.3" r="0.95"/><circle cx="633.8" cy="154.6" r="0.95"/><circle cx="633.2" cy="155.2" r="0.95"/><circle cx="633.6" cy="158.1" r="0.95"/><circle cx="633.6" cy="158.9" r="0.95"/><circle cx="638.4" cy="161" r="0.95"/><circle cx="639.7" cy="162.3" r="0.95"/><circle cx="640.5" cy="163.6" r="0.95"/><circle cx="641.3" cy="164.7" r="0.95"/><circle cx="641.2" cy="164.7" r="0.95"/><circle cx="641.7" cy="166.5" r="0.95"/><circle cx="647" cy="167.2" r="0.95"/><circle cx="646.2" cy="167.5" r="0.95"/><circle cx="650.1" cy="168.5" r="0.95"/><circle cx="651.8" cy="169.3" r="0.95"/><circle cx="652.6" cy="170.5" r="0.95"/><circle cx="651.8" cy="171.8" r="0.95"/><circle cx="653.5" cy="171" r="0.95"/><circle cx="652" cy="172.6" r="0.95"/><circle cx="649" cy="171.7" r="0.95"/><circle cx="648.6" cy="172.2" r="0.95"/><circle cx="647.3" cy="173.3" r="0.95"/><circle cx="641" cy="173.3" r="0.95"/><circle cx="641.8" cy="174.5" r="0.95"/><circle cx="640.4" cy="175.7" r="0.95"/><circle cx="638.8" cy="177.3" r="0.95"/><circle cx="644.2" cy="178" r="0.95"/><circle cx="645.9" cy="178.8" r="0.95"/><circle cx="647.6" cy="180.4" r="0.95"/><circle cx="646.3" cy="180.7" r="0.95"/><circle cx="644.7" cy="180.8" r="0.95"/><circle cx="642" cy="181.7" r="0.95"/><circle cx="641.5" cy="182.7" r="0.95"/><circle cx="637.9" cy="182.7" r="0.95"/><circle cx="634.2" cy="182.4" r="0.95"/><circle cx="635.4" cy="183.5" r="0.95"/><circle cx="635.2" cy="184.1" r="0.95"/><circle cx="630.2" cy="185.2" r="0.95"/><circle cx="631.8" cy="186.8" r="0.95"/><circle cx="630.1" cy="187.9" r="0.95"/><circle cx="635.9" cy="187.5" r="0.95"/><circle cx="636.5" cy="188.5" r="0.95"/><circle cx="639.2" cy="189.2" r="0.95"/><circle cx="638" cy="190.2" r="0.95"/><circle cx="643" cy="190.4" r="0.95"/><circle cx="640.3" cy="191.9" r="0.95"/><circle cx="646" cy="192.2" r="0.95"/><circle cx="645.8" cy="193.1" r="0.95"/><circle cx="645.8" cy="193" r="0.95"/><circle cx="644.7" cy="194.2" r="0.95"/><circle cx="640.3" cy="196.1" r="0.95"/><circle cx="641.8" cy="197.5" r="0.95"/><circle cx="641.5" cy="199" r="0.95"/><circle cx="643.2" cy="199.3" r="0.95"/><circle cx="646.3" cy="200.9" r="0.95"/><circle cx="648.2" cy="203" r="0.95"/><circle cx="647.1" cy="203.6" r="0.95"/><circle cx="643.5" cy="205.1" r="0.95"/><circle cx="642.6" cy="206.1" r="0.95"/><circle cx="640.8" cy="205.9" r="0.95"/><circle cx="638" cy="207.8" r="0.95"/><circle cx="636.6" cy="208.3" r="0.95"/><circle cx="637.7" cy="208.7" r="0.95"/><circle cx="634.2" cy="209.4" r="0.95"/><circle cx="634.1" cy="210.8" r="0.95"/><circle cx="636.5" cy="211.7" r="0.95"/><circle cx="637.4" cy="212.6" r="0.95"/><circle cx="640.6" cy="214.2" r="0.95"/><circle cx="639.9" cy="215.5" r="0.95"/><circle cx="642.8" cy="217.1" r="0.95"/><circle cx="643.6" cy="218.1" r="0.95"/><circle cx="642.1" cy="219.4" r="0.95"/><circle cx="646.6" cy="220.9" r="0.95"/><circle cx="648" cy="222.6" r="0.95"/><circle cx="645.5" cy="224.1" r="0.95"/><circle cx="644.7" cy="225.2" r="0.95"/><circle cx="644.6" cy="228.5" r="0.95"/><circle cx="642.1" cy="229.1" r="0.95"/><circle cx="641.3" cy="229.6" r="0.95"/><circle cx="638.4" cy="230.1" r="0.95"/><circle cx="641.4" cy="232.3" r="0.95"/><circle cx="641.6" cy="233.9" r="0.95"/><circle cx="643.4" cy="234.6" r="0.95"/><circle cx="642.6" cy="236.7" r="0.95"/><circle cx="641.6" cy="239.3" r="0.95"/><circle cx="641.4" cy="241.3" r="0.95"/><circle cx="637.4" cy="242.8" r="0.95"/><circle cx="639.1" cy="244.9" r="0.95"/><circle cx="639.8" cy="246.3" r="0.95"/><circle cx="639.3" cy="247.7" r="0.95"/><circle cx="640.7" cy="248.5" r="0.95"/><circle cx="642.1" cy="250.6" r="0.95"/><circle cx="638.3" cy="251.9" r="0.95"/><circle cx="637.4" cy="254.4" r="0.95"/><circle cx="639.7" cy="256.8" r="0.95"/><circle cx="638.1" cy="257.4" r="0.95"/><circle cx="641.4" cy="258.5" r="0.95"/><circle cx="640.8" cy="259.4" r="0.95"/><circle cx="641.6" cy="261.1" r="0.95"/><circle cx="646" cy="262.2" r="0.95"/><circle cx="645.9" cy="263.6" r="0.95"/><circle cx="648.6" cy="263.5" r="0.95"/><circle cx="645" cy="266" r="0.95"/><circle cx="648.4" cy="267.2" r="0.95"/><circle cx="645.6" cy="267.6" r="0.95"/><circle cx="642.4" cy="269" r="0.95"/><circle cx="642.3" cy="271.4" r="0.95"/><circle cx="644.8" cy="272.7" r="0.95"/><circle cx="640.5" cy="273.3" r="0.95"/><circle cx="640.6" cy="276.3" r="0.95"/><circle cx="639.3" cy="278.1" r="0.95"/><circle cx="641.1" cy="279.7" r="0.95"/><circle cx="642.2" cy="281.2" r="0.95"/><circle cx="639.8" cy="283" r="0.95"/><circle cx="637.5" cy="284.8" r="0.95"/><circle cx="638.3" cy="286.9" r="0.95"/><circle cx="638.3" cy="289.3" r="0.95"/><circle cx="640.6" cy="290.4" r="0.95"/><circle cx="643.8" cy="291.4" r="0.95"/><circle cx="644.8" cy="293" r="0.95"/><circle cx="646.9" cy="295.5" r="0.95"/><circle cx="643.9" cy="296.9" r="0.95"/><circle cx="643.3" cy="298.2" r="0.95"/><circle cx="643.2" cy="298.9" r="0.95"/><circle cx="645.8" cy="300.7" r="0.95"/><circle cx="643" cy="301.5" r="0.95"/><circle cx="646.2" cy="303.3" r="0.95"/><circle cx="643.2" cy="305.5" r="0.95"/><circle cx="644.8" cy="306.7" r="0.95"/><circle cx="643.6" cy="308.7" r="0.95"/><circle cx="642.8" cy="311.3" r="0.95"/><circle cx="641.8" cy="313.1" r="0.95"/><circle cx="641.5" cy="313.5" r="0.95"/><circle cx="643.9" cy="316.1" r="0.95"/><circle cx="640.9" cy="317.6" r="0.95"/><circle cx="642.1" cy="319.8" r="0.95"/><circle cx="639.9" cy="321.4" r="0.95"/><circle cx="643.1" cy="322.7" r="0.95"/><circle cx="642" cy="324.5" r="0.95"/><circle cx="638.6" cy="325.8" r="0.95"/><circle cx="641.8" cy="326.9" r="0.95"/><circle cx="639.3" cy="328.5" r="0.95"/><circle cx="642.5" cy="329.5" r="0.95"/><circle cx="640.5" cy="331.8" r="0.95"/><circle cx="639.5" cy="332" r="0.95"/><circle cx="638.9" cy="333.7" r="0.95"/><circle cx="639.7" cy="336" r="0.95"/><circle cx="636.7" cy="337.9" r="0.95"/><circle cx="637.9" cy="338.8" r="0.95"/><circle cx="639.9" cy="341" r="0.95"/><circle cx="641.1" cy="342.5" r="0.95"/><circle cx="639.5" cy="344.1" r="0.95"/><circle cx="638.8" cy="345.8" r="0.95"/><circle cx="639.4" cy="346.8" r="0.95"/><circle cx="633.8" cy="348.6" r="0.95"/><circle cx="634.6" cy="349.5" r="0.95"/><circle cx="633.9" cy="350.3" r="0.95"/><circle cx="633.9" cy="350.6" r="0.95"/><circle cx="638.7" cy="352.3" r="0.95"/><circle cx="639.2" cy="353.1" r="0.95"/><circle cx="641.5" cy="356.1" r="0.95"/><circle cx="640.5" cy="355.8" r="0.95"/><circle cx="643.5" cy="357.7" r="0.95"/><circle cx="643.7" cy="357.8" r="0.95"/><circle cx="646.2" cy="358.8" r="0.95"/><circle cx="646.9" cy="359.9" r="0.95"/><circle cx="647.8" cy="362.5" r="0.95"/><circle cx="651.2" cy="363.9" r="0.95"/><circle cx="647.7" cy="364.2" r="0.95"/><circle cx="647.9" cy="364.7" r="0.95"/><circle cx="645.7" cy="367" r="0.95"/><circle cx="645.8" cy="367.8" r="0.95"/><circle cx="642.1" cy="368.5" r="0.95"/><circle cx="643.5" cy="369.8" r="0.95"/><circle cx="640.9" cy="370.3" r="0.95"/><circle cx="637.9" cy="372.7" r="0.95"/><circle cx="641.9" cy="373.4" r="0.95"/><circle cx="640.8" cy="375.2" r="0.95"/><circle cx="639.8" cy="377.5" r="0.95"/><circle cx="637.4" cy="380.1" r="0.95"/><circle cx="635.7" cy="380.6" r="0.95"/><circle cx="633.1" cy="381" r="0.95"/><circle cx="632.9" cy="382.7" r="0.95"/><circle cx="630.6" cy="383.2" r="0.95"/><circle cx="631.4" cy="385.5" r="0.95"/><circle cx="633.7" cy="384.5" r="0.95"/><circle cx="635.9" cy="386.1" r="0.95"/><circle cx="640" cy="386.4" r="0.95"/><circle cx="640.9" cy="385.5" r="0.95"/><circle cx="641.9" cy="386.2" r="0.95"/><circle cx="646.7" cy="386" r="0.95"/><circle cx="644.9" cy="387.2" r="0.95"/><circle cx="645.8" cy="387.7" r="0.95"/><circle cx="648.3" cy="387.5" r="0.95"/><circle cx="651.7" cy="388.3" r="0.95"/></g>
<polygon points="689.3,226.9 690,227.6 690.8,228.4 691.5,229.1 692.2,229.8 692.9,230.5 693.7,231.2 694.4,232 695.1,232.7 694.6,233.7 694.2,234.6 693.7,235.6 693.2,236.6 692.2,237.1 691.2,237.6 690.3,238.1 689.3,238.6 689.3,238.6 689.3,238.1 689.3,237.6 689.3,237.1 689.3,236.6 689.3,235.6 689.3,234.6 689.3,233.7 689.3,232.7 689.3,232 689.3,231.2 689.3,230.5 689.3,229.8 689.3,229.1 689.3,228.4 689.3,227.6 689.3,226.9" fill="#a3d47c"/>
<polygon points="686.7,242.5 686.7,243.1 686.7,243.7 687.3,244.2 688.3,244.8 689.3,245.4 690.3,245.8 691.3,246.2 692.2,246.6 693.2,247 694.2,247.4 693.2,248 692.2,248.6 691.3,249.1 690.3,249.7 689.3,250.3 689.3,250.3 688.9,249.7 688.6,249.1 688.2,248.6 687.8,248 687.5,247.4 687.2,247 687,246.6 686.9,246.2 686.8,245.8 686.8,245.4 686.8,244.8 686.7,244.2 686.7,243.7 686.7,243.1 686.7,242.5" fill="#a3d47c"/>
<polygon points="687.8,252.2 688.3,252.8 689.3,253.4 690.2,254 691.2,254.6 692.2,255.2 693.2,255.7 694.2,256.1 695.1,256.6 696.1,257.1 695.1,257.8 694.2,258.6 693.2,259.3 692.2,260 691.2,260.4 690.3,260.9 689.3,261.3 688.3,261.7 688.2,262.1 688.3,262.6 688.3,263 688.3,263 688.3,262.6 688.2,262.1 688.2,261.7 688.2,261.3 688.2,260.9 688.2,260.4 688.2,260 688.1,259.3 688.1,258.6 688.1,257.8 688.1,257.1 688.1,256.6 688.1,256.1 688.1,255.7 688.1,255.2 688,254.6 688,254 687.9,253.4 687.9,252.8 687.8,252.2" fill="#a3d47c"/>
<polygon points="688.3,263 688.4,263.5 688.4,263.9 688.5,264.4 689.3,264.9 690.3,265.4 691.2,265.9 692.2,266.3 693.2,266.8 694.2,267.3 695.2,267.8 696.1,268.3 697.1,268.8 696.1,269.4 695.1,270 694.2,270.5 693.2,271.1 692.2,271.7 692.5,272.7 692.9,273.6 693.2,274.6 693.9,275.4 694.7,276.1 695.4,276.9 696.1,277.6 695.4,278.3 694.7,279.1 693.9,279.8 693.2,280.5 692.5,281.5 691.9,282.4 691.2,283.4 690.2,283.9 689.3,284.4 688.3,284.9 687.3,285.4 686.4,285.9 685.4,286.4 685.4,286.4 685.4,285.9 685.4,285.4 685.4,284.9 685.7,284.4 686,283.9 686.4,283.4 687,282.4 687.6,281.5 688.1,280.5 688.5,279.8 688.8,279.1 689.1,278.3 689.4,277.6 689.6,276.9 689.8,276.1 689.9,275.4 690,274.6 690,273.6 690,272.7 689.9,271.7 689.8,271.1 689.7,270.5 689.6,270 689.5,269.4 689.3,268.8 689.2,268.3 689.1,267.8 689,267.3 688.9,266.8 688.8,266.3 688.7,265.9 688.6,265.4 688.6,264.9 688.5,264.4 688.4,263.9 688.4,263.5 688.3,263" fill="#a3d47c"/>
<polygon points="684.9,302 685.1,302.4 685.3,302.8 685.5,303.1 686.3,303.5 687.3,303.9 688.3,304.4 689.2,304.9 690.2,305.4 691.2,305.9 692.2,306.5 693.2,307.2 694.2,307.8 695.2,308.5 696.1,309.1 697.1,309.8 696.1,310.4 695.2,311.1 694.2,311.7 695.2,312.4 696.2,313.2 697.1,313.9 698.1,314.7 697.1,315 696.1,315.3 695.2,315.6 694.2,316 693.2,316.3 692.2,316.6 691.2,317.2 690.2,317.8 689.3,318.3 688.3,318.9 687.6,319.5 687.6,319.5 687.9,318.9 688.1,318.3 688.3,317.8 688.5,317.2 688.7,316.6 688.9,316.3 689,316 689.1,315.6 689.1,315.3 689.2,315 689.3,314.7 689.4,313.9 689.5,313.2 689.5,312.4 689.4,311.7 689.4,311.1 689.2,310.4 689,309.8 688.8,309.1 688.5,308.5 688.2,307.8 687.9,307.2 687.5,306.5 687.2,305.9 686.9,305.4 686.6,304.9 686.3,304.4 686,303.9 685.7,303.5 685.5,303.1 685.3,302.8 685.1,302.4 684.9,302" fill="#a3d47c"/>
<polygon points="686.3,325.4 686.4,326.1 687.3,326.7 688.3,327.4 689.5,327.6 690.8,327.9 692,328.1 693.2,328.3 693.4,329.3 693.6,330.3 693.8,331.2 694,332.2 694.2,333.2 693.2,333.4 692.2,333.6 691.3,333.8 690.3,334 689.3,334.2 688.3,334.6 687.3,335 686.6,335.3 686.6,335.7 686.7,336.1 686.7,336.1 686.6,335.7 686.6,335.3 686.6,335 686.6,334.6 686.5,334.2 686.5,334 686.5,333.8 686.5,333.6 686.5,333.4 686.5,333.2 686.5,332.2 686.5,331.2 686.5,330.3 686.4,329.3 686.4,328.3 686.4,328.1 686.4,327.9 686.4,327.6 686.3,327.4 686.3,326.7 686.3,326.1 686.3,325.4" fill="#a3d47c"/>
<polyline points="695.1,85.4 691.2,86.4 685.4,89.3 690.3,92.2 694.2,93.8 697.1,95.2 694.2,98.1 691.2,100 692.2,102.9 695.1,104.9 692.2,106.8 696.1,109.8 691.2,111.7 687.3,114.6 685.4,117.6 684.4,120.5 687.3,123.4 690.3,125.4 689.3,129.3 691.2,133.2 688.3,135.1 692.2,138.1 695.1,141 693.2,144.9 694.2,150.8 695.1,154.7 693.2,158.6 691.2,162.5 689.3,164.4 690.3,168.3 687.3,170.3 683.4,172.2 687.3,174.2 692.2,177.1 696.1,180 699,182.5 695.1,185.9 698.1,188.8 694.2,191.7 691.2,195.6 688.3,199.5 686.4,204.4 686.4,209.3 689.3,213.2 692.2,216.1 695.1,219 692.2,222 689.3,226.9 692.2,229.8 695.1,232.7 693.2,236.6 689.3,238.6 684.4,242.5 689.3,245.4 694.2,247.4 689.3,250.3 687.3,252.2 692.2,255.2 696.1,257.1 692.2,260 685.4,263 689.3,264.9 693.2,266.8 697.1,268.8 692.2,271.7 693.2,274.6 696.1,277.6 693.2,280.5 691.2,283.4 685.4,286.4 681.5,289.3 681.1,293.2 685.4,295.1 687.3,297.1 684.4,300 682.5,302 687.3,303.9 691.2,305.9 694.2,307.8 697.1,309.8 694.2,311.7 698.1,314.7 692.2,316.6 687.3,319.5 683.4,322.5 685.4,325.4 688.3,327.4 693.2,328.3 694.2,333.2 689.3,334.2 684.4,336.1 684.4,338.1 688.3,340 692.2,342.9 694.2,346.8 699,348.8 703,350.7 701,353.7 698.1,356.6 691.2,357.6 687.3,360.5 684.4,363.4 682.5,366.4 682.5,370.3 689.3,371.2 692.2,374.2 694.2,377.1 696.1,380" fill="none" stroke="#2323a6" stroke-width="0.6" stroke-linejoin="round" stroke-linecap="round"/>
<g fill="#2323a6"><circle cx="695.1" cy="85.4" r="1.0"/><circle cx="691.2" cy="86.4" r="1.0"/><circle cx="688.3" cy="87.8" r="1.0"/><circle cx="685.4" cy="89.3" r="1.0"/><circle cx="687.8" cy="90.8" r="1.0"/><circle cx="690.3" cy="92.2" r="1.0"/><circle cx="694.2" cy="93.8" r="1.0"/><circle cx="697.1" cy="95.2" r="1.0"/><circle cx="694.2" cy="98.1" r="1.0"/><circle cx="691.2" cy="100" r="1.0"/><circle cx="692.2" cy="102.9" r="1.0"/><circle cx="695.1" cy="104.9" r="1.0"/><circle cx="692.2" cy="106.8" r="1.0"/><circle cx="696.1" cy="109.8" r="1.0"/><circle cx="693.7" cy="110.8" r="1.0"/><circle cx="691.2" cy="111.7" r="1.0"/><circle cx="687.3" cy="114.6" r="1.0"/><circle cx="685.4" cy="117.6" r="1.0"/><circle cx="684.4" cy="120.5" r="1.0"/><circle cx="687.3" cy="123.4" r="1.0"/><circle cx="690.3" cy="125.4" r="1.0"/><circle cx="689.3" cy="129.3" r="1.0"/><circle cx="691.2" cy="133.2" r="1.0"/><circle cx="688.3" cy="135.1" r="1.0"/><circle cx="692.2" cy="138.1" r="1.0"/><circle cx="695.1" cy="141" r="1.0"/><circle cx="693.2" cy="144.9" r="1.0"/><circle cx="693.7" cy="147.9" r="1.0"/><circle cx="694.2" cy="150.8" r="1.0"/><circle cx="695.1" cy="154.7" r="1.0"/><circle cx="693.2" cy="158.6" r="1.0"/><circle cx="691.2" cy="162.5" r="1.0"/><circle cx="689.3" cy="164.4" r="1.0"/><circle cx="690.3" cy="168.3" r="1.0"/><circle cx="687.3" cy="170.3" r="1.0"/><circle cx="683.4" cy="172.2" r="1.0"/><circle cx="687.3" cy="174.2" r="1.0"/><circle cx="689.8" cy="175.6" r="1.0"/><circle cx="692.2" cy="177.1" r="1.0"/><circle cx="696.1" cy="180" r="1.0"/><circle cx="699" cy="182.5" r="1.0"/><circle cx="695.1" cy="185.9" r="1.0"/><circle cx="698.1" cy="188.8" r="1.0"/><circle cx="694.2" cy="191.7" r="1.0"/><circle cx="691.2" cy="195.6" r="1.0"/><circle cx="688.3" cy="199.5" r="1.0"/><circle cx="687.3" cy="201.9" r="1.0"/><circle cx="686.4" cy="204.4" r="1.0"/><circle cx="686.4" cy="209.3" r="1.0"/><circle cx="689.3" cy="213.2" r="1.0"/><circle cx="692.2" cy="216.1" r="1.0"/><circle cx="695.1" cy="219" r="1.0"/><circle cx="692.2" cy="222" r="1.0"/><circle cx="690.8" cy="224.4" r="1.0"/><circle cx="689.3" cy="226.9" r="1.0"/><circle cx="692.2" cy="229.8" r="1.0"/><circle cx="695.1" cy="232.7" r="1.0"/><circle cx="693.2" cy="236.6" r="1.0"/><circle cx="689.3" cy="238.6" r="1.0"/><circle cx="686.8" cy="240.6" r="1.0"/><circle cx="684.4" cy="242.5" r="1.0"/><circle cx="686.8" cy="243.9" r="1.0"/><circle cx="689.3" cy="245.4" r="1.0"/><circle cx="691.8" cy="246.4" r="1.0"/><circle cx="694.2" cy="247.4" r="1.0"/><circle cx="691.8" cy="248.9" r="1.0"/><circle cx="689.3" cy="250.3" r="1.0"/><circle cx="687.3" cy="252.2" r="1.0"/><circle cx="689.8" cy="253.7" r="1.0"/><circle cx="692.2" cy="255.2" r="1.0"/><circle cx="696.1" cy="257.1" r="1.0"/><circle cx="692.2" cy="260" r="1.0"/><circle cx="688.8" cy="261.5" r="1.0"/><circle cx="685.4" cy="263" r="1.0"/><circle cx="689.3" cy="264.9" r="1.0"/><circle cx="693.2" cy="266.8" r="1.0"/><circle cx="697.1" cy="268.8" r="1.0"/><circle cx="694.7" cy="270.2" r="1.0"/><circle cx="692.2" cy="271.7" r="1.0"/><circle cx="693.2" cy="274.6" r="1.0"/><circle cx="696.1" cy="277.6" r="1.0"/><circle cx="693.2" cy="280.5" r="1.0"/><circle cx="691.2" cy="283.4" r="1.0"/><circle cx="688.3" cy="284.9" r="1.0"/><circle cx="685.4" cy="286.4" r="1.0"/><circle cx="681.5" cy="289.3" r="1.0"/><circle cx="681.1" cy="293.2" r="1.0"/><circle cx="685.4" cy="295.1" r="1.0"/><circle cx="687.3" cy="297.1" r="1.0"/><circle cx="684.4" cy="300" r="1.0"/><circle cx="682.5" cy="302" r="1.0"/><circle cx="687.3" cy="303.9" r="1.0"/><circle cx="691.2" cy="305.9" r="1.0"/><circle cx="694.2" cy="307.8" r="1.0"/><circle cx="697.1" cy="309.8" r="1.0"/><circle cx="694.2" cy="311.7" r="1.0"/><circle cx="698.1" cy="314.7" r="1.0"/><circle cx="695.2" cy="315.6" r="1.0"/><circle cx="692.2" cy="316.6" r="1.0"/><circle cx="689.8" cy="318.1" r="1.0"/><circle cx="687.3" cy="319.5" r="1.0"/><circle cx="683.4" cy="322.5" r="1.0"/><circle cx="685.4" cy="325.4" r="1.0"/><circle cx="688.3" cy="327.4" r="1.0"/><circle cx="693.2" cy="328.3" r="1.0"/><circle cx="694.2" cy="333.2" r="1.0"/><circle cx="689.3" cy="334.2" r="1.0"/><circle cx="686.8" cy="335.1" r="1.0"/><circle cx="684.4" cy="336.1" r="1.0"/><circle cx="684.4" cy="338.1" r="1.0"/><circle cx="688.3" cy="340" r="1.0"/><circle cx="692.2" cy="342.9" r="1.0"/><circle cx="694.2" cy="346.8" r="1.0"/><circle cx="699" cy="348.8" r="1.0"/><circle cx="703" cy="350.7" r="1.0"/><circle cx="701" cy="353.7" r="1.0"/><circle cx="698.1" cy="356.6" r="1.0"/><circle cx="694.7" cy="357.1" r="1.0"/><circle cx="691.2" cy="357.6" r="1.0"/><circle cx="687.3" cy="360.5" r="1.0"/><circle cx="684.4" cy="363.4" r="1.0"/><circle cx="682.5" cy="366.4" r="1.0"/><circle cx="682.5" cy="370.3" r="1.0"/><circle cx="685.9" cy="370.8" r="1.0"/><circle cx="689.3" cy="371.2" r="1.0"/><circle cx="692.2" cy="374.2" r="1.0"/><circle cx="694.2" cy="377.1" r="1.0"/><circle cx="696.1" cy="380" r="1.0"/></g>
<polyline points="736.8,121.4 736.8,137.7 734.5,137.7 734.5,164.7 722.8,164.7 722.8,178.4 721.8,178.4 721.8,208 737.1,208 737.1,264 727.4,264 727.4,351 730.2,351 730.2,402" fill="none" stroke="#e2785a" stroke-width="0.9" stroke-linejoin="round" stroke-linecap="round"/>
<g fill="#e2785a"><rect x="735.9" y="120.5" width="1.8" height="1.8"/><rect x="735.9" y="136.8" width="1.8" height="1.8"/><rect x="733.6" y="136.8" width="1.8" height="1.8"/><rect x="733.6" y="163.8" width="1.8" height="1.8"/><rect x="721.9" y="163.8" width="1.8" height="1.8"/><rect x="721.9" y="177.5" width="1.8" height="1.8"/><rect x="720.9" y="185.1" width="1.8" height="1.8"/><rect x="720.9" y="197.6" width="1.8" height="1.8"/><rect x="720.9" y="207.1" width="1.8" height="1.8"/><rect x="736.2" y="207.1" width="1.8" height="1.8"/><rect x="736.2" y="234.4" width="1.8" height="1.8"/><rect x="736.2" y="263.1" width="1.8" height="1.8"/><rect x="726.5" y="263.1" width="1.8" height="1.8"/><rect x="726.5" y="290.1" width="1.8" height="1.8"/><rect x="726.5" y="319.7" width="1.8" height="1.8"/><rect x="726.5" y="350.1" width="1.8" height="1.8"/><rect x="729.3" y="350.1" width="1.8" height="1.8"/><rect x="729.3" y="401.1" width="1.8" height="1.8"/></g>
<line x1="461.8" y1="125.3" x2="472.5" y2="125.3" stroke="#acacac" stroke-width="1.4"/>
<line x1="487.2" y1="125.3" x2="495" y2="125.3" stroke="#acacac" stroke-width="1.4"/>
<line x1="502.8" y1="125.3" x2="523.4" y2="125.3" stroke="#acacac" stroke-width="1.4"/>
<line x1="532.2" y1="125.3" x2="568.5" y2="125.3" stroke="#acacac" stroke-width="1.4"/>
<line x1="579.3" y1="125.3" x2="641.2" y2="125.3" stroke="#acacac" stroke-width="1.4"/>
<line x1="654.8" y1="125.3" x2="685.4" y2="125.3" stroke="#acacac" stroke-width="1.4"/>
<line x1="457.9" y1="264.2" x2="467.7" y2="264.2" stroke="#acacac" stroke-width="1.4"/>
<line x1="482.3" y1="264.2" x2="491.1" y2="264.2" stroke="#acacac" stroke-width="1.4"/>
<line x1="498.9" y1="264.2" x2="526.3" y2="264.2" stroke="#acacac" stroke-width="1.4"/>
<line x1="541.9" y1="264.2" x2="571.9" y2="264.2" stroke="#acacac" stroke-width="1.4"/>
<line x1="585.6" y1="264.2" x2="639.2" y2="264.2" stroke="#acacac" stroke-width="1.4"/>
<line x1="650.9" y1="264.2" x2="680.5" y2="264.2" stroke="#acacac" stroke-width="1.4"/>
<text x="475.1" y="128.9" font-size="10" text-anchor="start" fill="#222">x1</text>
<text x="456.5" y="178.4" font-size="10" text-anchor="start" fill="#222">x2</text>
<text x="454" y="206" font-size="10" text-anchor="start" fill="#222">x3</text>
<text x="470.2" y="267.8" font-size="10" text-anchor="start" fill="#222">x4</text>
<text x="478.8" y="302.6" font-size="10" text-anchor="start" fill="#222">x5</text>
<text x="406.9" y="64.9" font-size="13" text-anchor="start" fill="#222">LT</text>
<text x="501.2" y="80" font-size="13" text-anchor="start" fill="#222">LT</text>
<text x="601.5" y="79.5" font-size="13" text-anchor="start" fill="#222">LT</text>
<text x="708.4" y="79.5" font-size="13" text-anchor="start" fill="#222">LT</text>
<polygon points="509.2,137.3 504.2,139.5 509.2,141.7" fill="#2e72d8"/>
<polygon points="521,137.3 526,139.5 521,141.7" fill="#2e72d8"/>
<polygon points="496,168.9 501,171.1 496,173.3" fill="#e02a70"/>
<polygon points="525.2,168.9 520.2,171.1 525.2,173.3" fill="#e02a70"/>
<polygon points="497.3,174.9 492.3,177.1 497.3,179.3" fill="#2e72d8"/>
<polygon points="522.8,174.9 527.8,177.1 522.8,179.3" fill="#2e72d8"/>
<polygon points="482,200.6 487,202.8 482,205" fill="#e02a70"/>
<polygon points="523.2,200.6 518.2,202.8 523.2,205" fill="#e02a70"/>
<polygon points="658.2,137.3 653.2,139.5 658.2,141.7" fill="#2e72d8"/>
<polygon points="678,137.3 683,139.5 678,141.7" fill="#2e72d8"/>
<polygon points="662.1,169 667.1,171.2 662.1,173.4" fill="#e02a70"/>
<polygon points="679,169 674,171.2 679,173.4" fill="#e02a70"/>
<polygon points="659.3,174.9 654.3,177.1 659.3,179.3" fill="#2e72d8"/>
<polygon points="677.8,174.9 682.8,177.1 677.8,179.3" fill="#2e72d8"/>
<polygon points="655.8,200.6 660.8,202.8 655.8,205" fill="#e02a70"/>
<polygon points="681.3,200.6 676.3,202.8 681.3,205" fill="#e02a70"/>
<polygon points="492.3,349.2 487.3,351.4 492.3,353.6" fill="#1f4e9a"/>
<polygon points="543.5,349.2 548.5,351.4 543.5,353.6" fill="#1f4e9a"/>
<polygon points="492,361.6 497,363.8 492,366" fill="#e02a70"/>
<polygon points="542.2,361.6 537.2,363.8 542.2,366" fill="#e02a70"/>
<polygon points="492,387.2 497,389.4 492,391.6" fill="#e02a70"/>
<polygon points="542.2,387.2 537.2,389.4 542.2,391.6" fill="#e02a70"/>
<polygon points="656.1,348.5 651.1,350.7 656.1,352.9" fill="#1f4e9a"/>
<polygon points="678.8,348.5 683.8,350.7 678.8,352.9" fill="#1f4e9a"/>
<polygon points="655.3,361.6 660.3,363.8 655.3,366" fill="#e02a70"/>
<polygon points="680,361.6 675,363.8 680,366" fill="#e02a70"/>
<polygon points="543,230.3 548.6,232.8 543,235.3" fill="#3b9b5b"/>
<polygon points="543,243.9 548.6,246.4 543,248.9" fill="#3b9b5b"/>
<polygon points="545,254.1 550.6,256.6 545,259.1" fill="#3b9b5b"/>
<polygon points="545.5,269.3 551.1,271.8 545.5,274.3" fill="#3b9b5b"/>
<polygon points="552.8,307.4 558.4,309.9 552.8,312.4" fill="#3b9b5b"/>
<polygon points="557.6,325.9 563.2,328.4 557.6,330.9" fill="#3b9b5b"/>
<polygon points="701.1,231.8 706.7,234.3 701.1,236.8" fill="#3b9b5b"/>
<polygon points="700.5,244.9 706.1,247.4 700.5,249.9" fill="#3b9b5b"/>
<polygon points="701.7,254.6 707.3,257.1 701.7,259.6" fill="#3b9b5b"/>
<polygon points="702.5,269.6 708.1,272.1 702.5,274.6" fill="#3b9b5b"/>
<polygon points="702.5,307.3 708.1,309.8 702.5,312.3" fill="#3b9b5b"/>
<polygon points="702.5,327.4 708.1,329.9 702.5,332.4" fill="#3b9b5b"/>
<line x1="459.9" y1="62.5" x2="502.8" y2="62.5" stroke="#999" stroke-width="0.8"/>
<line x1="459.9" y1="62.5" x2="459.9" y2="58.5" stroke="#999" stroke-width="0.8"/>
<line x1="467" y1="62.5" x2="467" y2="58.5" stroke="#999" stroke-width="0.8"/>
<line x1="474.2" y1="62.5" x2="474.2" y2="58.5" stroke="#999" stroke-width="0.8"/>
<line x1="481.4" y1="62.5" x2="481.4" y2="58.5" stroke="#999" stroke-width="0.8"/>
<line x1="488.5" y1="62.5" x2="488.5" y2="58.5" stroke="#999" stroke-width="0.8"/>
<line x1="495.6" y1="62.5" x2="495.6" y2="58.5" stroke="#999" stroke-width="0.8"/>
<line x1="502.8" y1="62.5" x2="502.8" y2="58.5" stroke="#999" stroke-width="0.8"/>
<text x="460.5" y="53.5" font-size="10" text-anchor="middle" fill="#222">6</text>
<text x="481.9" y="53.5" font-size="10" text-anchor="middle" fill="#222">12</text>
<text x="502.8" y="53.5" font-size="10" text-anchor="middle" fill="#222">18</text>
<text x="470" y="35.6" font-size="10.5" text-anchor="start" fill="#333" style="font-family:'Liberation Serif',serif;font-style:italic">&#967;</text>
<text x="475.4" y="39.7" font-size="6.5" text-anchor="start" fill="#333">FD</text>
<text x="485" y="34.5" font-size="7.2" text-anchor="start" fill="#333">(%)</text>
<text x="555.9" y="31.7" font-size="10.2" text-anchor="start" fill="#222">Median size (&#956;m)</text>
<line x1="567.6" y1="62.6" x2="619.9" y2="62.6" stroke="#666" stroke-width="0.8"/>
<line x1="567.6" y1="62.6" x2="567.6" y2="58.6" stroke="#666" stroke-width="0.8"/>
<line x1="575.1" y1="62.6" x2="575.1" y2="58.6" stroke="#666" stroke-width="0.8"/>
<line x1="582.5" y1="62.6" x2="582.5" y2="58.6" stroke="#666" stroke-width="0.8"/>
<line x1="590" y1="62.6" x2="590" y2="58.6" stroke="#666" stroke-width="0.8"/>
<line x1="597.5" y1="62.6" x2="597.5" y2="58.6" stroke="#666" stroke-width="0.8"/>
<line x1="605" y1="62.6" x2="605" y2="58.6" stroke="#666" stroke-width="0.8"/>
<line x1="612.4" y1="62.6" x2="612.4" y2="58.6" stroke="#666" stroke-width="0.8"/>
<line x1="619.9" y1="62.6" x2="619.9" y2="58.6" stroke="#666" stroke-width="0.8"/>
<text x="575" y="51.6" font-size="10" text-anchor="middle" fill="#222">10</text>
<text x="590" y="51.6" font-size="10" text-anchor="middle" fill="#222">14</text>
<text x="604.7" y="51.6" font-size="10" text-anchor="middle" fill="#222">18</text>
<text x="619.9" y="51.6" font-size="10" text-anchor="middle" fill="#222">22</text>
<text x="690.6" y="29.8" font-size="8.6" text-anchor="middle" fill="#222">High-pass filterred</text>
<text x="690.6" y="42.7" font-size="10" text-anchor="middle" fill="#222">&gt; 16 &#956;m (%)</text>
<line x1="675.8" y1="62.5" x2="707" y2="62.5" stroke="#666" stroke-width="0.8"/>
<line x1="675.8" y1="62.5" x2="675.8" y2="58.5" stroke="#666" stroke-width="0.8"/>
<line x1="683.6" y1="62.5" x2="683.6" y2="58.5" stroke="#666" stroke-width="0.8"/>
<line x1="691.4" y1="62.5" x2="691.4" y2="58.5" stroke="#666" stroke-width="0.8"/>
<line x1="699.2" y1="62.5" x2="699.2" y2="58.5" stroke="#666" stroke-width="0.8"/>
<line x1="707" y1="62.5" x2="707" y2="58.5" stroke="#666" stroke-width="0.8"/>
<text x="675.8" y="54.7" font-size="10" text-anchor="middle" fill="#222">-10</text>
<text x="692" y="54.7" font-size="10" text-anchor="middle" fill="#222">0</text>
<text x="707.4" y="54.7" font-size="10" text-anchor="middle" fill="#222">10</text>
<line x1="427.7" y1="404.8" x2="485.4" y2="404.8" stroke="#e02a70" stroke-width="2.0"/>
<polygon points="484.4,401.2 493.4,404.8 484.4,408.4 486.4,404.8" fill="#e02a70"/>
<text x="453.3" y="413.5" font-size="8.7" text-anchor="middle" fill="#e02a70">Stronger SM</text>
<line x1="515" y1="402.9" x2="598.9" y2="402.9" stroke="#4c8ee0" stroke-width="2.0"/>
<polygon points="597.9,399.3 606.9,402.9 597.9,406.5 599.9,402.9" fill="#4c8ee0"/>
<text x="562" y="412.7" font-size="10.3" text-anchor="middle" fill="#4c8ee0">Stronger WM</text>
<line x1="618.3" y1="396.7" x2="652.9" y2="396.7" stroke="#e02a70" stroke-width="2.0"/>
<polygon points="651.9,393.1 660.9,396.7 651.9,400.3 653.9,396.7" fill="#e02a70"/>
<text x="641.2" y="409.2" font-size="8.7" text-anchor="middle" fill="#e02a70">Stronger SM</text>
<line x1="678.3" y1="396.8" x2="702.5" y2="396.8" stroke="#2e72d8" stroke-width="1.6"/>
<polygon points="701.5,393.2 710.5,396.8 701.5,400.4 703.5,396.8" fill="#2e72d8"/>
<text x="693.6" y="409.2" font-size="8.8" text-anchor="middle" fill="#4c8ee0">Stronger</text>
<text x="694.6" y="420" font-size="8.8" text-anchor="middle" fill="#4c8ee0">WM</text>
<line x1="414.2" y1="416.7" x2="472.8" y2="416.7" stroke="#666" stroke-width="0.8"/>
<line x1="414.2" y1="416.7" x2="414.2" y2="420.5" stroke="#666" stroke-width="0.8"/>
<line x1="418.1" y1="416.7" x2="418.1" y2="418.9" stroke="#666" stroke-width="0.8"/>
<line x1="422" y1="416.7" x2="422" y2="418.9" stroke="#666" stroke-width="0.8"/>
<line x1="425.9" y1="416.7" x2="425.9" y2="418.9" stroke="#666" stroke-width="0.8"/>
<line x1="429.8" y1="416.7" x2="429.8" y2="418.9" stroke="#666" stroke-width="0.8"/>
<line x1="433.7" y1="416.7" x2="433.7" y2="420.5" stroke="#666" stroke-width="0.8"/>
<line x1="437.6" y1="416.7" x2="437.6" y2="418.9" stroke="#666" stroke-width="0.8"/>
<line x1="441.5" y1="416.7" x2="441.5" y2="418.9" stroke="#666" stroke-width="0.8"/>
<line x1="445.5" y1="416.7" x2="445.5" y2="418.9" stroke="#666" stroke-width="0.8"/>
<line x1="449.4" y1="416.7" x2="449.4" y2="418.9" stroke="#666" stroke-width="0.8"/>
<line x1="453.3" y1="416.7" x2="453.3" y2="420.5" stroke="#666" stroke-width="0.8"/>
<line x1="457.2" y1="416.7" x2="457.2" y2="418.9" stroke="#666" stroke-width="0.8"/>
<line x1="461.1" y1="416.7" x2="461.1" y2="418.9" stroke="#666" stroke-width="0.8"/>
<line x1="465" y1="416.7" x2="465" y2="418.9" stroke="#666" stroke-width="0.8"/>
<line x1="468.9" y1="416.7" x2="468.9" y2="418.9" stroke="#666" stroke-width="0.8"/>
<line x1="472.8" y1="416.7" x2="472.8" y2="420.5" stroke="#666" stroke-width="0.8"/>
<text x="413" y="433.4" font-size="9.6" text-anchor="middle" fill="#222">0</text>
<text x="432.7" y="433.4" font-size="9.6" text-anchor="middle" fill="#222">50</text>
<text x="452.5" y="433.4" font-size="9.6" text-anchor="middle" fill="#222">100</text>
<text x="472" y="433.4" font-size="9.6" text-anchor="middle" fill="#222">150</text>
<text x="408" y="448.8" font-size="13" text-anchor="start" fill="#222" style="font-family:'Liberation Serif',serif;font-style:italic">&#967;</text>
<text x="417.4" y="448.8" font-size="11.5" text-anchor="start" fill="#222">(10</text>
<text x="432.8" y="444.6" font-size="7.5" text-anchor="start" fill="#222">-8</text>
<text x="438.4" y="448.8" font-size="11.5" text-anchor="start" fill="#222">m</text>
<text x="449" y="444.6" font-size="7.5" text-anchor="start" fill="#222">-3</text>
<text x="455.4" y="448.8" font-size="11.5" text-anchor="start" fill="#222">kg</text>
<text x="468.6" y="444.6" font-size="7.5" text-anchor="start" fill="#222">-1</text>
<text x="477.4" y="448.8" font-size="11.5" text-anchor="start" fill="#222">)</text>
<line x1="518.5" y1="416.7" x2="570.4" y2="416.7" stroke="#666" stroke-width="0.8"/>
<line x1="518.5" y1="416.7" x2="518.5" y2="420.3" stroke="#666" stroke-width="0.8"/>
<line x1="525.9" y1="416.7" x2="525.9" y2="420.3" stroke="#666" stroke-width="0.8"/>
<line x1="533.3" y1="416.7" x2="533.3" y2="420.3" stroke="#666" stroke-width="0.8"/>
<line x1="540.7" y1="416.7" x2="540.7" y2="420.3" stroke="#666" stroke-width="0.8"/>
<line x1="548.2" y1="416.7" x2="548.2" y2="420.3" stroke="#666" stroke-width="0.8"/>
<line x1="555.6" y1="416.7" x2="555.6" y2="420.3" stroke="#666" stroke-width="0.8"/>
<line x1="563" y1="416.7" x2="563" y2="420.3" stroke="#666" stroke-width="0.8"/>
<line x1="570.4" y1="416.7" x2="570.4" y2="420.3" stroke="#666" stroke-width="0.8"/>
<text x="518.5" y="433.3" font-size="10" text-anchor="middle" fill="#222">25</text>
<text x="540.8" y="433.3" font-size="10" text-anchor="middle" fill="#222">40</text>
<text x="562.5" y="433.3" font-size="10" text-anchor="middle" fill="#222">55</text>
<text x="518.7" y="448.8" font-size="10" text-anchor="start" fill="#222">&gt;16 &#956;m (%)</text>
<line x1="626.1" y1="417.1" x2="657.3" y2="417.1" stroke="#666" stroke-width="0.8"/>
<line x1="626.1" y1="417.1" x2="626.1" y2="420.7" stroke="#666" stroke-width="0.8"/>
<line x1="631.3" y1="417.1" x2="631.3" y2="420.7" stroke="#666" stroke-width="0.8"/>
<line x1="636.5" y1="417.1" x2="636.5" y2="420.7" stroke="#666" stroke-width="0.8"/>
<line x1="641.7" y1="417.1" x2="641.7" y2="420.7" stroke="#666" stroke-width="0.8"/>
<line x1="646.9" y1="417.1" x2="646.9" y2="420.7" stroke="#666" stroke-width="0.8"/>
<line x1="652.1" y1="417.1" x2="652.1" y2="420.7" stroke="#666" stroke-width="0.8"/>
<line x1="657.3" y1="417.1" x2="657.3" y2="420.7" stroke="#666" stroke-width="0.8"/>
<text x="627.1" y="431.2" font-size="10" text-anchor="middle" fill="#222">-3</text>
<text x="641.7" y="431.2" font-size="10" text-anchor="middle" fill="#222">0</text>
<text x="656.7" y="431.2" font-size="10" text-anchor="middle" fill="#222">3</text>
<text x="641.2" y="442.1" font-size="8.6" text-anchor="middle" fill="#222">High-pass filterred</text>
<text x="626" y="454.6" font-size="11" text-anchor="start" fill="#222" style="font-family:'Liberation Serif',serif;font-style:italic">&#967;</text>
<text x="632" y="458" font-size="6.5" text-anchor="start" fill="#222">FD</text>
<text x="642.6" y="454.6" font-size="10" text-anchor="start" fill="#222">(%)</text>
<line x1="717.2" y1="417.1" x2="742.2" y2="417.1" stroke="#666" stroke-width="0.8"/>
<line x1="717.2" y1="417.1" x2="717.2" y2="420.7" stroke="#666" stroke-width="0.8"/>
<line x1="722.2" y1="417.1" x2="722.2" y2="420.7" stroke="#666" stroke-width="0.8"/>
<line x1="727.2" y1="417.1" x2="727.2" y2="420.7" stroke="#666" stroke-width="0.8"/>
<line x1="732.2" y1="417.1" x2="732.2" y2="420.7" stroke="#666" stroke-width="0.8"/>
<line x1="737.2" y1="417.1" x2="737.2" y2="420.7" stroke="#666" stroke-width="0.8"/>
<line x1="742.2" y1="417.1" x2="742.2" y2="420.7" stroke="#666" stroke-width="0.8"/>
<text x="717.8" y="432.2" font-size="10" text-anchor="middle" fill="#222">0</text>
<text x="742.8" y="432.2" font-size="10" text-anchor="middle" fill="#222">50</text>
<text x="706.3" y="445.7" font-size="10" text-anchor="start" fill="#222">a.r.(cm/kyr)</text>
</svg></body></html>
